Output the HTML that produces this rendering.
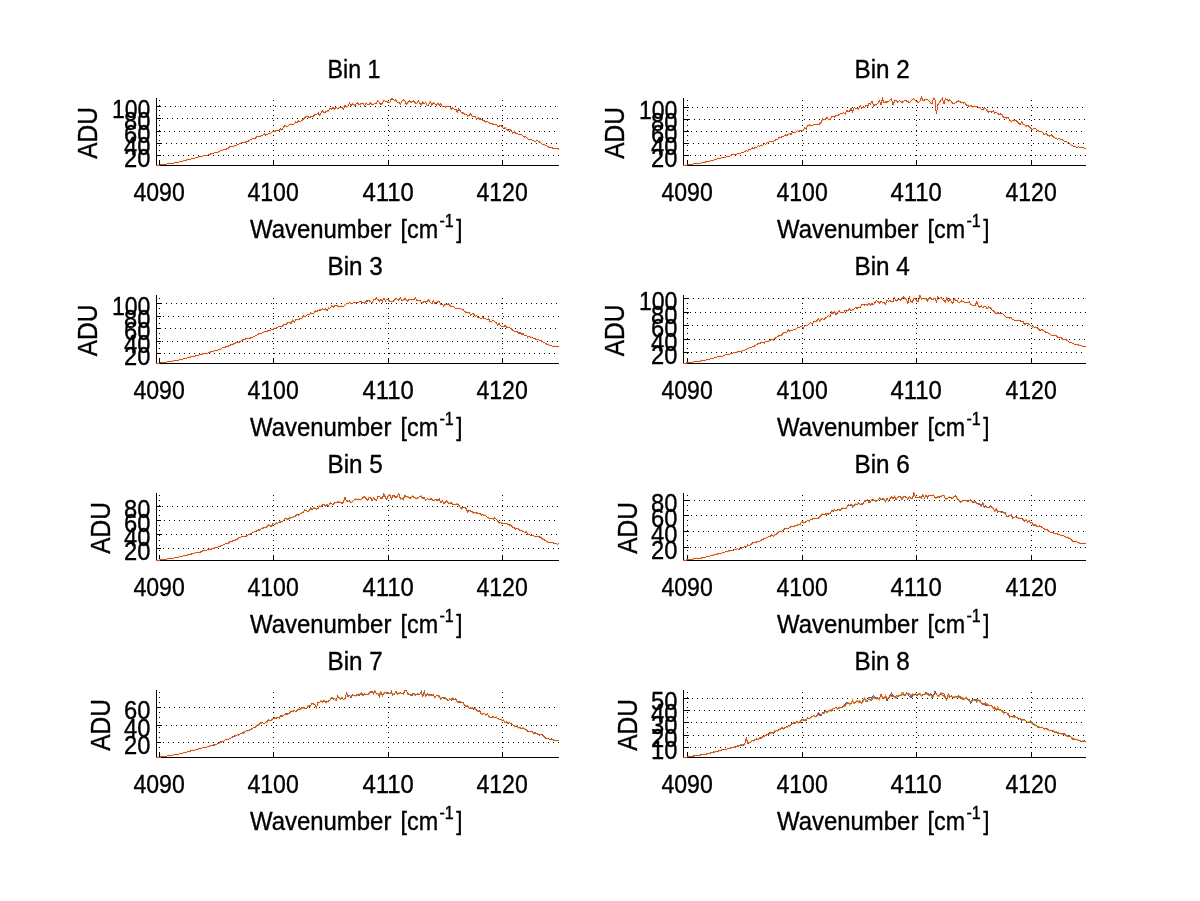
<!DOCTYPE html>
<html><head><meta charset="utf-8"><title>Bins</title>
<style>html,body{margin:0;padding:0;background:#fff}body{width:1200px;height:901px;overflow:hidden}</style>
</head><body>
<svg width="1200" height="901" viewBox="0 0 1200 901" style="display:block">
<rect width="1200" height="901" fill="#fff"/>
<g fill="none" stroke="#ffd9a8" stroke-opacity="0.35" stroke-width="3" stroke-linejoin="round"><polyline points="156.5,165.5 158.0,165.3 159.5,165.1 161.0,164.9 162.5,164.7 164.0,164.4 165.5,164.3 167.0,164.0 168.5,163.6 170.0,163.4 171.5,163.4 173.0,163.2 174.5,163.0 176.0,162.6 177.4,162.4 178.9,161.9 180.4,161.7 181.9,161.3 183.4,160.9 184.9,160.6 186.4,160.1 187.9,159.7 189.4,159.5 190.9,158.9 192.4,158.5 193.9,158.6 195.4,158.0 196.9,157.4 198.4,157.0 199.9,156.6 201.4,156.7 202.9,156.1 204.4,155.7 205.9,155.2 207.4,155.3 208.9,154.2 210.4,154.2 211.9,153.3 213.4,153.3 214.9,152.6 216.4,152.3 217.8,152.3 219.3,151.5 220.8,150.6 222.3,150.4 223.8,149.4 225.3,149.4 226.8,148.9 228.3,148.1 229.8,146.9 231.3,146.9 232.8,146.8 234.3,145.7 235.8,145.6 237.3,144.7 238.8,144.1 240.3,143.1 241.8,142.9 243.3,142.6 244.8,142.2 246.3,141.5 247.8,141.6 249.3,140.2 250.8,139.8 252.3,138.7 253.8,138.5 255.3,138.2 256.8,136.7 258.2,136.8 259.7,136.4 261.2,135.9 262.7,135.1 264.2,134.0 265.7,135.1 267.2,134.3 268.7,133.8 270.2,134.0 271.7,132.1 273.2,131.7 274.7,131.7 276.2,130.5 277.7,130.2 279.2,130.1 280.7,128.8 282.2,129.5 283.7,126.8 285.2,125.3 286.7,126.8 288.2,125.9 289.7,124.3 291.2,124.4 292.7,124.9 294.2,124.1 295.7,121.6 297.2,122.7 298.6,120.9 300.1,122.1 301.6,120.4 303.1,119.5 304.6,117.8 306.1,116.5 307.6,116.1 309.1,118.0 310.6,116.8 312.1,116.7 313.6,115.9 315.1,114.4 316.6,114.4 318.1,112.7 319.6,115.2 321.1,112.8 322.6,110.8 324.1,112.8 325.6,111.8 327.1,110.9 328.6,110.8 330.1,108.5 331.6,109.0 333.1,107.4 334.6,109.2 336.1,107.3 337.6,108.6 339.0,107.9 340.5,107.5 342.0,107.3 343.5,109.1 345.0,105.6 346.5,106.9 348.0,106.1 349.5,103.4 351.0,105.9 352.5,103.9 354.0,105.1 355.5,105.1 357.0,102.8 358.5,104.1 360.0,104.3 361.5,103.5 363.0,103.0 364.5,105.6 366.0,102.9 367.5,104.3 369.0,104.9 370.5,102.7 372.0,104.5 373.5,104.3 375.0,103.5 376.5,103.0 377.9,100.8 379.4,102.8 380.9,104.4 382.4,103.4 383.9,100.1 385.4,101.3 386.9,101.4 388.4,102.6 389.9,102.5 391.4,98.5 392.9,99.1 394.4,100.2 395.9,99.8 397.4,102.5 398.9,101.9 400.4,104.2 401.9,101.1 403.4,100.0 404.9,101.1 406.4,104.2 407.9,102.4 409.4,100.8 410.9,102.1 412.4,101.9 413.9,100.6 415.4,103.0 416.9,103.3 418.3,100.6 419.8,103.1 421.3,104.8 422.8,102.1 424.3,103.7 425.8,102.3 427.3,106.0 428.8,104.5 430.3,101.4 431.8,105.0 433.3,102.8 434.8,103.9 436.3,105.1 437.8,103.4 439.3,105.1 440.8,103.9 442.3,106.8 443.8,106.6 445.3,107.1 446.8,106.1 448.3,106.9 449.8,106.4 451.3,109.2 452.8,107.7 454.3,109.2 455.8,109.2 457.3,111.9 458.7,109.3 460.2,110.8 461.7,112.8 463.2,113.1 464.7,114.3 466.2,114.5 467.7,115.9 469.2,115.7 470.7,113.4 472.2,116.7 473.7,116.4 475.2,116.7 476.7,119.3 478.2,117.5 479.7,119.0 481.2,119.0 482.7,120.4 484.2,120.7 485.7,122.0 487.2,121.5 488.7,122.5 490.2,123.8 491.7,123.8 493.2,124.1 494.7,124.6 496.2,124.3 497.7,126.2 499.1,126.1 500.6,125.3 502.1,126.8 503.6,128.7 505.1,127.8 506.6,129.6 508.1,130.6 509.6,129.2 511.1,130.5 512.6,132.9 514.1,131.9 515.6,133.2 517.1,133.1 518.6,134.6 520.1,134.5 521.6,134.7 523.1,136.0 524.6,137.1 526.1,136.9 527.6,138.4 529.1,139.9 530.6,139.9 532.1,139.9 533.6,140.6 535.1,141.6 536.6,140.5 538.1,141.1 539.5,142.0 541.0,143.1 542.5,144.3 544.0,144.1 545.5,145.6 547.0,146.0 548.5,147.1 550.0,147.4 551.5,147.8 553.0,148.1 554.5,148.4 556.0,148.6 557.5,148.5 559.0,149.3"/>
<polyline points="683.5,165.5 685.0,165.3 686.5,165.1 688.0,164.9 689.5,164.7 691.0,164.5 692.5,164.2 694.0,163.9 695.5,163.7 697.0,163.4 698.5,163.3 700.0,163.2 701.5,162.8 703.0,162.2 704.4,162.3 705.9,161.9 707.4,161.6 708.9,161.5 710.4,160.8 711.9,160.5 713.4,160.1 714.9,159.9 716.4,159.4 717.9,158.7 719.4,158.7 720.9,158.0 722.4,157.5 723.9,157.1 725.4,157.3 726.9,156.3 728.4,156.5 729.9,156.0 731.4,155.0 732.9,154.7 734.4,154.5 735.9,154.7 737.4,153.8 738.9,153.6 740.4,153.7 741.9,152.5 743.4,152.3 744.8,151.6 746.3,150.6 747.8,151.3 749.3,149.2 750.8,149.2 752.3,147.8 753.8,148.6 755.3,147.4 756.8,147.2 758.3,145.9 759.8,146.2 761.3,145.0 762.8,145.2 764.3,143.6 765.8,144.5 767.3,143.0 768.8,142.0 770.3,141.6 771.8,141.6 773.3,141.7 774.8,140.5 776.3,139.5 777.8,139.1 779.3,137.3 780.8,137.4 782.3,136.5 783.8,136.1 785.2,134.7 786.7,135.8 788.2,134.4 789.7,133.5 791.2,134.6 792.7,131.8 794.2,132.5 795.7,132.2 797.2,130.7 798.7,131.2 800.2,130.7 801.7,130.4 803.2,130.0 804.7,127.9 806.2,129.2 807.7,125.5 809.2,124.8 810.7,126.0 812.2,125.5 813.7,124.3 815.2,124.4 816.7,124.8 818.2,124.1 819.7,124.0 821.2,122.2 822.7,118.8 824.2,120.0 825.6,119.1 827.1,117.6 828.6,119.6 830.1,119.3 831.6,117.0 833.1,116.1 834.6,117.0 836.1,115.4 837.6,115.7 839.1,114.8 840.6,113.5 842.1,113.4 843.6,112.7 845.1,114.2 846.6,110.5 848.1,111.5 849.6,110.9 851.1,108.6 852.6,111.7 854.1,107.7 855.6,108.3 857.1,108.8 858.6,109.1 860.1,105.8 861.6,108.1 863.1,106.9 864.6,107.4 866.0,105.4 867.5,106.7 869.0,102.9 870.5,104.2 872.0,101.2 873.5,106.0 875.0,104.8 876.5,105.0 878.0,102.7 879.5,100.6 881.0,104.9 882.5,98.3 884.0,102.7 885.5,102.0 887.0,102.1 888.5,101.7 890.0,100.0 891.5,99.1 893.0,104.4 894.5,101.3 896.0,99.8 897.5,102.0 899.0,100.8 900.5,101.3 902.0,102.6 903.5,101.4 904.9,99.9 906.4,101.2 907.9,101.4 909.4,102.6 910.9,101.2 912.4,99.4 913.9,98.8 915.4,100.4 916.9,101.7 918.4,102.5 919.9,101.3 921.4,96.9 922.9,100.8 924.4,99.9 925.9,99.1 927.4,99.4 928.9,100.6 930.4,102.7 931.9,104.0 933.4,98.5 934.9,99.1 936.4,114.2 937.9,104.8 939.4,102.3 940.9,100.1 942.4,98.3 943.9,103.9 945.3,98.5 946.8,99.5 948.3,101.0 949.8,99.6 951.3,101.7 952.8,103.2 954.3,103.8 955.8,102.3 957.3,101.7 958.8,100.9 960.3,101.8 961.8,102.7 963.3,103.0 964.8,102.7 966.3,105.1 967.8,105.3 969.3,106.8 970.8,105.4 972.3,107.0 973.8,106.2 975.3,106.1 976.8,106.6 978.3,107.1 979.8,107.4 981.3,109.5 982.8,109.9 984.3,107.7 985.7,108.8 987.2,110.6 988.7,112.0 990.2,111.8 991.7,111.9 993.2,110.9 994.7,113.4 996.2,112.3 997.7,113.5 999.2,114.6 1000.7,114.0 1002.2,115.0 1003.7,117.8 1005.2,117.3 1006.7,118.1 1008.2,117.5 1009.7,120.0 1011.2,121.4 1012.7,120.2 1014.2,120.9 1015.7,120.5 1017.2,121.4 1018.7,123.4 1020.2,124.8 1021.7,121.8 1023.2,124.7 1024.7,124.6 1026.1,126.2 1027.6,125.1 1029.1,126.4 1030.6,128.2 1032.1,129.3 1033.6,128.8 1035.1,128.2 1036.6,129.8 1038.1,130.8 1039.6,131.4 1041.1,131.4 1042.6,132.2 1044.1,134.5 1045.6,133.5 1047.1,134.5 1048.6,135.9 1050.1,136.1 1051.6,134.8 1053.1,136.6 1054.6,137.8 1056.1,138.4 1057.6,139.6 1059.1,138.3 1060.6,139.2 1062.1,139.7 1063.6,140.5 1065.1,141.9 1066.5,141.6 1068.0,142.7 1069.5,143.2 1071.0,145.0 1072.5,145.8 1074.0,146.4 1075.5,146.8 1077.0,147.4 1078.5,146.8 1080.0,147.7 1081.5,147.6 1083.0,147.6 1084.5,148.2 1086.0,148.4"/>
<polyline points="156.5,363.5 158.0,363.3 159.5,363.1 161.0,362.9 162.5,362.7 164.0,362.5 165.5,362.2 167.0,362.0 168.5,361.9 170.0,361.5 171.5,361.4 173.0,361.1 174.5,360.8 176.0,360.6 177.4,360.3 178.9,360.0 180.4,359.5 181.9,359.4 183.4,359.0 184.9,358.5 186.4,358.3 187.9,357.6 189.4,357.5 190.9,356.9 192.4,356.5 193.9,356.1 195.4,356.0 196.9,355.6 198.4,355.4 199.9,354.5 201.4,354.6 202.9,353.7 204.4,353.9 205.9,352.9 207.4,353.2 208.9,352.8 210.4,352.0 211.9,351.6 213.4,351.4 214.9,350.5 216.4,350.7 217.8,350.2 219.3,349.7 220.8,349.1 222.3,348.0 223.8,347.8 225.3,347.1 226.8,346.3 228.3,346.1 229.8,345.4 231.3,344.5 232.8,344.5 234.3,343.3 235.8,342.9 237.3,342.7 238.8,342.2 240.3,341.8 241.8,340.3 243.3,339.6 244.8,340.0 246.3,338.4 247.8,338.1 249.3,338.7 250.8,337.9 252.3,337.7 253.8,336.4 255.3,335.9 256.8,335.3 258.2,334.1 259.7,333.4 261.2,333.9 262.7,332.4 264.2,331.9 265.7,331.4 267.2,331.2 268.7,330.5 270.2,330.7 271.7,329.3 273.2,329.2 274.7,328.5 276.2,328.1 277.7,327.1 279.2,326.8 280.7,326.2 282.2,326.4 283.7,324.5 285.2,324.9 286.7,323.9 288.2,322.5 289.7,323.0 291.2,323.0 292.7,320.3 294.2,322.3 295.7,319.8 297.2,319.9 298.6,319.4 300.1,318.9 301.6,318.8 303.1,315.9 304.6,316.5 306.1,316.1 307.6,314.4 309.1,315.2 310.6,312.9 312.1,313.8 313.6,313.8 315.1,310.9 316.6,311.3 318.1,310.8 319.6,309.9 321.1,310.1 322.6,308.7 324.1,310.0 325.6,308.8 327.1,310.4 328.6,308.1 330.1,308.0 331.6,305.9 333.1,307.3 334.6,305.9 336.1,306.0 337.6,305.9 339.0,306.9 340.5,306.4 342.0,305.9 343.5,306.9 345.0,305.1 346.5,303.2 348.0,303.6 349.5,302.6 351.0,303.3 352.5,303.3 354.0,302.1 355.5,302.9 357.0,302.9 358.5,302.4 360.0,300.8 361.5,302.1 363.0,302.1 364.5,303.0 366.0,301.1 367.5,301.0 369.0,300.7 370.5,301.7 372.0,303.0 373.5,299.9 375.0,299.6 376.5,298.2 377.9,299.8 379.4,301.2 380.9,299.3 382.4,301.7 383.9,298.2 385.4,300.9 386.9,299.1 388.4,299.7 389.9,301.8 391.4,301.1 392.9,301.4 394.4,299.8 395.9,298.4 397.4,299.3 398.9,300.2 400.4,298.1 401.9,300.8 403.4,300.0 404.9,298.5 406.4,300.2 407.9,301.2 409.4,299.0 410.9,299.3 412.4,299.7 413.9,299.4 415.4,298.2 416.9,300.3 418.3,300.6 419.8,300.1 421.3,302.4 422.8,302.9 424.3,301.2 425.8,302.1 427.3,301.3 428.8,299.9 430.3,302.3 431.8,303.8 433.3,301.0 434.8,303.7 436.3,302.7 437.8,301.8 439.3,301.4 440.8,304.6 442.3,304.4 443.8,306.2 445.3,304.1 446.8,304.7 448.3,303.6 449.8,305.1 451.3,306.7 452.8,306.0 454.3,307.4 455.8,308.6 457.3,308.2 458.7,308.3 460.2,308.4 461.7,309.6 463.2,309.6 464.7,311.7 466.2,312.4 467.7,312.9 469.2,312.5 470.7,314.9 472.2,313.6 473.7,313.9 475.2,316.2 476.7,315.7 478.2,317.8 479.7,317.8 481.2,318.8 482.7,317.1 484.2,318.5 485.7,318.5 487.2,320.0 488.7,319.0 490.2,321.9 491.7,321.2 493.2,320.2 494.7,321.8 496.2,322.4 497.7,324.9 499.1,323.3 500.6,325.9 502.1,326.4 503.6,326.6 505.1,325.3 506.6,327.4 508.1,327.2 509.6,327.8 511.1,328.4 512.6,330.1 514.1,330.9 515.6,331.9 517.1,331.5 518.6,333.2 520.1,332.8 521.6,334.3 523.1,333.8 524.6,335.7 526.1,335.2 527.6,337.0 529.1,336.7 530.6,337.1 532.1,337.5 533.6,338.4 535.1,338.5 536.6,339.8 538.1,339.7 539.5,340.4 541.0,340.5 542.5,341.7 544.0,342.5 545.5,343.1 547.0,344.4 548.5,344.9 550.0,345.7 551.5,345.8 553.0,346.3 554.5,346.5 556.0,346.6 557.5,346.5 559.0,346.6"/>
<polyline points="683.5,363.5 685.0,363.3 686.5,363.0 688.0,362.8 689.5,362.6 691.0,362.4 692.5,362.2 694.0,361.9 695.5,361.7 697.0,361.5 698.5,361.4 700.0,361.1 701.5,360.9 703.0,360.6 704.4,360.6 705.9,359.9 707.4,359.7 708.9,359.3 710.4,358.8 711.9,358.8 713.4,358.3 714.9,357.5 716.4,357.4 717.9,356.7 719.4,356.5 720.9,356.0 722.4,356.3 723.9,355.5 725.4,355.0 726.9,354.7 728.4,354.1 729.9,354.0 731.4,353.6 732.9,352.9 734.4,352.9 735.9,352.6 737.4,352.2 738.9,351.0 740.4,351.1 741.9,351.1 743.4,350.3 744.8,350.2 746.3,349.4 747.8,348.2 749.3,348.0 750.8,347.5 752.3,346.7 753.8,346.7 755.3,345.2 756.8,344.8 758.3,343.4 759.8,343.7 761.3,342.3 762.8,342.7 764.3,343.0 765.8,341.3 767.3,341.4 768.8,341.2 770.3,340.3 771.8,339.0 773.3,340.0 774.8,338.3 776.3,337.6 777.8,336.5 779.3,335.4 780.8,335.9 782.3,334.0 783.8,332.5 785.2,332.9 786.7,332.5 788.2,329.8 789.7,331.3 791.2,330.4 792.7,330.0 794.2,329.3 795.7,329.7 797.2,327.8 798.7,327.8 800.2,327.0 801.7,326.7 803.2,328.2 804.7,325.9 806.2,325.1 807.7,325.4 809.2,323.5 810.7,322.5 812.2,324.4 813.7,321.5 815.2,321.7 816.7,320.9 818.2,318.9 819.7,321.3 821.2,319.1 822.7,318.9 824.2,319.7 825.6,317.9 827.1,316.9 828.6,315.6 830.1,317.0 831.6,312.0 833.1,313.8 834.6,311.8 836.1,314.5 837.6,313.0 839.1,310.6 840.6,312.4 842.1,312.2 843.6,312.5 845.1,310.0 846.6,311.1 848.1,310.0 849.6,308.9 851.1,310.4 852.6,309.9 854.1,308.9 855.6,307.7 857.1,308.2 858.6,307.2 860.1,307.9 861.6,304.8 863.1,304.2 864.6,305.4 866.0,304.0 867.5,305.1 869.0,302.8 870.5,305.0 872.0,303.6 873.5,304.7 875.0,302.5 876.5,300.3 878.0,301.6 879.5,303.4 881.0,301.0 882.5,302.6 884.0,302.4 885.5,304.1 887.0,300.4 888.5,301.2 890.0,300.7 891.5,301.8 893.0,301.5 894.5,298.1 896.0,301.1 897.5,299.9 899.0,299.4 900.5,300.0 902.0,298.4 903.5,297.0 904.9,298.5 906.4,299.3 907.9,303.5 909.4,297.2 910.9,301.7 912.4,302.2 913.9,298.1 915.4,298.4 916.9,301.1 918.4,301.1 919.9,295.3 921.4,299.2 922.9,298.6 924.4,299.0 925.9,298.5 927.4,300.7 928.9,298.0 930.4,297.8 931.9,299.3 933.4,299.0 934.9,298.4 936.4,302.0 937.9,296.9 939.4,298.7 940.9,297.2 942.4,299.6 943.9,300.5 945.3,301.8 946.8,297.5 948.3,301.8 949.8,298.9 951.3,301.4 952.8,303.5 954.3,298.4 955.8,300.8 957.3,300.7 958.8,302.8 960.3,301.6 961.8,300.9 963.3,301.5 964.8,302.6 966.3,302.8 967.8,302.7 969.3,301.8 970.8,304.1 972.3,305.4 973.8,305.6 975.3,305.0 976.8,301.8 978.3,305.8 979.8,307.3 981.3,305.8 982.8,307.7 984.3,306.6 985.7,306.6 987.2,309.0 988.7,307.0 990.2,307.4 991.7,309.6 993.2,310.8 994.7,312.2 996.2,313.8 997.7,312.8 999.2,313.2 1000.7,313.8 1002.2,313.4 1003.7,314.5 1005.2,316.2 1006.7,317.6 1008.2,317.7 1009.7,318.1 1011.2,317.8 1012.7,319.8 1014.2,320.0 1015.7,320.2 1017.2,320.8 1018.7,320.5 1020.2,321.0 1021.7,321.7 1023.2,321.9 1024.7,324.6 1026.1,323.3 1027.6,323.3 1029.1,324.3 1030.6,325.7 1032.1,327.2 1033.6,326.8 1035.1,327.2 1036.6,327.7 1038.1,328.2 1039.6,330.5 1041.1,329.8 1042.6,330.0 1044.1,331.1 1045.6,332.1 1047.1,332.5 1048.6,333.3 1050.1,334.2 1051.6,335.4 1053.1,335.0 1054.6,335.3 1056.1,335.9 1057.6,337.1 1059.1,337.6 1060.6,337.1 1062.1,338.9 1063.6,339.3 1065.1,339.1 1066.5,340.1 1068.0,341.2 1069.5,342.8 1071.0,342.0 1072.5,343.6 1074.0,344.0 1075.5,344.7 1077.0,344.4 1078.5,345.0 1080.0,345.1 1081.5,345.8 1083.0,346.3 1084.5,346.3 1086.0,346.9"/>
<polyline points="156.5,560.5 158.0,560.3 159.5,560.1 161.0,559.8 162.5,559.7 164.0,559.5 165.5,559.2 167.0,559.1 168.5,558.7 170.0,558.6 171.5,558.3 173.0,558.1 174.5,558.0 176.0,557.5 177.4,557.5 178.9,557.0 180.4,556.8 181.9,556.6 183.4,556.0 184.9,555.6 186.4,555.2 187.9,554.9 189.4,554.4 190.9,554.2 192.4,553.9 193.9,553.6 195.4,552.8 196.9,552.5 198.4,552.1 199.9,552.1 201.4,551.5 202.9,550.8 204.4,550.4 205.9,550.4 207.4,550.0 208.9,549.5 210.4,549.6 211.9,548.8 213.4,548.4 214.9,547.9 216.4,547.5 217.8,547.0 219.3,546.4 220.8,546.1 222.3,545.1 223.8,544.7 225.3,543.9 226.8,543.5 228.3,543.1 229.8,541.5 231.3,541.8 232.8,540.8 234.3,540.2 235.8,539.9 237.3,539.0 238.8,538.1 240.3,537.4 241.8,536.5 243.3,536.4 244.8,536.1 246.3,536.2 247.8,535.1 249.3,534.7 250.8,533.9 252.3,532.8 253.8,532.1 255.3,531.3 256.8,530.9 258.2,530.0 259.7,529.9 261.2,528.7 262.7,528.3 264.2,527.2 265.7,527.6 267.2,526.2 268.7,525.0 270.2,526.0 271.7,526.4 273.2,523.4 274.7,524.5 276.2,522.9 277.7,523.1 279.2,522.3 280.7,521.8 282.2,521.6 283.7,520.5 285.2,518.4 286.7,519.0 288.2,519.1 289.7,518.1 291.2,517.7 292.7,517.2 294.2,516.6 295.7,516.2 297.2,514.3 298.6,515.5 300.1,513.9 301.6,513.1 303.1,512.7 304.6,510.2 306.1,510.5 307.6,511.5 309.1,510.8 310.6,508.1 312.1,509.6 313.6,508.3 315.1,508.2 316.6,509.1 318.1,508.1 319.6,506.1 321.1,506.3 322.6,504.5 324.1,504.8 325.6,506.0 327.1,505.2 328.6,506.1 330.1,503.3 331.6,503.7 333.1,504.6 334.6,502.9 336.1,502.8 337.6,502.2 339.0,502.1 340.5,502.3 342.0,503.4 343.5,501.8 345.0,497.4 346.5,500.7 348.0,501.2 349.5,501.3 351.0,502.7 352.5,501.5 354.0,499.9 355.5,499.1 357.0,499.8 358.5,499.1 360.0,499.9 361.5,499.5 363.0,497.2 364.5,496.9 366.0,498.3 367.5,499.9 369.0,497.8 370.5,497.4 372.0,500.6 373.5,497.9 375.0,499.3 376.5,500.2 377.9,496.4 379.4,496.6 380.9,498.3 382.4,498.2 383.9,494.0 385.4,497.5 386.9,498.9 388.4,495.5 389.9,494.9 391.4,498.8 392.9,495.7 394.4,496.3 395.9,497.4 397.4,496.0 398.9,493.9 400.4,499.0 401.9,498.2 403.4,499.3 404.9,495.8 406.4,496.9 407.9,496.9 409.4,497.8 410.9,498.5 412.4,496.2 413.9,497.2 415.4,498.1 416.9,498.8 418.3,497.4 419.8,496.1 421.3,496.2 422.8,498.5 424.3,497.6 425.8,500.1 427.3,498.4 428.8,499.7 430.3,499.1 431.8,499.0 433.3,500.6 434.8,500.0 436.3,499.5 437.8,500.1 439.3,499.2 440.8,502.2 442.3,500.4 443.8,503.5 445.3,502.3 446.8,500.9 448.3,503.1 449.8,503.7 451.3,502.5 452.8,504.4 454.3,504.5 455.8,504.4 457.3,504.1 458.7,505.0 460.2,507.4 461.7,508.4 463.2,507.5 464.7,507.8 466.2,508.2 467.7,511.8 469.2,510.2 470.7,511.2 472.2,511.8 473.7,513.1 475.2,512.5 476.7,513.1 478.2,513.0 479.7,513.4 481.2,514.9 482.7,514.7 484.2,515.9 485.7,515.4 487.2,517.3 488.7,518.0 490.2,519.0 491.7,518.2 493.2,519.1 494.7,517.6 496.2,519.3 497.7,520.7 499.1,523.1 500.6,522.7 502.1,523.4 503.6,523.5 505.1,523.6 506.6,524.0 508.1,524.1 509.6,525.1 511.1,525.2 512.6,527.1 514.1,527.6 515.6,529.3 517.1,528.5 518.6,529.2 520.1,530.5 521.6,530.9 523.1,531.1 524.6,532.4 526.1,531.9 527.6,534.2 529.1,534.2 530.6,535.3 532.1,535.1 533.6,535.6 535.1,536.5 536.6,536.7 538.1,536.0 539.5,536.9 541.0,537.1 542.5,539.0 544.0,539.7 545.5,540.6 547.0,541.9 548.5,542.1 550.0,542.6 551.5,542.5 553.0,542.9 554.5,543.5 556.0,543.4 557.5,544.1 559.0,543.7"/>
<polyline points="683.5,560.5 685.0,560.3 686.5,560.1 688.0,559.8 689.5,559.7 691.0,559.4 692.5,559.2 694.0,558.9 695.5,558.8 697.0,558.6 698.5,558.4 700.0,558.0 701.5,558.0 703.0,557.5 704.4,557.4 705.9,557.2 707.4,556.6 708.9,556.1 710.4,556.0 711.9,555.6 713.4,555.1 714.9,554.5 716.4,554.3 717.9,553.9 719.4,553.6 720.9,553.2 722.4,553.0 723.9,552.5 725.4,551.9 726.9,551.6 728.4,551.0 729.9,550.9 731.4,550.7 732.9,550.1 734.4,549.9 735.9,549.5 737.4,548.9 738.9,549.2 740.4,548.6 741.9,547.7 743.4,547.2 744.8,546.7 746.3,546.4 747.8,545.1 749.3,545.3 750.8,544.7 752.3,543.2 753.8,542.7 755.3,542.5 756.8,541.9 758.3,541.3 759.8,541.3 761.3,540.1 762.8,539.5 764.3,538.3 765.8,538.1 767.3,537.4 768.8,536.5 770.3,536.2 771.8,534.9 773.3,536.6 774.8,535.0 776.3,534.3 777.8,532.3 779.3,531.9 780.8,532.0 782.3,530.8 783.8,530.0 785.2,528.5 786.7,528.8 788.2,528.5 789.7,527.6 791.2,526.5 792.7,526.6 794.2,526.2 795.7,525.7 797.2,525.0 798.7,524.5 800.2,524.3 801.7,522.1 803.2,522.0 804.7,522.7 806.2,521.4 807.7,520.6 809.2,521.2 810.7,519.1 812.2,519.3 813.7,518.3 815.2,518.3 816.7,518.3 818.2,518.3 819.7,516.6 821.2,515.3 822.7,514.1 824.2,514.9 825.6,514.0 827.1,513.9 828.6,514.0 830.1,513.5 831.6,511.3 833.1,510.7 834.6,509.8 836.1,510.3 837.6,509.6 839.1,509.7 840.6,510.4 842.1,508.1 843.6,508.4 845.1,508.0 846.6,508.3 848.1,504.6 849.6,505.5 851.1,504.0 852.6,506.6 854.1,505.2 855.6,504.4 857.1,504.6 858.6,503.2 860.1,504.2 861.6,504.3 863.1,503.1 864.6,500.8 866.0,501.1 867.5,499.7 869.0,502.8 870.5,501.4 872.0,499.8 873.5,499.7 875.0,500.9 876.5,500.3 878.0,499.9 879.5,498.3 881.0,499.4 882.5,498.7 884.0,499.3 885.5,501.5 887.0,498.2 888.5,500.5 890.0,499.0 891.5,497.0 893.0,498.7 894.5,496.5 896.0,499.4 897.5,497.3 899.0,496.6 900.5,496.9 902.0,499.1 903.5,496.9 904.9,496.8 906.4,497.3 907.9,499.2 909.4,496.6 910.9,498.0 912.4,498.5 913.9,492.9 915.4,497.1 916.9,497.6 918.4,497.4 919.9,496.9 921.4,497.8 922.9,494.4 924.4,497.8 925.9,495.2 927.4,497.3 928.9,495.6 930.4,495.5 931.9,495.4 933.4,495.2 934.9,497.4 936.4,497.5 937.9,497.1 939.4,496.8 940.9,496.6 942.4,496.0 943.9,495.6 945.3,498.6 946.8,499.0 948.3,497.7 949.8,497.0 951.3,497.7 952.8,498.2 954.3,496.7 955.8,496.2 957.3,498.9 958.8,499.6 960.3,502.4 961.8,501.8 963.3,500.0 964.8,500.3 966.3,500.9 967.8,501.3 969.3,500.6 970.8,500.1 972.3,501.9 973.8,502.5 975.3,501.7 976.8,503.7 978.3,504.1 979.8,504.0 981.3,505.3 982.8,502.7 984.3,507.7 985.7,506.1 987.2,507.4 988.7,507.7 990.2,505.7 991.7,507.5 993.2,508.2 994.7,511.4 996.2,508.6 997.7,511.5 999.2,511.3 1000.7,511.9 1002.2,512.4 1003.7,512.7 1005.2,513.4 1006.7,516.4 1008.2,516.1 1009.7,515.4 1011.2,515.4 1012.7,517.7 1014.2,517.6 1015.7,516.5 1017.2,517.7 1018.7,518.1 1020.2,518.8 1021.7,518.7 1023.2,519.4 1024.7,521.0 1026.1,520.0 1027.6,522.1 1029.1,520.8 1030.6,522.9 1032.1,522.9 1033.6,525.5 1035.1,524.8 1036.6,526.3 1038.1,526.5 1039.6,525.9 1041.1,526.8 1042.6,527.7 1044.1,528.8 1045.6,529.9 1047.1,529.5 1048.6,531.2 1050.1,532.0 1051.6,532.1 1053.1,532.9 1054.6,533.2 1056.1,533.0 1057.6,534.4 1059.1,534.4 1060.6,535.3 1062.1,536.0 1063.6,535.6 1065.1,536.7 1066.5,537.4 1068.0,537.4 1069.5,538.7 1071.0,539.1 1072.5,541.0 1074.0,541.3 1075.5,541.3 1077.0,542.0 1078.5,542.8 1080.0,543.2 1081.5,543.7 1083.0,543.6 1084.5,543.8 1086.0,543.6"/>
<polyline points="156.5,757.5 158.0,757.3 159.5,757.1 161.0,756.9 162.5,756.7 164.0,756.4 165.5,756.2 167.0,756.0 168.5,755.8 170.0,755.5 171.5,755.3 173.0,755.1 174.5,754.8 176.0,754.5 177.4,754.4 178.9,754.0 180.4,753.8 181.9,753.4 183.4,752.7 184.9,752.5 186.4,752.2 187.9,751.6 189.4,751.4 190.9,750.9 192.4,750.3 193.9,750.1 195.4,750.0 196.9,749.6 198.4,748.9 199.9,748.5 201.4,748.4 202.9,747.5 204.4,747.2 205.9,747.2 207.4,746.8 208.9,746.3 210.4,745.8 211.9,745.5 213.4,745.0 214.9,744.8 216.4,744.3 217.8,743.5 219.3,742.9 220.8,742.2 222.3,741.6 223.8,741.4 225.3,739.6 226.8,739.7 228.3,739.4 229.8,738.8 231.3,737.6 232.8,737.3 234.3,736.0 235.8,735.9 237.3,734.7 238.8,734.7 240.3,733.8 241.8,733.1 243.3,732.8 244.8,732.1 246.3,730.9 247.8,731.0 249.3,730.3 250.8,729.5 252.3,728.6 253.8,727.5 255.3,727.5 256.8,725.2 258.2,725.0 259.7,723.5 261.2,722.7 262.7,722.7 264.2,723.6 265.7,722.2 267.2,721.8 268.7,719.7 270.2,720.7 271.7,719.8 273.2,718.8 274.7,718.1 276.2,718.1 277.7,717.4 279.2,718.1 280.7,715.6 282.2,716.5 283.7,715.3 285.2,713.8 286.7,714.5 288.2,713.5 289.7,712.5 291.2,711.7 292.7,711.7 294.2,710.5 295.7,711.9 297.2,710.1 298.6,709.2 300.1,709.5 301.6,707.6 303.1,707.9 304.6,708.0 306.1,708.8 307.6,707.1 309.1,705.9 310.6,705.9 312.1,703.2 313.6,704.6 315.1,705.1 316.6,707.3 318.1,702.2 319.6,702.5 321.1,700.9 322.6,702.2 324.1,700.5 325.6,702.5 327.1,701.8 328.6,700.9 330.1,699.7 331.6,697.9 333.1,698.7 334.6,698.5 336.1,700.3 337.6,696.6 339.0,697.8 340.5,698.8 342.0,698.5 343.5,699.5 345.0,698.6 346.5,693.1 348.0,696.3 349.5,695.4 351.0,697.0 352.5,695.2 354.0,695.5 355.5,695.7 357.0,695.0 358.5,694.4 360.0,694.9 361.5,693.9 363.0,695.3 364.5,694.0 366.0,694.7 367.5,694.4 369.0,693.8 370.5,691.9 372.0,691.5 373.5,693.5 375.0,690.7 376.5,693.6 377.9,693.8 379.4,695.9 380.9,691.9 382.4,695.2 383.9,693.4 385.4,692.4 386.9,692.9 388.4,692.9 389.9,693.1 391.4,691.3 392.9,694.7 394.4,694.2 395.9,691.4 397.4,694.0 398.9,693.5 400.4,692.9 401.9,693.6 403.4,693.9 404.9,690.5 406.4,691.0 407.9,694.1 409.4,694.5 410.9,695.5 412.4,694.3 413.9,693.7 415.4,694.9 416.9,694.5 418.3,694.0 419.8,694.4 421.3,692.3 422.8,696.6 424.3,692.5 425.8,696.1 427.3,693.9 428.8,694.8 430.3,694.9 431.8,695.4 433.3,694.7 434.8,697.2 436.3,695.9 437.8,695.3 439.3,696.6 440.8,699.0 442.3,697.6 443.8,697.8 445.3,698.5 446.8,699.5 448.3,700.5 449.8,698.9 451.3,699.6 452.8,698.2 454.3,700.0 455.8,698.9 457.3,701.6 458.7,702.4 460.2,702.3 461.7,702.6 463.2,702.8 464.7,705.4 466.2,706.3 467.7,705.6 469.2,708.1 470.7,708.5 472.2,707.8 473.7,708.9 475.2,708.0 476.7,710.5 478.2,711.2 479.7,710.9 481.2,713.8 482.7,714.4 484.2,713.3 485.7,714.7 487.2,714.3 488.7,716.0 490.2,717.4 491.7,717.4 493.2,716.6 494.7,717.7 496.2,717.3 497.7,718.6 499.1,719.1 500.6,719.2 502.1,720.3 503.6,720.4 505.1,722.3 506.6,722.0 508.1,723.5 509.6,722.3 511.1,723.9 512.6,724.5 514.1,725.9 515.6,726.7 517.1,725.9 518.6,727.7 520.1,727.5 521.6,728.5 523.1,728.1 524.6,728.8 526.1,729.6 527.6,731.0 529.1,731.5 530.6,731.2 532.1,732.0 533.6,733.3 535.1,732.8 536.6,733.5 538.1,734.4 539.5,734.7 541.0,734.0 542.5,735.3 544.0,736.5 545.5,738.2 547.0,738.3 548.5,738.5 550.0,739.4 551.5,739.1 553.0,740.0 554.5,740.1 556.0,740.7 557.5,740.4 559.0,740.5"/>
<polyline points="683.5,757.5 685.0,757.3 686.5,757.1 688.0,756.8 689.5,756.7 691.0,756.5 692.5,756.3 694.0,756.1 695.5,755.8 697.0,755.6 698.5,755.2 700.0,755.1 701.5,755.0 703.0,754.7 704.4,754.2 705.9,754.3 707.4,753.7 708.9,753.4 710.4,753.1 711.9,752.8 713.4,752.0 714.9,752.0 716.4,751.3 717.9,751.3 719.4,750.4 720.9,750.4 722.4,749.8 723.9,749.8 725.4,749.5 726.9,749.0 728.4,748.3 729.9,748.4 731.4,747.6 732.9,747.5 734.4,747.0 735.9,746.7 737.4,746.2 738.9,746.0 740.4,745.2 741.9,745.2 743.4,744.8 744.8,744.1 746.3,738.1 747.8,743.1 749.3,742.5 750.8,742.0 752.3,740.6 753.8,740.9 755.3,739.6 756.8,738.9 758.3,739.4 759.8,738.0 761.3,738.4 762.8,736.6 764.3,736.3 765.8,735.5 767.3,734.6 768.8,734.3 770.3,732.9 771.8,732.8 773.3,733.0 774.8,731.3 776.3,730.9 777.8,731.0 779.3,729.8 780.8,728.9 782.3,727.9 783.8,728.8 785.2,727.6 786.7,726.8 788.2,725.7 789.7,726.0 791.2,724.6 792.7,723.6 794.2,722.4 795.7,723.2 797.2,721.4 798.7,722.5 800.2,722.0 801.7,719.4 803.2,720.3 804.7,720.4 806.2,720.2 807.7,718.2 809.2,718.4 810.7,717.5 812.2,716.3 813.7,715.6 815.2,717.0 816.7,715.9 818.2,713.6 819.7,713.9 821.2,714.4 822.7,713.5 824.2,712.6 825.6,710.5 827.1,712.2 828.6,710.6 830.1,710.5 831.6,710.8 833.1,708.8 834.6,708.5 836.1,707.3 837.6,708.8 839.1,707.5 840.6,707.7 842.1,707.4 843.6,705.9 845.1,705.3 846.6,703.6 848.1,703.1 849.6,704.0 851.1,703.9 852.6,701.3 854.1,703.3 855.6,702.4 857.1,700.9 858.6,701.7 860.1,702.2 861.6,703.1 863.1,701.0 864.6,698.5 866.0,700.3 867.5,700.9 869.0,699.1 870.5,699.5 872.0,698.6 873.5,697.2 875.0,698.2 876.5,698.1 878.0,698.6 879.5,698.8 881.0,694.2 882.5,698.7 884.0,697.7 885.5,696.8 887.0,699.2 888.5,698.4 890.0,695.6 891.5,694.9 893.0,696.4 894.5,696.7 896.0,697.2 897.5,697.0 899.0,695.0 900.5,695.3 902.0,694.1 903.5,694.4 904.9,696.0 906.4,693.5 907.9,693.3 909.4,694.8 910.9,695.3 912.4,694.9 913.9,694.8 915.4,693.8 916.9,695.6 918.4,694.4 919.9,693.5 921.4,695.8 922.9,694.6 924.4,694.5 925.9,693.5 927.4,693.7 928.9,694.1 930.4,694.1 931.9,696.0 933.4,696.5 934.9,692.9 936.4,694.4 937.9,695.8 939.4,695.0 940.9,693.7 942.4,695.6 943.9,694.9 945.3,697.6 946.8,699.3 948.3,694.2 949.8,696.6 951.3,695.8 952.8,697.9 954.3,697.2 955.8,696.8 957.3,696.9 958.8,696.5 960.3,696.4 961.8,698.4 963.3,699.5 964.8,698.6 966.3,698.0 967.8,699.1 969.3,699.9 970.8,702.0 972.3,700.4 973.8,699.7 975.3,700.5 976.8,700.8 978.3,701.0 979.8,700.5 981.3,702.7 982.8,704.7 984.3,703.0 985.7,704.2 987.2,704.8 988.7,705.9 990.2,705.4 991.7,705.8 993.2,708.4 994.7,707.6 996.2,710.2 997.7,708.9 999.2,709.6 1000.7,709.8 1002.2,711.4 1003.7,712.6 1005.2,712.8 1006.7,713.0 1008.2,713.6 1009.7,717.0 1011.2,716.3 1012.7,716.7 1014.2,716.6 1015.7,716.9 1017.2,717.5 1018.7,718.7 1020.2,718.8 1021.7,720.1 1023.2,719.6 1024.7,719.7 1026.1,721.2 1027.6,722.5 1029.1,722.3 1030.6,721.7 1032.1,723.2 1033.6,724.2 1035.1,725.0 1036.6,725.7 1038.1,726.8 1039.6,727.5 1041.1,727.3 1042.6,727.4 1044.1,729.0 1045.6,728.5 1047.1,728.9 1048.6,730.0 1050.1,730.5 1051.6,730.4 1053.1,731.0 1054.6,732.1 1056.1,732.6 1057.6,733.1 1059.1,733.2 1060.6,733.8 1062.1,733.8 1063.6,734.3 1065.1,734.6 1066.5,735.6 1068.0,736.3 1069.5,736.1 1071.0,737.0 1072.5,738.4 1074.0,739.4 1075.5,739.2 1077.0,739.6 1078.5,740.5 1080.0,740.6 1081.5,741.4 1083.0,741.0 1084.5,741.2 1086.0,741.5"/></g>
<g shape-rendering="crispEdges" fill="none" stroke="#000" stroke-width="1">
<path d="M160 106.5H559" stroke-dasharray="1 4"/>
<path d="M157 106.5h4"/>
<path d="M157 118.5H559" stroke-dasharray="1 4"/>
<path d="M157 118.5h4"/>
<path d="M159 131.5H559" stroke-dasharray="1 4"/>
<path d="M157 131.5h4"/>
<path d="M161 143.5H559" stroke-dasharray="1 4"/>
<path d="M157 143.5h4"/>
<path d="M158 155.5H559" stroke-dasharray="1 4"/>
<path d="M157 155.5h4"/>
<path d="M159.5 100V165" stroke-dasharray="1 4"/>
<path d="M159.5 160V165"/>
<path d="M273.5 100V165" stroke-dasharray="1 4"/>
<path d="M273.5 160V165"/>
<path d="M388.5 100V165" stroke-dasharray="1 4"/>
<path d="M388.5 160V165"/>
<path d="M502.5 100V165" stroke-dasharray="1 4"/>
<path d="M502.5 160V165"/>
<path d="M156.5 98V166M156 165.5H559"/>
<polyline points="156.5,165.5 158.0,165.3 159.5,165.1 161.0,164.9 162.5,164.7 164.0,164.4 165.5,164.3 167.0,164.0 168.5,163.6 170.0,163.4 171.5,163.4 173.0,163.2 174.5,163.0 176.0,162.6 177.4,162.4 178.9,161.9 180.4,161.7 181.9,161.3 183.4,160.9 184.9,160.6 186.4,160.0 187.9,159.7 189.4,159.5 190.9,158.9 192.4,158.5 193.9,158.7 195.4,158.0 196.9,157.5 198.4,157.0 199.9,156.6 201.4,156.7 202.9,156.1 204.4,155.7 205.9,155.1 207.4,155.4 208.9,154.2 210.4,154.1 211.9,153.3 213.4,153.3 214.9,152.6 216.4,152.3 217.8,152.3 219.3,151.5 220.8,150.6 222.3,150.4 223.8,149.4 225.3,149.4 226.8,148.9 228.3,148.1 229.8,146.9 231.3,146.9 232.8,146.8 234.3,145.6 235.8,145.7 237.3,144.8 238.8,144.1 240.3,143.1 241.8,142.9 243.3,142.6 244.8,142.3 246.3,141.6 247.8,141.6 249.3,140.2 250.8,139.8 252.3,138.6 253.8,138.5 255.3,138.1 256.8,136.7 258.2,136.8 259.7,136.4 261.2,135.9 262.7,135.1 264.2,134.0 265.7,135.1 267.2,134.3 268.7,133.8 270.2,134.0 271.7,132.2 273.2,131.7 274.7,131.8 276.2,130.5 277.7,130.2 279.2,130.1 280.7,128.9 282.2,129.5 283.7,126.8 285.2,125.2 286.7,126.8 288.2,125.9 289.7,124.3 291.2,124.5 292.7,124.8 294.2,124.1 295.7,121.7 297.2,122.6 298.6,120.9 300.1,122.1 301.6,120.4 303.1,119.4 304.6,117.8 306.1,116.6 307.6,116.1 309.1,118.0 310.6,116.9 312.1,116.7 313.6,116.0 315.1,114.4 316.6,114.4 318.1,112.9 319.6,115.3 321.1,112.9 322.6,110.8 324.1,112.8 325.6,111.9 327.1,110.9 328.6,110.9 330.1,108.5 331.6,109.2 333.1,107.4 334.6,109.2 336.1,107.4 337.6,108.6 339.0,108.0 340.5,107.4 342.0,107.3 343.5,109.1 345.0,105.4 346.5,106.8 348.0,105.9 349.5,103.3 351.0,105.8 352.5,103.9 354.0,105.0 355.5,105.1 357.0,102.7 358.5,104.0 360.0,104.4 361.5,103.5 363.0,103.1 364.5,105.7 366.0,102.9 367.5,104.4 369.0,104.8 370.5,102.7 372.0,104.6 373.5,104.4 375.0,103.5 376.5,103.0 377.9,100.7 379.4,102.7 380.9,104.6 382.4,103.3 383.9,100.1 385.4,101.2 386.9,101.4 388.4,102.4 389.9,102.5 391.4,98.4 392.9,99.0 394.4,100.2 395.9,99.7 397.4,102.5 398.9,102.0 400.4,104.3 401.9,101.0 403.4,100.0 404.9,101.1 406.4,104.2 407.9,102.4 409.4,101.0 410.9,102.1 412.4,102.0 413.9,100.5 415.4,103.0 416.9,103.1 418.3,100.6 419.8,103.0 421.3,104.9 422.8,102.4 424.3,103.6 425.8,102.3 427.3,106.0 428.8,104.6 430.3,101.5 431.8,104.9 433.3,103.0 434.8,103.7 436.3,104.9 437.8,103.2 439.3,105.1 440.8,103.7 442.3,106.8 443.8,106.6 445.3,106.9 446.8,106.1 448.3,106.8 449.8,106.4 451.3,109.2 452.8,107.7 454.3,109.1 455.8,109.2 457.3,112.0 458.7,109.2 460.2,110.8 461.7,113.0 463.2,113.1 464.7,114.2 466.2,114.5 467.7,115.8 469.2,115.6 470.7,113.4 472.2,116.5 473.7,116.4 475.2,116.7 476.7,119.4 478.2,117.5 479.7,118.9 481.2,119.1 482.7,120.2 484.2,120.6 485.7,122.0 487.2,121.5 488.7,122.5 490.2,124.0 491.7,123.7 493.2,124.1 494.7,124.5 496.2,124.3 497.7,126.2 499.1,126.2 500.6,125.3 502.1,126.8 503.6,128.6 505.1,127.7 506.6,129.5 508.1,130.5 509.6,129.2 511.1,130.6 512.6,132.9 514.1,131.8 515.6,133.2 517.1,133.1 518.6,134.7 520.1,134.5 521.6,134.8 523.1,136.0 524.6,137.1 526.1,136.9 527.6,138.5 529.1,139.9 530.6,139.9 532.1,140.0 533.6,140.6 535.1,141.6 536.6,140.5 538.1,141.1 539.5,142.1 541.0,143.1 542.5,144.3 544.0,144.1 545.5,145.5 547.0,146.1 548.5,147.1 550.0,147.4 551.5,147.8 553.0,148.1 554.5,148.4 556.0,148.6 557.5,148.5 559.0,149.3" stroke="#5a55b5"/>
<polyline points="156.5,165.5 158.0,165.3 159.5,165.1 161.0,164.9 162.5,164.7 164.0,164.5 165.5,164.3 167.0,164.0 168.5,163.6 170.0,163.4 171.5,163.4 173.0,163.2 174.5,163.0 176.0,162.6 177.4,162.4 178.9,161.9 180.4,161.7 181.9,161.3 183.4,160.9 184.9,160.6 186.4,160.1 187.9,159.7 189.4,159.5 190.9,159.0 192.4,158.5 193.9,158.6 195.4,158.0 196.9,157.4 198.4,157.0 199.9,156.6 201.4,156.7 202.9,156.1 204.4,155.7 205.9,155.1 207.4,155.3 208.9,154.2 210.4,154.2 211.9,153.3 213.4,153.3 214.9,152.6 216.4,152.3 217.8,152.4 219.3,151.5 220.8,150.7 222.3,150.4 223.8,149.4 225.3,149.3 226.8,148.9 228.3,148.1 229.8,146.9 231.3,146.9 232.8,146.8 234.3,145.6 235.8,145.7 237.3,144.7 238.8,144.1 240.3,143.1 241.8,142.9 243.3,142.6 244.8,142.3 246.3,141.6 247.8,141.6 249.3,140.1 250.8,139.7 252.3,138.7 253.8,138.5 255.3,138.1 256.8,136.7 258.2,136.9 259.7,136.4 261.2,135.9 262.7,135.1 264.2,133.9 265.7,135.2 267.2,134.2 268.7,133.8 270.2,133.9 271.7,132.1 273.2,131.7 274.7,131.7 276.2,130.5 277.7,130.1 279.2,130.2 280.7,128.8 282.2,129.5 283.7,126.8 285.2,125.3 286.7,126.7 288.2,125.9 289.7,124.3 291.2,124.4 292.7,124.9 294.2,124.1 295.7,121.8 297.2,122.9 298.6,120.9 300.1,122.2 301.6,120.5 303.1,119.6 304.6,117.9 306.1,116.5 307.6,116.1 309.1,118.0 310.6,116.8 312.1,116.7 313.6,115.8 315.1,114.4 316.6,114.4 318.1,112.8 319.6,115.1 321.1,112.7 322.6,110.8 324.1,112.8 325.6,111.8 327.1,111.1 328.6,110.9 330.1,108.6 331.6,109.1 333.1,107.3 334.6,109.1 336.1,107.3 337.6,108.5 339.0,107.7 340.5,107.6 342.0,107.3 343.5,109.1 345.0,105.6 346.5,107.1 348.0,106.1 349.5,103.3 351.0,105.8 352.5,103.8 354.0,105.0 355.5,105.1 357.0,102.9 358.5,104.1 360.0,104.4 361.5,103.4 363.0,103.0 364.5,105.5 366.0,103.0 367.5,104.3 369.0,104.9 370.5,102.7 372.0,104.5 373.5,104.2 375.0,103.4 376.5,103.0 377.9,100.8 379.4,102.8 380.9,104.4 382.4,103.3 383.9,100.1 385.4,101.2 386.9,101.4 388.4,102.7 389.9,102.4 391.4,98.3 392.9,99.2 394.4,100.2 395.9,100.0 397.4,102.5 398.9,101.9 400.4,104.4 401.9,101.0 403.4,100.2 404.9,101.1 406.4,104.2 407.9,102.5 409.4,100.8 410.9,102.0 412.4,101.8 413.9,100.7 415.4,102.9 416.9,103.4 418.3,100.6 419.8,103.2 421.3,104.9 422.8,102.1 424.3,103.7 425.8,102.4 427.3,105.9 428.8,104.4 430.3,101.4 431.8,105.1 433.3,102.8 434.8,103.8 436.3,105.0 437.8,103.6 439.3,105.2 440.8,103.9 442.3,106.8 443.8,106.6 445.3,107.2 446.8,106.2 448.3,107.0 449.8,106.6 451.3,109.2 452.8,107.6 454.3,109.2 455.8,109.2 457.3,111.8 458.7,109.3 460.2,110.9 461.7,112.8 463.2,113.1 464.7,114.3 466.2,114.4 467.7,116.0 469.2,115.7 470.7,113.3 472.2,116.7 473.7,116.4 475.2,116.8 476.7,119.4 478.2,117.6 479.7,119.1 481.2,119.0 482.7,120.4 484.2,120.7 485.7,122.0 487.2,121.5 488.7,122.4 490.2,123.9 491.7,123.9 493.2,124.2 494.7,124.6 496.2,124.2 497.7,126.1 499.1,126.1 500.6,125.2 502.1,126.7 503.6,128.6 505.1,127.8 506.6,129.5 508.1,130.6 509.6,129.2 511.1,130.6 512.6,132.8 514.1,131.9 515.6,133.2 517.1,133.1 518.6,134.6 520.1,134.5 521.6,134.8 523.1,136.0 524.6,137.0 526.1,136.9 527.6,138.4 529.1,139.9 530.6,139.9 532.1,139.9 533.6,140.5 535.1,141.6 536.6,140.5 538.1,141.1 539.5,141.9 541.0,143.2 542.5,144.3 544.0,144.1 545.5,145.6 547.0,145.9 548.5,147.1 550.0,147.5 551.5,147.8 553.0,148.0 554.5,148.4 556.0,148.6 557.5,148.4 559.0,149.3" stroke="#5fa060"/>
<polyline points="156.5,165.5 158.0,165.3 159.5,165.1 161.0,164.9 162.5,164.7 164.0,164.4 165.5,164.3 167.0,164.0 168.5,163.6 170.0,163.4 171.5,163.4 173.0,163.2 174.5,163.0 176.0,162.6 177.4,162.4 178.9,161.9 180.4,161.7 181.9,161.3 183.4,160.9 184.9,160.6 186.4,160.0 187.9,159.7 189.4,159.5 190.9,158.9 192.4,158.5 193.9,158.7 195.4,158.0 196.9,157.4 198.4,157.0 199.9,156.6 201.4,156.7 202.9,156.1 204.4,155.7 205.9,155.2 207.4,155.3 208.9,154.2 210.4,154.2 211.9,153.4 213.4,153.3 214.9,152.6 216.4,152.3 217.8,152.4 219.3,151.5 220.8,150.6 222.3,150.4 223.8,149.4 225.3,149.4 226.8,148.9 228.3,148.1 229.8,147.0 231.3,146.9 232.8,146.7 234.3,145.7 235.8,145.7 237.3,144.7 238.8,144.1 240.3,143.1 241.8,142.9 243.3,142.6 244.8,142.2 246.3,141.5 247.8,141.6 249.3,140.2 250.8,139.8 252.3,138.7 253.8,138.5 255.3,138.2 256.8,136.7 258.2,136.8 259.7,136.3 261.2,135.8 262.7,135.2 264.2,134.0 265.7,135.1 267.2,134.4 268.7,133.7 270.2,134.0 271.7,132.2 273.2,131.7 274.7,131.7 276.2,130.4 277.7,130.1 279.2,130.1 280.7,128.9 282.2,129.5 283.7,126.8 285.2,125.4 286.7,126.8 288.2,125.9 289.7,124.3 291.2,124.3 292.7,124.9 294.2,124.1 295.7,121.5 297.2,122.8 298.6,121.1 300.1,122.2 301.6,120.4 303.1,119.6 304.6,117.8 306.1,116.4 307.6,116.1 309.1,118.1 310.6,116.8 312.1,116.6 313.6,115.9 315.1,114.4 316.6,114.5 318.1,112.6 319.6,115.2 321.1,112.6 322.6,110.9 324.1,112.8 325.6,111.7 327.1,111.0 328.6,111.0 330.1,108.4 331.6,109.0 333.1,107.3 334.6,109.2 336.1,107.3 337.6,108.6 339.0,107.8 340.5,107.5 342.0,107.3 343.5,109.2 345.0,105.5 346.5,107.0 348.0,106.1 349.5,103.4 351.0,105.8 352.5,104.0 354.0,104.9 355.5,105.1 357.0,102.8 358.5,104.3 360.0,104.3 361.5,103.4 363.0,103.1 364.5,105.7 366.0,103.1 367.5,104.4 369.0,104.9 370.5,102.6 372.0,104.4 373.5,104.2 375.0,103.4 376.5,103.0 377.9,100.7 379.4,102.6 380.9,104.4 382.4,103.3 383.9,100.0 385.4,101.2 386.9,101.4 388.4,102.7 389.9,102.5 391.4,98.5 392.9,99.1 394.4,100.2 395.9,99.9 397.4,102.5 398.9,102.0 400.4,104.3 401.9,101.2 403.4,99.9 404.9,100.9 406.4,104.2 407.9,102.5 409.4,101.0 410.9,102.2 412.4,102.0 413.9,100.6 415.4,103.1 416.9,103.3 418.3,100.5 419.8,103.0 421.3,104.9 422.8,102.0 424.3,103.6 425.8,102.3 427.3,105.9 428.8,104.3 430.3,101.5 431.8,105.0 433.3,102.9 434.8,104.0 436.3,105.2 437.8,103.4 439.3,105.2 440.8,103.9 442.3,106.9 443.8,106.6 445.3,107.1 446.8,106.1 448.3,106.9 449.8,106.4 451.3,109.3 452.8,107.8 454.3,109.2 455.8,109.3 457.3,112.0 458.7,109.3 460.2,110.8 461.7,112.9 463.2,112.9 464.7,114.2 466.2,114.5 467.7,115.9 469.2,115.8 470.7,113.4 472.2,116.8 473.7,116.4 475.2,116.7 476.7,119.4 478.2,117.5 479.7,119.0 481.2,119.1 482.7,120.4 484.2,120.6 485.7,122.2 487.2,121.5 488.7,122.4 490.2,123.9 491.7,123.8 493.2,124.0 494.7,124.6 496.2,124.3 497.7,126.0 499.1,126.0 500.6,125.2 502.1,126.8 503.6,128.7 505.1,127.7 506.6,129.5 508.1,130.7 509.6,129.2 511.1,130.6 512.6,132.8 514.1,131.9 515.6,133.2 517.1,133.2 518.6,134.5 520.1,134.5 521.6,134.7 523.1,136.0 524.6,137.1 526.1,136.9 527.6,138.4 529.1,139.9 530.6,139.9 532.1,139.9 533.6,140.6 535.1,141.6 536.6,140.5 538.1,141.1 539.5,142.0 541.0,143.1 542.5,144.4 544.0,144.1 545.5,145.6 547.0,146.0 548.5,147.1 550.0,147.5 551.5,147.8 553.0,148.0 554.5,148.4 556.0,148.7 557.5,148.5 559.0,149.3" stroke="#dcae3a"/>
<polyline points="156.5,165.5 158.0,165.3 159.5,165.1 161.0,164.9 162.5,164.7 164.0,164.4 165.5,164.3 167.0,164.0 168.5,163.6 170.0,163.4 171.5,163.4 173.0,163.2 174.5,163.0 176.0,162.6 177.4,162.4 178.9,161.9 180.4,161.7 181.9,161.3 183.4,160.9 184.9,160.6 186.4,160.1 187.9,159.7 189.4,159.5 190.9,158.9 192.4,158.5 193.9,158.6 195.4,158.0 196.9,157.4 198.4,157.0 199.9,156.6 201.4,156.7 202.9,156.1 204.4,155.7 205.9,155.2 207.4,155.3 208.9,154.2 210.4,154.2 211.9,153.3 213.4,153.3 214.9,152.6 216.4,152.3 217.8,152.3 219.3,151.5 220.8,150.6 222.3,150.4 223.8,149.4 225.3,149.4 226.8,148.9 228.3,148.1 229.8,146.9 231.3,146.9 232.8,146.8 234.3,145.7 235.8,145.6 237.3,144.7 238.8,144.1 240.3,143.1 241.8,142.9 243.3,142.6 244.8,142.2 246.3,141.5 247.8,141.6 249.3,140.2 250.8,139.8 252.3,138.7 253.8,138.5 255.3,138.2 256.8,136.7 258.2,136.8 259.7,136.4 261.2,135.9 262.7,135.1 264.2,134.0 265.7,135.1 267.2,134.3 268.7,133.8 270.2,134.0 271.7,132.1 273.2,131.7 274.7,131.7 276.2,130.5 277.7,130.2 279.2,130.1 280.7,128.8 282.2,129.5 283.7,126.8 285.2,125.3 286.7,126.8 288.2,125.9 289.7,124.3 291.2,124.4 292.7,124.9 294.2,124.1 295.7,121.6 297.2,122.7 298.6,120.9 300.1,122.1 301.6,120.4 303.1,119.5 304.6,117.8 306.1,116.5 307.6,116.1 309.1,118.0 310.6,116.8 312.1,116.7 313.6,115.9 315.1,114.4 316.6,114.4 318.1,112.7 319.6,115.2 321.1,112.8 322.6,110.8 324.1,112.8 325.6,111.8 327.1,110.9 328.6,110.8 330.1,108.5 331.6,109.0 333.1,107.4 334.6,109.2 336.1,107.3 337.6,108.6 339.0,107.9 340.5,107.5 342.0,107.3 343.5,109.1 345.0,105.6 346.5,106.9 348.0,106.1 349.5,103.4 351.0,105.9 352.5,103.9 354.0,105.1 355.5,105.1 357.0,102.8 358.5,104.1 360.0,104.3 361.5,103.5 363.0,103.0 364.5,105.6 366.0,102.9 367.5,104.3 369.0,104.9 370.5,102.7 372.0,104.5 373.5,104.3 375.0,103.5 376.5,103.0 377.9,100.8 379.4,102.8 380.9,104.4 382.4,103.4 383.9,100.1 385.4,101.3 386.9,101.4 388.4,102.6 389.9,102.5 391.4,98.5 392.9,99.1 394.4,100.2 395.9,99.8 397.4,102.5 398.9,101.9 400.4,104.2 401.9,101.1 403.4,100.0 404.9,101.1 406.4,104.2 407.9,102.4 409.4,100.8 410.9,102.1 412.4,101.9 413.9,100.6 415.4,103.0 416.9,103.3 418.3,100.6 419.8,103.1 421.3,104.8 422.8,102.1 424.3,103.7 425.8,102.3 427.3,106.0 428.8,104.5 430.3,101.4 431.8,105.0 433.3,102.8 434.8,103.9 436.3,105.1 437.8,103.4 439.3,105.1 440.8,103.9 442.3,106.8 443.8,106.6 445.3,107.1 446.8,106.1 448.3,106.9 449.8,106.4 451.3,109.2 452.8,107.7 454.3,109.2 455.8,109.2 457.3,111.9 458.7,109.3 460.2,110.8 461.7,112.8 463.2,113.1 464.7,114.3 466.2,114.5 467.7,115.9 469.2,115.7 470.7,113.4 472.2,116.7 473.7,116.4 475.2,116.7 476.7,119.3 478.2,117.5 479.7,119.0 481.2,119.0 482.7,120.4 484.2,120.7 485.7,122.0 487.2,121.5 488.7,122.5 490.2,123.8 491.7,123.8 493.2,124.1 494.7,124.6 496.2,124.3 497.7,126.2 499.1,126.1 500.6,125.3 502.1,126.8 503.6,128.7 505.1,127.8 506.6,129.6 508.1,130.6 509.6,129.2 511.1,130.5 512.6,132.9 514.1,131.9 515.6,133.2 517.1,133.1 518.6,134.6 520.1,134.5 521.6,134.7 523.1,136.0 524.6,137.1 526.1,136.9 527.6,138.4 529.1,139.9 530.6,139.9 532.1,139.9 533.6,140.6 535.1,141.6 536.6,140.5 538.1,141.1 539.5,142.0 541.0,143.1 542.5,144.3 544.0,144.1 545.5,145.6 547.0,146.0 548.5,147.1 550.0,147.4 551.5,147.8 553.0,148.1 554.5,148.4 556.0,148.6 557.5,148.5 559.0,149.3" stroke="#cd562c"/>
<path d="M687 107.5H1086" stroke-dasharray="1 4"/>
<path d="M684 107.5h5"/>
<path d="M684 119.5H1086" stroke-dasharray="1 4"/>
<path d="M684 119.5h5"/>
<path d="M686 131.5H1086" stroke-dasharray="1 4"/>
<path d="M684 131.5h5"/>
<path d="M688 143.5H1086" stroke-dasharray="1 4"/>
<path d="M684 143.5h5"/>
<path d="M685 155.5H1086" stroke-dasharray="1 4"/>
<path d="M684 155.5h5"/>
<path d="M687.5 100V165" stroke-dasharray="1 4"/>
<path d="M687.5 160V165"/>
<path d="M802.5 100V165" stroke-dasharray="1 4"/>
<path d="M802.5 160V165"/>
<path d="M916.5 100V165" stroke-dasharray="1 4"/>
<path d="M916.5 160V165"/>
<path d="M1031.5 100V165" stroke-dasharray="1 4"/>
<path d="M1031.5 160V165"/>
<path d="M683.5 98V166M683 165.5H1086"/>
<polyline points="683.5,165.5 685.0,165.3 686.5,165.1 688.0,164.9 689.5,164.7 691.0,164.5 692.5,164.2 694.0,163.9 695.5,163.7 697.0,163.4 698.5,163.3 700.0,163.2 701.5,162.8 703.0,162.2 704.4,162.3 705.9,161.9 707.4,161.6 708.9,161.5 710.4,160.8 711.9,160.6 713.4,160.1 714.9,159.9 716.4,159.4 717.9,158.7 719.4,158.7 720.9,158.0 722.4,157.5 723.9,157.1 725.4,157.3 726.9,156.3 728.4,156.5 729.9,156.0 731.4,155.0 732.9,154.8 734.4,154.5 735.9,154.7 737.4,153.8 738.9,153.6 740.4,153.6 741.9,152.5 743.4,152.3 744.8,151.6 746.3,150.5 747.8,151.3 749.3,149.2 750.8,149.2 752.3,147.9 753.8,148.6 755.3,147.4 756.8,147.2 758.3,145.9 759.8,146.2 761.3,145.0 762.8,145.3 764.3,143.5 765.8,144.5 767.3,143.0 768.8,142.1 770.3,141.6 771.8,141.6 773.3,141.7 774.8,140.5 776.3,139.5 777.8,139.1 779.3,137.3 780.8,137.4 782.3,136.5 783.8,136.1 785.2,134.6 786.7,135.9 788.2,134.4 789.7,133.5 791.2,134.5 792.7,131.8 794.2,132.6 795.7,132.2 797.2,130.7 798.7,131.3 800.2,130.7 801.7,130.5 803.2,130.0 804.7,127.9 806.2,129.3 807.7,125.4 809.2,124.8 810.7,126.0 812.2,125.4 813.7,124.3 815.2,124.4 816.7,124.9 818.2,124.1 819.7,123.9 821.2,122.2 822.7,118.8 824.2,119.9 825.6,119.2 827.1,117.6 828.6,119.6 830.1,119.3 831.6,117.1 833.1,116.2 834.6,117.0 836.1,115.4 837.6,115.7 839.1,114.7 840.6,113.3 842.1,113.5 843.6,112.6 845.1,114.2 846.6,110.5 848.1,111.5 849.6,111.0 851.1,108.7 852.6,111.6 854.1,107.7 855.6,108.2 857.1,108.9 858.6,109.1 860.1,105.6 861.6,108.1 863.1,106.8 864.6,107.3 866.0,105.3 867.5,106.7 869.0,103.1 870.5,104.2 872.0,101.2 873.5,105.9 875.0,104.8 876.5,104.9 878.0,102.7 879.5,100.6 881.0,105.0 882.5,98.4 884.0,102.6 885.5,102.0 887.0,102.0 888.5,101.7 890.0,99.9 891.5,99.0 893.0,104.3 894.5,101.2 896.0,99.8 897.5,102.0 899.0,100.8 900.5,101.2 902.0,102.5 903.5,101.2 904.9,100.0 906.4,101.0 907.9,101.6 909.4,102.6 910.9,101.1 912.4,99.5 913.9,99.1 915.4,100.4 916.9,101.6 918.4,102.4 919.9,101.2 921.4,97.0 922.9,100.7 924.4,100.1 925.9,99.1 927.4,99.4 928.9,100.7 930.4,102.7 931.9,103.9 933.4,98.2 934.9,99.3 936.4,114.2 937.9,104.9 939.4,102.3 940.9,100.1 942.4,98.4 943.9,103.9 945.3,98.5 946.8,99.5 948.3,100.9 949.8,99.7 951.3,101.5 952.8,103.2 954.3,103.8 955.8,102.2 957.3,101.8 958.8,100.9 960.3,101.9 961.8,102.7 963.3,102.9 964.8,102.7 966.3,105.2 967.8,105.5 969.3,106.9 970.8,105.4 972.3,106.9 973.8,106.2 975.3,106.2 976.8,106.6 978.3,107.0 979.8,107.4 981.3,109.6 982.8,110.0 984.3,107.6 985.7,108.8 987.2,110.7 988.7,112.1 990.2,111.7 991.7,112.1 993.2,110.8 994.7,113.4 996.2,112.1 997.7,113.4 999.2,114.6 1000.7,113.9 1002.2,115.0 1003.7,117.8 1005.2,117.2 1006.7,118.2 1008.2,117.5 1009.7,119.9 1011.2,121.4 1012.7,120.3 1014.2,121.0 1015.7,120.4 1017.2,121.4 1018.7,123.4 1020.2,124.7 1021.7,121.9 1023.2,124.9 1024.7,124.6 1026.1,126.2 1027.6,125.2 1029.1,126.4 1030.6,128.1 1032.1,129.3 1033.6,128.8 1035.1,128.2 1036.6,129.8 1038.1,130.8 1039.6,131.4 1041.1,131.4 1042.6,132.2 1044.1,134.4 1045.6,133.4 1047.1,134.5 1048.6,135.8 1050.1,136.1 1051.6,134.8 1053.1,136.5 1054.6,137.8 1056.1,138.3 1057.6,139.6 1059.1,138.3 1060.6,139.2 1062.1,139.7 1063.6,140.5 1065.1,141.9 1066.5,141.6 1068.0,142.7 1069.5,143.3 1071.0,145.0 1072.5,145.8 1074.0,146.4 1075.5,146.8 1077.0,147.4 1078.5,146.7 1080.0,147.6 1081.5,147.6 1083.0,147.6 1084.5,148.2 1086.0,148.4" stroke="#5a55b5"/>
<polyline points="683.5,165.5 685.0,165.3 686.5,165.1 688.0,164.9 689.5,164.7 691.0,164.5 692.5,164.2 694.0,163.9 695.5,163.7 697.0,163.4 698.5,163.3 700.0,163.2 701.5,162.8 703.0,162.2 704.4,162.3 705.9,161.9 707.4,161.6 708.9,161.5 710.4,160.8 711.9,160.6 713.4,160.1 714.9,159.9 716.4,159.4 717.9,158.7 719.4,158.7 720.9,158.1 722.4,157.5 723.9,157.1 725.4,157.3 726.9,156.3 728.4,156.5 729.9,156.0 731.4,154.9 732.9,154.8 734.4,154.5 735.9,154.7 737.4,153.9 738.9,153.6 740.4,153.7 741.9,152.5 743.4,152.3 744.8,151.6 746.3,150.6 747.8,151.3 749.3,149.2 750.8,149.2 752.3,147.8 753.8,148.6 755.3,147.4 756.8,147.2 758.3,145.9 759.8,146.2 761.3,145.0 762.8,145.2 764.3,143.6 765.8,144.5 767.3,143.0 768.8,142.0 770.3,141.6 771.8,141.6 773.3,141.7 774.8,140.5 776.3,139.5 777.8,139.1 779.3,137.4 780.8,137.3 782.3,136.6 783.8,136.1 785.2,134.7 786.7,135.8 788.2,134.4 789.7,133.5 791.2,134.6 792.7,131.7 794.2,132.5 795.7,132.1 797.2,130.7 798.7,131.2 800.2,130.7 801.7,130.4 803.2,130.1 804.7,127.9 806.2,129.2 807.7,125.6 809.2,124.8 810.7,125.9 812.2,125.5 813.7,124.3 815.2,124.4 816.7,124.9 818.2,124.1 819.7,123.9 821.2,122.2 822.7,118.8 824.2,120.1 825.6,119.1 827.1,117.6 828.6,119.7 830.1,119.2 831.6,117.2 833.1,115.9 834.6,117.0 836.1,115.5 837.6,115.7 839.1,114.9 840.6,113.5 842.1,113.5 843.6,112.6 845.1,114.2 846.6,110.3 848.1,111.5 849.6,110.9 851.1,108.5 852.6,111.7 854.1,107.8 855.6,108.4 857.1,108.8 858.6,108.9 860.1,105.7 861.6,108.3 863.1,106.9 864.6,107.3 866.0,105.2 867.5,106.7 869.0,102.8 870.5,104.1 872.0,101.1 873.5,105.9 875.0,104.7 876.5,105.0 878.0,102.7 879.5,100.5 881.0,104.8 882.5,98.3 884.0,102.6 885.5,101.9 887.0,102.0 888.5,101.8 890.0,99.9 891.5,99.1 893.0,104.6 894.5,101.4 896.0,99.8 897.5,102.0 899.0,100.8 900.5,101.3 902.0,102.5 903.5,101.4 904.9,100.0 906.4,101.1 907.9,101.5 909.4,102.6 910.9,101.2 912.4,99.5 913.9,98.8 915.4,100.2 916.9,101.7 918.4,102.3 919.9,101.2 921.4,97.0 922.9,100.8 924.4,99.9 925.9,99.1 927.4,99.3 928.9,100.7 930.4,102.8 931.9,103.9 933.4,98.3 934.9,99.0 936.4,114.4 937.9,104.8 939.4,102.1 940.9,100.1 942.4,98.4 943.9,103.9 945.3,98.6 946.8,99.5 948.3,101.2 949.8,99.7 951.3,101.6 952.8,103.2 954.3,103.7 955.8,102.3 957.3,101.6 958.8,100.8 960.3,101.7 961.8,102.7 963.3,103.1 964.8,102.6 966.3,105.0 967.8,105.3 969.3,106.8 970.8,105.3 972.3,107.1 973.8,106.2 975.3,106.2 976.8,106.6 978.3,107.1 979.8,107.4 981.3,109.5 982.8,109.9 984.3,107.8 985.7,108.8 987.2,110.5 988.7,112.0 990.2,111.7 991.7,112.0 993.2,110.9 994.7,113.4 996.2,112.3 997.7,113.6 999.2,114.6 1000.7,114.0 1002.2,115.1 1003.7,117.8 1005.2,117.3 1006.7,118.1 1008.2,117.5 1009.7,119.9 1011.2,121.5 1012.7,120.1 1014.2,120.9 1015.7,120.5 1017.2,121.3 1018.7,123.3 1020.2,124.8 1021.7,121.8 1023.2,124.8 1024.7,124.6 1026.1,126.1 1027.6,125.2 1029.1,126.4 1030.6,128.1 1032.1,129.2 1033.6,128.8 1035.1,128.2 1036.6,129.8 1038.1,130.8 1039.6,131.5 1041.1,131.5 1042.6,132.4 1044.1,134.5 1045.6,133.5 1047.1,134.5 1048.6,135.9 1050.1,136.0 1051.6,134.8 1053.1,136.5 1054.6,137.8 1056.1,138.4 1057.6,139.5 1059.1,138.3 1060.6,139.2 1062.1,139.7 1063.6,140.5 1065.1,141.9 1066.5,141.5 1068.0,142.7 1069.5,143.2 1071.0,144.9 1072.5,145.8 1074.0,146.3 1075.5,146.8 1077.0,147.4 1078.5,146.7 1080.0,147.7 1081.5,147.6 1083.0,147.6 1084.5,148.3 1086.0,148.4" stroke="#5fa060"/>
<polyline points="683.5,165.5 685.0,165.4 686.5,165.0 688.0,164.9 689.5,164.7 691.0,164.5 692.5,164.2 694.0,163.9 695.5,163.7 697.0,163.4 698.5,163.3 700.0,163.2 701.5,162.8 703.0,162.2 704.4,162.3 705.9,161.9 707.4,161.6 708.9,161.5 710.4,160.8 711.9,160.6 713.4,160.1 714.9,159.9 716.4,159.4 717.9,158.7 719.4,158.7 720.9,158.0 722.4,157.5 723.9,157.1 725.4,157.3 726.9,156.3 728.4,156.5 729.9,156.0 731.4,155.0 732.9,154.8 734.4,154.5 735.9,154.7 737.4,153.8 738.9,153.6 740.4,153.6 741.9,152.5 743.4,152.3 744.8,151.6 746.3,150.5 747.8,151.3 749.3,149.2 750.8,149.2 752.3,147.8 753.8,148.6 755.3,147.4 756.8,147.2 758.3,145.9 759.8,146.3 761.3,145.0 762.8,145.2 764.3,143.6 765.8,144.5 767.3,143.0 768.8,142.0 770.3,141.5 771.8,141.6 773.3,141.8 774.8,140.5 776.3,139.5 777.8,139.0 779.3,137.3 780.8,137.4 782.3,136.5 783.8,136.0 785.2,134.8 786.7,135.8 788.2,134.4 789.7,133.5 791.2,134.6 792.7,131.8 794.2,132.5 795.7,132.2 797.2,130.7 798.7,131.1 800.2,130.7 801.7,130.2 803.2,129.9 804.7,128.0 806.2,129.2 807.7,125.6 809.2,124.8 810.7,125.9 812.2,125.5 813.7,124.3 815.2,124.4 816.7,124.8 818.2,124.1 819.7,124.0 821.2,122.3 822.7,118.9 824.2,120.0 825.6,119.1 827.1,117.6 828.6,119.5 830.1,119.3 831.6,116.9 833.1,115.9 834.6,116.9 836.1,115.5 837.6,115.7 839.1,115.0 840.6,113.6 842.1,113.5 843.6,112.7 845.1,114.2 846.6,110.4 848.1,111.5 849.6,110.9 851.1,108.6 852.6,111.8 854.1,107.7 855.6,108.1 857.1,108.8 858.6,109.1 860.1,105.8 861.6,108.1 863.1,106.9 864.6,107.4 866.0,105.4 867.5,106.7 869.0,103.0 870.5,104.3 872.0,101.2 873.5,105.9 875.0,104.8 876.5,105.1 878.0,102.7 879.5,100.6 881.0,104.8 882.5,98.3 884.0,102.7 885.5,102.1 887.0,102.3 888.5,101.7 890.0,100.0 891.5,99.0 893.0,104.4 894.5,101.2 896.0,100.0 897.5,102.1 899.0,100.8 900.5,101.2 902.0,102.6 903.5,101.3 904.9,99.9 906.4,101.1 907.9,101.5 909.4,102.6 910.9,101.3 912.4,99.5 913.9,98.9 915.4,100.4 916.9,101.6 918.4,102.7 919.9,101.2 921.4,96.9 922.9,101.0 924.4,99.8 925.9,99.2 927.4,99.4 928.9,100.8 930.4,102.8 931.9,104.1 933.4,98.4 934.9,99.0 936.4,114.1 937.9,104.6 939.4,102.2 940.9,100.1 942.4,98.3 943.9,103.9 945.3,98.5 946.8,99.4 948.3,100.8 949.8,99.6 951.3,101.6 952.8,103.2 954.3,103.7 955.8,102.3 957.3,101.8 958.8,101.0 960.3,101.7 961.8,102.9 963.3,103.0 964.8,102.8 966.3,105.1 967.8,105.3 969.3,106.8 970.8,105.4 972.3,107.1 973.8,106.2 975.3,106.0 976.8,106.6 978.3,107.2 979.8,107.3 981.3,109.6 982.8,109.9 984.3,107.6 985.7,108.9 987.2,110.6 988.7,111.9 990.2,111.7 991.7,111.8 993.2,111.0 994.7,113.4 996.2,112.3 997.7,113.4 999.2,114.5 1000.7,114.0 1002.2,114.9 1003.7,117.8 1005.2,117.3 1006.7,118.1 1008.2,117.5 1009.7,119.9 1011.2,121.5 1012.7,120.2 1014.2,120.9 1015.7,120.5 1017.2,121.4 1018.7,123.4 1020.2,124.8 1021.7,121.9 1023.2,124.8 1024.7,124.6 1026.1,126.2 1027.6,125.1 1029.1,126.3 1030.6,128.2 1032.1,129.4 1033.6,128.8 1035.1,128.1 1036.6,129.8 1038.1,130.9 1039.6,131.4 1041.1,131.4 1042.6,132.2 1044.1,134.5 1045.6,133.5 1047.1,134.5 1048.6,135.9 1050.1,136.1 1051.6,134.8 1053.1,136.5 1054.6,137.8 1056.1,138.3 1057.6,139.6 1059.1,138.3 1060.6,139.2 1062.1,139.8 1063.6,140.5 1065.1,141.8 1066.5,141.6 1068.0,142.7 1069.5,143.2 1071.0,145.0 1072.5,145.8 1074.0,146.4 1075.5,146.8 1077.0,147.4 1078.5,146.8 1080.0,147.7 1081.5,147.7 1083.0,147.6 1084.5,148.2 1086.0,148.4" stroke="#dcae3a"/>
<polyline points="683.5,165.5 685.0,165.3 686.5,165.1 688.0,164.9 689.5,164.7 691.0,164.5 692.5,164.2 694.0,163.9 695.5,163.7 697.0,163.4 698.5,163.3 700.0,163.2 701.5,162.8 703.0,162.2 704.4,162.3 705.9,161.9 707.4,161.6 708.9,161.5 710.4,160.8 711.9,160.5 713.4,160.1 714.9,159.9 716.4,159.4 717.9,158.7 719.4,158.7 720.9,158.0 722.4,157.5 723.9,157.1 725.4,157.3 726.9,156.3 728.4,156.5 729.9,156.0 731.4,155.0 732.9,154.7 734.4,154.5 735.9,154.7 737.4,153.8 738.9,153.6 740.4,153.7 741.9,152.5 743.4,152.3 744.8,151.6 746.3,150.6 747.8,151.3 749.3,149.2 750.8,149.2 752.3,147.8 753.8,148.6 755.3,147.4 756.8,147.2 758.3,145.9 759.8,146.2 761.3,145.0 762.8,145.2 764.3,143.6 765.8,144.5 767.3,143.0 768.8,142.0 770.3,141.6 771.8,141.6 773.3,141.7 774.8,140.5 776.3,139.5 777.8,139.1 779.3,137.3 780.8,137.4 782.3,136.5 783.8,136.1 785.2,134.7 786.7,135.8 788.2,134.4 789.7,133.5 791.2,134.6 792.7,131.8 794.2,132.5 795.7,132.2 797.2,130.7 798.7,131.2 800.2,130.7 801.7,130.4 803.2,130.0 804.7,127.9 806.2,129.2 807.7,125.5 809.2,124.8 810.7,126.0 812.2,125.5 813.7,124.3 815.2,124.4 816.7,124.8 818.2,124.1 819.7,124.0 821.2,122.2 822.7,118.8 824.2,120.0 825.6,119.1 827.1,117.6 828.6,119.6 830.1,119.3 831.6,117.0 833.1,116.1 834.6,117.0 836.1,115.4 837.6,115.7 839.1,114.8 840.6,113.5 842.1,113.4 843.6,112.7 845.1,114.2 846.6,110.5 848.1,111.5 849.6,110.9 851.1,108.6 852.6,111.7 854.1,107.7 855.6,108.3 857.1,108.8 858.6,109.1 860.1,105.8 861.6,108.1 863.1,106.9 864.6,107.4 866.0,105.4 867.5,106.7 869.0,102.9 870.5,104.2 872.0,101.2 873.5,106.0 875.0,104.8 876.5,105.0 878.0,102.7 879.5,100.6 881.0,104.9 882.5,98.3 884.0,102.7 885.5,102.0 887.0,102.1 888.5,101.7 890.0,100.0 891.5,99.1 893.0,104.4 894.5,101.3 896.0,99.8 897.5,102.0 899.0,100.8 900.5,101.3 902.0,102.6 903.5,101.4 904.9,99.9 906.4,101.2 907.9,101.4 909.4,102.6 910.9,101.2 912.4,99.4 913.9,98.8 915.4,100.4 916.9,101.7 918.4,102.5 919.9,101.3 921.4,96.9 922.9,100.8 924.4,99.9 925.9,99.1 927.4,99.4 928.9,100.6 930.4,102.7 931.9,104.0 933.4,98.5 934.9,99.1 936.4,114.2 937.9,104.8 939.4,102.3 940.9,100.1 942.4,98.3 943.9,103.9 945.3,98.5 946.8,99.5 948.3,101.0 949.8,99.6 951.3,101.7 952.8,103.2 954.3,103.8 955.8,102.3 957.3,101.7 958.8,100.9 960.3,101.8 961.8,102.7 963.3,103.0 964.8,102.7 966.3,105.1 967.8,105.3 969.3,106.8 970.8,105.4 972.3,107.0 973.8,106.2 975.3,106.1 976.8,106.6 978.3,107.1 979.8,107.4 981.3,109.5 982.8,109.9 984.3,107.7 985.7,108.8 987.2,110.6 988.7,112.0 990.2,111.8 991.7,111.9 993.2,110.9 994.7,113.4 996.2,112.3 997.7,113.5 999.2,114.6 1000.7,114.0 1002.2,115.0 1003.7,117.8 1005.2,117.3 1006.7,118.1 1008.2,117.5 1009.7,120.0 1011.2,121.4 1012.7,120.2 1014.2,120.9 1015.7,120.5 1017.2,121.4 1018.7,123.4 1020.2,124.8 1021.7,121.8 1023.2,124.7 1024.7,124.6 1026.1,126.2 1027.6,125.1 1029.1,126.4 1030.6,128.2 1032.1,129.3 1033.6,128.8 1035.1,128.2 1036.6,129.8 1038.1,130.8 1039.6,131.4 1041.1,131.4 1042.6,132.2 1044.1,134.5 1045.6,133.5 1047.1,134.5 1048.6,135.9 1050.1,136.1 1051.6,134.8 1053.1,136.6 1054.6,137.8 1056.1,138.4 1057.6,139.6 1059.1,138.3 1060.6,139.2 1062.1,139.7 1063.6,140.5 1065.1,141.9 1066.5,141.6 1068.0,142.7 1069.5,143.2 1071.0,145.0 1072.5,145.8 1074.0,146.4 1075.5,146.8 1077.0,147.4 1078.5,146.8 1080.0,147.7 1081.5,147.6 1083.0,147.6 1084.5,148.2 1086.0,148.4" stroke="#cd562c"/>
<path d="M161 303.5H559" stroke-dasharray="1 4"/>
<path d="M157 303.5h4"/>
<path d="M158 316.5H559" stroke-dasharray="1 4"/>
<path d="M157 316.5h4"/>
<path d="M160 328.5H559" stroke-dasharray="1 4"/>
<path d="M157 328.5h4"/>
<path d="M157 341.5H559" stroke-dasharray="1 4"/>
<path d="M157 341.5h4"/>
<path d="M159 353.5H559" stroke-dasharray="1 4"/>
<path d="M157 353.5h4"/>
<path d="M159.5 298V363" stroke-dasharray="1 4"/>
<path d="M159.5 358V363"/>
<path d="M273.5 298V363" stroke-dasharray="1 4"/>
<path d="M273.5 358V363"/>
<path d="M388.5 298V363" stroke-dasharray="1 4"/>
<path d="M388.5 358V363"/>
<path d="M502.5 298V363" stroke-dasharray="1 4"/>
<path d="M502.5 358V363"/>
<path d="M156.5 295V364M156 363.5H559"/>
<polyline points="156.5,363.5 158.0,363.3 159.5,363.1 161.0,362.9 162.5,362.6 164.0,362.5 165.5,362.2 167.0,362.0 168.5,361.9 170.0,361.5 171.5,361.4 173.0,361.1 174.5,360.8 176.0,360.6 177.4,360.3 178.9,360.0 180.4,359.5 181.9,359.4 183.4,359.0 184.9,358.5 186.4,358.3 187.9,357.7 189.4,357.5 190.9,356.9 192.4,356.5 193.9,356.2 195.4,356.1 196.9,355.6 198.4,355.3 199.9,354.6 201.4,354.6 202.9,353.7 204.4,353.8 205.9,352.9 207.4,353.2 208.9,352.7 210.4,352.0 211.9,351.6 213.4,351.4 214.9,350.5 216.4,350.7 217.8,350.2 219.3,349.7 220.8,349.0 222.3,348.0 223.8,347.8 225.3,347.1 226.8,346.3 228.3,346.1 229.8,345.5 231.3,344.5 232.8,344.5 234.3,343.3 235.8,342.9 237.3,342.7 238.8,342.3 240.3,341.8 241.8,340.3 243.3,339.5 244.8,340.0 246.3,338.3 247.8,338.1 249.3,338.6 250.8,337.9 252.3,337.8 253.8,336.4 255.3,335.9 256.8,335.3 258.2,334.2 259.7,333.3 261.2,333.8 262.7,332.4 264.2,331.8 265.7,331.4 267.2,331.2 268.7,330.5 270.2,330.7 271.7,329.4 273.2,329.3 274.7,328.5 276.2,328.2 277.7,327.2 279.2,326.8 280.7,326.1 282.2,326.4 283.7,324.6 285.2,324.8 286.7,323.9 288.2,322.6 289.7,322.9 291.2,323.0 292.7,320.3 294.2,322.2 295.7,319.8 297.2,320.0 298.6,319.3 300.1,318.8 301.6,318.9 303.1,315.8 304.6,316.5 306.1,316.1 307.6,314.4 309.1,315.2 310.6,312.9 312.1,313.9 313.6,313.6 315.1,310.9 316.6,311.3 318.1,310.8 319.6,309.8 321.1,310.1 322.6,308.7 324.1,309.9 325.6,308.7 327.1,310.5 328.6,308.0 330.1,308.0 331.6,305.9 333.1,307.3 334.6,305.8 336.1,306.0 337.6,305.9 339.0,306.8 340.5,306.5 342.0,305.9 343.5,306.7 345.0,305.2 346.5,303.3 348.0,303.5 349.5,302.6 351.0,303.3 352.5,303.2 354.0,302.1 355.5,302.9 357.0,302.9 358.5,302.3 360.0,300.8 361.5,302.1 363.0,302.4 364.5,303.1 366.0,300.9 367.5,301.2 369.0,300.7 370.5,301.8 372.0,302.9 373.5,300.0 375.0,299.6 376.5,298.2 377.9,299.8 379.4,301.2 380.9,299.4 382.4,301.5 383.9,298.3 385.4,300.8 386.9,299.1 388.4,299.6 389.9,301.8 391.4,301.1 392.9,301.5 394.4,299.9 395.9,298.3 397.4,299.3 398.9,300.1 400.4,298.0 401.9,300.8 403.4,300.0 404.9,298.5 406.4,300.4 407.9,301.1 409.4,299.1 410.9,299.4 412.4,299.7 413.9,299.4 415.4,298.1 416.9,300.3 418.3,300.6 419.8,300.1 421.3,302.3 422.8,302.9 424.3,301.2 425.8,302.0 427.3,301.4 428.8,299.8 430.3,302.5 431.8,303.9 433.3,301.0 434.8,303.6 436.3,302.5 437.8,301.8 439.3,301.4 440.8,304.3 442.3,304.4 443.8,306.3 445.3,304.2 446.8,304.8 448.3,303.6 449.8,305.1 451.3,306.8 452.8,306.0 454.3,307.4 455.8,308.6 457.3,308.1 458.7,308.4 460.2,308.5 461.7,309.6 463.2,309.6 464.7,311.6 466.2,312.5 467.7,312.8 469.2,312.5 470.7,314.9 472.2,313.6 473.7,314.0 475.2,316.3 476.7,315.8 478.2,317.8 479.7,317.8 481.2,318.9 482.7,317.0 484.2,318.4 485.7,318.4 487.2,320.0 488.7,318.9 490.2,321.9 491.7,321.1 493.2,320.2 494.7,321.8 496.2,322.3 497.7,324.8 499.1,323.3 500.6,325.9 502.1,326.4 503.6,326.5 505.1,325.2 506.6,327.6 508.1,327.2 509.6,327.7 511.1,328.4 512.6,330.1 514.1,330.9 515.6,331.9 517.1,331.4 518.6,333.3 520.1,332.8 521.6,334.3 523.1,333.8 524.6,335.7 526.1,335.2 527.6,337.0 529.1,336.7 530.6,337.0 532.1,337.6 533.6,338.4 535.1,338.3 536.6,339.8 538.1,339.7 539.5,340.4 541.0,340.5 542.5,341.7 544.0,342.5 545.5,343.1 547.0,344.4 548.5,344.8 550.0,345.7 551.5,345.8 553.0,346.4 554.5,346.5 556.0,346.6 557.5,346.5 559.0,346.5" stroke="#5a55b5"/>
<polyline points="156.5,363.5 158.0,363.2 159.5,363.1 161.0,362.9 162.5,362.6 164.0,362.5 165.5,362.3 167.0,362.0 168.5,361.9 170.0,361.6 171.5,361.4 173.0,361.1 174.5,360.8 176.0,360.6 177.4,360.3 178.9,360.0 180.4,359.5 181.9,359.5 183.4,359.0 184.9,358.5 186.4,358.3 187.9,357.7 189.4,357.5 190.9,356.9 192.4,356.5 193.9,356.1 195.4,356.0 196.9,355.6 198.4,355.3 199.9,354.6 201.4,354.6 202.9,353.6 204.4,353.9 205.9,353.0 207.4,353.2 208.9,352.8 210.4,351.9 211.9,351.7 213.4,351.4 214.9,350.5 216.4,350.7 217.8,350.2 219.3,349.7 220.8,349.0 222.3,348.0 223.8,347.8 225.3,347.1 226.8,346.4 228.3,346.1 229.8,345.5 231.3,344.4 232.8,344.6 234.3,343.4 235.8,342.9 237.3,342.7 238.8,342.3 240.3,341.8 241.8,340.3 243.3,339.6 244.8,340.0 246.3,338.4 247.8,338.0 249.3,338.7 250.8,337.9 252.3,337.8 253.8,336.4 255.3,335.8 256.8,335.3 258.2,334.1 259.7,333.4 261.2,333.9 262.7,332.5 264.2,331.9 265.7,331.3 267.2,331.1 268.7,330.5 270.2,330.7 271.7,329.4 273.2,329.3 274.7,328.5 276.2,328.1 277.7,327.1 279.2,326.8 280.7,326.2 282.2,326.4 283.7,324.5 285.2,325.0 286.7,323.9 288.2,322.5 289.7,322.9 291.2,323.1 292.7,320.3 294.2,322.2 295.7,319.6 297.2,320.0 298.6,319.4 300.1,318.8 301.6,318.7 303.1,315.9 304.6,316.5 306.1,316.1 307.6,314.4 309.1,315.1 310.6,312.8 312.1,313.7 313.6,313.9 315.1,310.9 316.6,311.2 318.1,310.8 319.6,309.8 321.1,310.0 322.6,308.7 324.1,310.0 325.6,308.8 327.1,310.3 328.6,307.9 330.1,308.1 331.6,305.9 333.1,307.2 334.6,306.0 336.1,305.9 337.6,306.0 339.0,306.9 340.5,306.5 342.0,305.9 343.5,306.9 345.0,305.0 346.5,303.2 348.0,303.7 349.5,302.6 351.0,303.5 352.5,303.2 354.0,302.2 355.5,303.0 357.0,302.9 358.5,302.4 360.0,300.7 361.5,302.4 363.0,301.9 364.5,303.0 366.0,301.2 367.5,301.0 369.0,300.7 370.5,301.8 372.0,303.0 373.5,299.8 375.0,299.5 376.5,298.3 377.9,299.6 379.4,301.1 380.9,299.3 382.4,301.6 383.9,298.2 385.4,300.7 386.9,299.2 388.4,299.6 389.9,301.7 391.4,301.1 392.9,301.4 394.4,299.9 395.9,298.5 397.4,299.3 398.9,300.3 400.4,298.0 401.9,300.9 403.4,300.0 404.9,298.4 406.4,300.3 407.9,301.1 409.4,299.0 410.9,299.3 412.4,299.7 413.9,299.5 415.4,298.2 416.9,300.3 418.3,300.5 419.8,300.0 421.3,302.4 422.8,303.0 424.3,301.1 425.8,302.0 427.3,301.4 428.8,299.9 430.3,302.4 431.8,303.6 433.3,301.0 434.8,303.7 436.3,302.7 437.8,301.8 439.3,301.5 440.8,304.6 442.3,304.3 443.8,306.2 445.3,304.1 446.8,304.6 448.3,303.6 449.8,305.2 451.3,306.7 452.8,306.1 454.3,307.3 455.8,308.6 457.3,308.1 458.7,308.3 460.2,308.5 461.7,309.6 463.2,309.6 464.7,311.7 466.2,312.4 467.7,312.9 469.2,312.6 470.7,314.9 472.2,313.7 473.7,314.0 475.2,316.1 476.7,315.8 478.2,317.9 479.7,317.9 481.2,318.8 482.7,317.1 484.2,318.4 485.7,318.4 487.2,320.1 488.7,318.9 490.2,321.8 491.7,321.1 493.2,320.2 494.7,321.8 496.2,322.5 497.7,324.8 499.1,323.1 500.6,325.9 502.1,326.4 503.6,326.6 505.1,325.4 506.6,327.4 508.1,327.1 509.6,327.8 511.1,328.3 512.6,330.1 514.1,330.9 515.6,331.9 517.1,331.5 518.6,333.2 520.1,332.7 521.6,334.4 523.1,333.8 524.6,335.7 526.1,335.1 527.6,337.0 529.1,336.7 530.6,337.1 532.1,337.6 533.6,338.3 535.1,338.5 536.6,339.9 538.1,339.7 539.5,340.3 541.0,340.5 542.5,341.6 544.0,342.5 545.5,343.1 547.0,344.3 548.5,344.9 550.0,345.7 551.5,345.8 553.0,346.4 554.5,346.5 556.0,346.6 557.5,346.6 559.0,346.6" stroke="#5fa060"/>
<polyline points="156.5,363.5 158.0,363.3 159.5,363.1 161.0,362.9 162.5,362.7 164.0,362.5 165.5,362.2 167.0,362.0 168.5,361.9 170.0,361.5 171.5,361.4 173.0,361.1 174.5,360.8 176.0,360.6 177.4,360.3 178.9,360.0 180.4,359.5 181.9,359.4 183.4,359.0 184.9,358.5 186.4,358.3 187.9,357.6 189.4,357.4 190.9,356.9 192.4,356.5 193.9,356.1 195.4,356.1 196.9,355.6 198.4,355.3 199.9,354.6 201.4,354.6 202.9,353.6 204.4,353.9 205.9,352.9 207.4,353.2 208.9,352.8 210.4,352.0 211.9,351.6 213.4,351.3 214.9,350.4 216.4,350.8 217.8,350.1 219.3,349.6 220.8,349.1 222.3,348.0 223.8,347.8 225.3,347.0 226.8,346.3 228.3,346.1 229.8,345.4 231.3,344.5 232.8,344.5 234.3,343.3 235.8,342.9 237.3,342.6 238.8,342.3 240.3,341.9 241.8,340.3 243.3,339.6 244.8,340.0 246.3,338.4 247.8,338.1 249.3,338.7 250.8,337.9 252.3,337.8 253.8,336.4 255.3,335.9 256.8,335.4 258.2,334.1 259.7,333.4 261.2,333.8 262.7,332.4 264.2,331.9 265.7,331.4 267.2,331.2 268.7,330.6 270.2,330.8 271.7,329.3 273.2,329.2 274.7,328.5 276.2,328.1 277.7,327.1 279.2,326.9 280.7,326.2 282.2,326.4 283.7,324.6 285.2,324.9 286.7,323.9 288.2,322.6 289.7,323.0 291.2,323.0 292.7,320.2 294.2,322.1 295.7,319.9 297.2,320.0 298.6,319.5 300.1,318.8 301.6,318.8 303.1,316.0 304.6,316.5 306.1,316.0 307.6,314.4 309.1,315.2 310.6,312.9 312.1,313.8 313.6,313.8 315.1,310.9 316.6,311.2 318.1,310.9 319.6,310.0 321.1,310.2 322.6,308.8 324.1,310.0 325.6,308.9 327.1,310.5 328.6,308.0 330.1,308.1 331.6,306.0 333.1,307.3 334.6,305.9 336.1,306.0 337.6,305.8 339.0,306.9 340.5,306.5 342.0,305.8 343.5,306.8 345.0,305.0 346.5,303.2 348.0,303.6 349.5,302.5 351.0,303.3 352.5,303.3 354.0,302.0 355.5,302.9 357.0,302.8 358.5,302.4 360.0,300.8 361.5,302.3 363.0,302.1 364.5,303.0 366.0,301.1 367.5,301.0 369.0,300.7 370.5,301.8 372.0,303.2 373.5,299.9 375.0,299.5 376.5,298.3 377.9,299.8 379.4,301.3 380.9,299.3 382.4,301.6 383.9,298.3 385.4,300.9 386.9,299.1 388.4,299.7 389.9,301.8 391.4,301.2 392.9,301.4 394.4,299.8 395.9,298.4 397.4,299.2 398.9,300.4 400.4,298.1 401.9,300.8 403.4,300.1 404.9,298.5 406.4,300.1 407.9,301.2 409.4,299.1 410.9,299.2 412.4,299.8 413.9,299.4 415.4,298.3 416.9,300.4 418.3,300.6 419.8,300.2 421.3,302.5 422.8,302.9 424.3,301.2 425.8,302.2 427.3,301.3 428.8,299.9 430.3,302.3 431.8,303.8 433.3,301.0 434.8,303.8 436.3,302.7 437.8,301.8 439.3,301.5 440.8,304.5 442.3,304.4 443.8,306.0 445.3,304.0 446.8,304.6 448.3,303.7 449.8,305.2 451.3,306.6 452.8,306.0 454.3,307.4 455.8,308.6 457.3,308.3 458.7,308.3 460.2,308.4 461.7,309.6 463.2,309.4 464.7,311.8 466.2,312.5 467.7,313.0 469.2,312.5 470.7,315.0 472.2,313.7 473.7,313.9 475.2,316.1 476.7,315.7 478.2,317.8 479.7,317.7 481.2,318.7 482.7,317.1 484.2,318.4 485.7,318.5 487.2,320.1 488.7,319.0 490.2,321.8 491.7,321.2 493.2,320.2 494.7,321.8 496.2,322.5 497.7,325.0 499.1,323.3 500.6,325.8 502.1,326.5 503.6,326.5 505.1,325.2 506.6,327.5 508.1,327.1 509.6,327.7 511.1,328.5 512.6,330.1 514.1,330.9 515.6,331.8 517.1,331.4 518.6,333.2 520.1,332.8 521.6,334.3 523.1,333.8 524.6,335.8 526.1,335.2 527.6,336.9 529.1,336.7 530.6,337.0 532.1,337.6 533.6,338.3 535.1,338.5 536.6,339.9 538.1,339.7 539.5,340.4 541.0,340.4 542.5,341.7 544.0,342.5 545.5,343.1 547.0,344.4 548.5,344.9 550.0,345.7 551.5,345.8 553.0,346.4 554.5,346.5 556.0,346.6 557.5,346.5 559.0,346.6" stroke="#dcae3a"/>
<polyline points="156.5,363.5 158.0,363.3 159.5,363.1 161.0,362.9 162.5,362.7 164.0,362.5 165.5,362.2 167.0,362.0 168.5,361.9 170.0,361.5 171.5,361.4 173.0,361.1 174.5,360.8 176.0,360.6 177.4,360.3 178.9,360.0 180.4,359.5 181.9,359.4 183.4,359.0 184.9,358.5 186.4,358.3 187.9,357.6 189.4,357.5 190.9,356.9 192.4,356.5 193.9,356.1 195.4,356.0 196.9,355.6 198.4,355.4 199.9,354.5 201.4,354.6 202.9,353.7 204.4,353.9 205.9,352.9 207.4,353.2 208.9,352.8 210.4,352.0 211.9,351.6 213.4,351.4 214.9,350.5 216.4,350.7 217.8,350.2 219.3,349.7 220.8,349.1 222.3,348.0 223.8,347.8 225.3,347.1 226.8,346.3 228.3,346.1 229.8,345.4 231.3,344.5 232.8,344.5 234.3,343.3 235.8,342.9 237.3,342.7 238.8,342.2 240.3,341.8 241.8,340.3 243.3,339.6 244.8,340.0 246.3,338.4 247.8,338.1 249.3,338.7 250.8,337.9 252.3,337.7 253.8,336.4 255.3,335.9 256.8,335.3 258.2,334.1 259.7,333.4 261.2,333.9 262.7,332.4 264.2,331.9 265.7,331.4 267.2,331.2 268.7,330.5 270.2,330.7 271.7,329.3 273.2,329.2 274.7,328.5 276.2,328.1 277.7,327.1 279.2,326.8 280.7,326.2 282.2,326.4 283.7,324.5 285.2,324.9 286.7,323.9 288.2,322.5 289.7,323.0 291.2,323.0 292.7,320.3 294.2,322.3 295.7,319.8 297.2,319.9 298.6,319.4 300.1,318.9 301.6,318.8 303.1,315.9 304.6,316.5 306.1,316.1 307.6,314.4 309.1,315.2 310.6,312.9 312.1,313.8 313.6,313.8 315.1,310.9 316.6,311.3 318.1,310.8 319.6,309.9 321.1,310.1 322.6,308.7 324.1,310.0 325.6,308.8 327.1,310.4 328.6,308.1 330.1,308.0 331.6,305.9 333.1,307.3 334.6,305.9 336.1,306.0 337.6,305.9 339.0,306.9 340.5,306.4 342.0,305.9 343.5,306.9 345.0,305.1 346.5,303.2 348.0,303.6 349.5,302.6 351.0,303.3 352.5,303.3 354.0,302.1 355.5,302.9 357.0,302.9 358.5,302.4 360.0,300.8 361.5,302.1 363.0,302.1 364.5,303.0 366.0,301.1 367.5,301.0 369.0,300.7 370.5,301.7 372.0,303.0 373.5,299.9 375.0,299.6 376.5,298.2 377.9,299.8 379.4,301.2 380.9,299.3 382.4,301.7 383.9,298.2 385.4,300.9 386.9,299.1 388.4,299.7 389.9,301.8 391.4,301.1 392.9,301.4 394.4,299.8 395.9,298.4 397.4,299.3 398.9,300.2 400.4,298.1 401.9,300.8 403.4,300.0 404.9,298.5 406.4,300.2 407.9,301.2 409.4,299.0 410.9,299.3 412.4,299.7 413.9,299.4 415.4,298.2 416.9,300.3 418.3,300.6 419.8,300.1 421.3,302.4 422.8,302.9 424.3,301.2 425.8,302.1 427.3,301.3 428.8,299.9 430.3,302.3 431.8,303.8 433.3,301.0 434.8,303.7 436.3,302.7 437.8,301.8 439.3,301.4 440.8,304.6 442.3,304.4 443.8,306.2 445.3,304.1 446.8,304.7 448.3,303.6 449.8,305.1 451.3,306.7 452.8,306.0 454.3,307.4 455.8,308.6 457.3,308.2 458.7,308.3 460.2,308.4 461.7,309.6 463.2,309.6 464.7,311.7 466.2,312.4 467.7,312.9 469.2,312.5 470.7,314.9 472.2,313.6 473.7,313.9 475.2,316.2 476.7,315.7 478.2,317.8 479.7,317.8 481.2,318.8 482.7,317.1 484.2,318.5 485.7,318.5 487.2,320.0 488.7,319.0 490.2,321.9 491.7,321.2 493.2,320.2 494.7,321.8 496.2,322.4 497.7,324.9 499.1,323.3 500.6,325.9 502.1,326.4 503.6,326.6 505.1,325.3 506.6,327.4 508.1,327.2 509.6,327.8 511.1,328.4 512.6,330.1 514.1,330.9 515.6,331.9 517.1,331.5 518.6,333.2 520.1,332.8 521.6,334.3 523.1,333.8 524.6,335.7 526.1,335.2 527.6,337.0 529.1,336.7 530.6,337.1 532.1,337.5 533.6,338.4 535.1,338.5 536.6,339.8 538.1,339.7 539.5,340.4 541.0,340.5 542.5,341.7 544.0,342.5 545.5,343.1 547.0,344.4 548.5,344.9 550.0,345.7 551.5,345.8 553.0,346.3 554.5,346.5 556.0,346.6 557.5,346.5 559.0,346.6" stroke="#cd562c"/>
<path d="M688 298.5H1086" stroke-dasharray="1 4"/>
<path d="M684 298.5h5"/>
<path d="M685 312.5H1086" stroke-dasharray="1 4"/>
<path d="M684 312.5h5"/>
<path d="M687 325.5H1086" stroke-dasharray="1 4"/>
<path d="M684 325.5h5"/>
<path d="M684 339.5H1086" stroke-dasharray="1 4"/>
<path d="M684 339.5h5"/>
<path d="M686 352.5H1086" stroke-dasharray="1 4"/>
<path d="M684 352.5h5"/>
<path d="M687.5 298V363" stroke-dasharray="1 4"/>
<path d="M687.5 358V363"/>
<path d="M802.5 298V363" stroke-dasharray="1 4"/>
<path d="M802.5 358V363"/>
<path d="M916.5 298V363" stroke-dasharray="1 4"/>
<path d="M916.5 358V363"/>
<path d="M1031.5 298V363" stroke-dasharray="1 4"/>
<path d="M1031.5 358V363"/>
<path d="M683.5 295V364M683 363.5H1086"/>
<polyline points="683.5,363.5 685.0,363.3 686.5,363.0 688.0,362.8 689.5,362.6 691.0,362.4 692.5,362.2 694.0,361.9 695.5,361.7 697.0,361.5 698.5,361.4 700.0,361.1 701.5,360.9 703.0,360.6 704.4,360.6 705.9,359.9 707.4,359.7 708.9,359.3 710.4,358.8 711.9,358.7 713.4,358.2 714.9,357.5 716.4,357.4 717.9,356.7 719.4,356.6 720.9,356.0 722.4,356.3 723.9,355.5 725.4,355.0 726.9,354.7 728.4,354.1 729.9,354.0 731.4,353.6 732.9,352.9 734.4,353.0 735.9,352.6 737.4,352.2 738.9,351.1 740.4,351.1 741.9,351.1 743.4,350.3 744.8,350.2 746.3,349.4 747.8,348.2 749.3,348.0 750.8,347.5 752.3,346.8 753.8,346.7 755.3,345.2 756.8,344.7 758.3,343.4 759.8,343.7 761.3,342.3 762.8,342.8 764.3,343.0 765.8,341.3 767.3,341.4 768.8,341.1 770.3,340.3 771.8,339.0 773.3,339.9 774.8,338.3 776.3,337.6 777.8,336.5 779.3,335.5 780.8,336.0 782.3,334.0 783.8,332.6 785.2,332.9 786.7,332.6 788.2,329.8 789.7,331.3 791.2,330.3 792.7,330.1 794.2,329.3 795.7,329.6 797.2,327.8 798.7,327.8 800.2,327.0 801.7,326.8 803.2,328.1 804.7,325.9 806.2,325.1 807.7,325.5 809.2,323.6 810.7,322.5 812.2,324.5 813.7,321.5 815.2,321.8 816.7,320.8 818.2,318.8 819.7,321.4 821.2,319.1 822.7,318.8 824.2,319.6 825.6,318.0 827.1,316.9 828.6,315.6 830.1,317.0 831.6,312.0 833.1,313.8 834.6,311.7 836.1,314.6 837.6,313.1 839.1,310.6 840.6,312.5 842.1,312.2 843.6,312.6 845.1,310.1 846.6,311.1 848.1,310.2 849.6,309.0 851.1,310.3 852.6,310.0 854.1,309.0 855.6,307.7 857.1,308.2 858.6,307.3 860.1,307.9 861.6,304.7 863.1,304.2 864.6,305.1 866.0,303.9 867.5,305.2 869.0,302.8 870.5,305.0 872.0,303.6 873.5,304.6 875.0,302.6 876.5,300.3 878.0,301.7 879.5,303.4 881.0,300.9 882.5,302.7 884.0,302.5 885.5,304.1 887.0,300.2 888.5,301.2 890.0,300.7 891.5,301.8 893.0,301.5 894.5,298.0 896.0,301.1 897.5,299.9 899.0,299.6 900.5,299.9 902.0,298.5 903.5,297.0 904.9,298.4 906.4,299.3 907.9,303.5 909.4,297.2 910.9,301.8 912.4,302.2 913.9,298.3 915.4,298.2 916.9,301.0 918.4,301.2 919.9,295.3 921.4,299.3 922.9,298.5 924.4,299.0 925.9,298.5 927.4,300.7 928.9,298.0 930.4,297.9 931.9,299.1 933.4,299.0 934.9,298.4 936.4,301.9 937.9,296.8 939.4,298.7 940.9,297.1 942.4,299.5 943.9,300.4 945.3,301.7 946.8,297.5 948.3,301.8 949.8,299.1 951.3,301.5 952.8,303.5 954.3,298.3 955.8,300.8 957.3,300.7 958.8,302.8 960.3,301.6 961.8,300.8 963.3,301.5 964.8,302.5 966.3,302.7 967.8,302.6 969.3,301.9 970.8,304.2 972.3,305.3 973.8,305.7 975.3,305.1 976.8,301.8 978.3,305.8 979.8,307.2 981.3,305.9 982.8,307.8 984.3,306.5 985.7,306.7 987.2,308.9 988.7,307.1 990.2,307.3 991.7,309.6 993.2,310.8 994.7,312.2 996.2,313.7 997.7,312.9 999.2,313.3 1000.7,313.7 1002.2,313.5 1003.7,314.6 1005.2,316.2 1006.7,317.7 1008.2,317.7 1009.7,318.0 1011.2,317.8 1012.7,319.9 1014.2,320.0 1015.7,320.2 1017.2,320.7 1018.7,320.5 1020.2,320.9 1021.7,321.7 1023.2,321.9 1024.7,324.5 1026.1,323.3 1027.6,323.2 1029.1,324.2 1030.6,325.7 1032.1,327.2 1033.6,326.7 1035.1,327.3 1036.6,327.8 1038.1,328.2 1039.6,330.5 1041.1,329.7 1042.6,329.9 1044.1,331.1 1045.6,332.2 1047.1,332.5 1048.6,333.3 1050.1,334.3 1051.6,335.3 1053.1,335.1 1054.6,335.2 1056.1,335.8 1057.6,337.1 1059.1,337.6 1060.6,337.1 1062.1,338.9 1063.6,339.4 1065.1,339.1 1066.5,340.1 1068.0,341.1 1069.5,342.8 1071.0,342.0 1072.5,343.7 1074.0,344.0 1075.5,344.8 1077.0,344.4 1078.5,345.0 1080.0,345.1 1081.5,345.8 1083.0,346.4 1084.5,346.3 1086.0,346.9" stroke="#5a55b5"/>
<polyline points="683.5,363.5 685.0,363.3 686.5,363.0 688.0,362.8 689.5,362.6 691.0,362.4 692.5,362.2 694.0,361.9 695.5,361.7 697.0,361.5 698.5,361.4 700.0,361.1 701.5,360.9 703.0,360.6 704.4,360.6 705.9,359.9 707.4,359.7 708.9,359.3 710.4,358.8 711.9,358.8 713.4,358.3 714.9,357.5 716.4,357.4 717.9,356.7 719.4,356.5 720.9,356.0 722.4,356.2 723.9,355.5 725.4,355.0 726.9,354.6 728.4,354.1 729.9,354.0 731.4,353.6 732.9,352.9 734.4,352.9 735.9,352.6 737.4,352.2 738.9,351.1 740.4,351.1 741.9,351.1 743.4,350.2 744.8,350.2 746.3,349.4 747.8,348.2 749.3,348.0 750.8,347.5 752.3,346.7 753.8,346.7 755.3,345.2 756.8,344.8 758.3,343.4 759.8,343.7 761.3,342.3 762.8,342.7 764.3,343.0 765.8,341.3 767.3,341.4 768.8,341.2 770.3,340.3 771.8,339.0 773.3,340.1 774.8,338.3 776.3,337.6 777.8,336.4 779.3,335.3 780.8,335.9 782.3,334.1 783.8,332.5 785.2,332.8 786.7,332.5 788.2,329.8 789.7,331.3 791.2,330.4 792.7,330.0 794.2,329.4 795.7,329.7 797.2,327.8 798.7,327.8 800.2,326.9 801.7,326.7 803.2,328.2 804.7,325.9 806.2,325.1 807.7,325.5 809.2,323.5 810.7,322.7 812.2,324.5 813.7,321.4 815.2,321.7 816.7,320.9 818.2,318.9 819.7,321.5 821.2,319.1 822.7,318.9 824.2,319.6 825.6,317.9 827.1,317.0 828.6,315.7 830.1,316.9 831.6,311.8 833.1,314.0 834.6,311.8 836.1,314.5 837.6,313.0 839.1,310.7 840.6,312.5 842.1,312.2 843.6,312.5 845.1,310.0 846.6,311.1 848.1,310.2 849.6,309.1 851.1,310.4 852.6,309.9 854.1,308.8 855.6,307.7 857.1,308.2 858.6,307.1 860.1,308.0 861.6,304.7 863.1,304.2 864.6,305.3 866.0,303.9 867.5,305.1 869.0,302.9 870.5,305.1 872.0,303.6 873.5,304.7 875.0,302.4 876.5,300.4 878.0,301.6 879.5,303.5 881.0,301.0 882.5,302.7 884.0,302.5 885.5,304.2 887.0,300.2 888.5,301.2 890.0,300.7 891.5,301.7 893.0,301.5 894.5,298.1 896.0,301.0 897.5,299.9 899.0,299.5 900.5,300.1 902.0,298.1 903.5,297.1 904.9,298.5 906.4,299.2 907.9,303.5 909.4,297.2 910.9,301.7 912.4,302.1 913.9,298.1 915.4,298.3 916.9,301.2 918.4,301.1 919.9,295.3 921.4,299.4 922.9,298.5 924.4,299.3 925.9,298.7 927.4,301.0 928.9,298.1 930.4,297.9 931.9,299.3 933.4,299.1 934.9,298.2 936.4,302.0 937.9,297.0 939.4,298.5 940.9,297.1 942.4,299.7 943.9,300.4 945.3,301.8 946.8,297.3 948.3,301.7 949.8,298.9 951.3,301.3 952.8,303.3 954.3,298.4 955.8,300.8 957.3,300.9 958.8,302.8 960.3,301.6 961.8,300.9 963.3,301.6 964.8,302.7 966.3,302.9 967.8,302.6 969.3,301.9 970.8,304.1 972.3,305.4 973.8,305.7 975.3,305.0 976.8,301.8 978.3,305.8 979.8,307.3 981.3,305.8 982.8,307.8 984.3,306.6 985.7,306.5 987.2,309.0 988.7,307.0 990.2,307.4 991.7,309.5 993.2,310.8 994.7,312.2 996.2,313.7 997.7,312.8 999.2,313.2 1000.7,313.9 1002.2,313.4 1003.7,314.6 1005.2,316.1 1006.7,317.6 1008.2,317.7 1009.7,318.2 1011.2,317.7 1012.7,319.7 1014.2,320.0 1015.7,320.1 1017.2,320.8 1018.7,320.4 1020.2,321.0 1021.7,321.7 1023.2,321.9 1024.7,324.5 1026.1,323.3 1027.6,323.6 1029.1,324.3 1030.6,325.6 1032.1,327.3 1033.6,326.9 1035.1,327.2 1036.6,327.7 1038.1,328.3 1039.6,330.5 1041.1,329.7 1042.6,329.9 1044.1,331.2 1045.6,332.1 1047.1,332.4 1048.6,333.3 1050.1,334.1 1051.6,335.3 1053.1,335.0 1054.6,335.3 1056.1,335.8 1057.6,337.1 1059.1,337.6 1060.6,337.1 1062.1,338.9 1063.6,339.4 1065.1,339.1 1066.5,340.2 1068.0,341.2 1069.5,342.8 1071.0,342.0 1072.5,343.7 1074.0,344.0 1075.5,344.7 1077.0,344.4 1078.5,345.0 1080.0,345.1 1081.5,345.8 1083.0,346.4 1084.5,346.2 1086.0,346.8" stroke="#5fa060"/>
<polyline points="683.5,363.5 685.0,363.3 686.5,363.0 688.0,362.8 689.5,362.6 691.0,362.4 692.5,362.2 694.0,361.9 695.5,361.7 697.0,361.5 698.5,361.4 700.0,361.0 701.5,360.9 703.0,360.6 704.4,360.6 705.9,359.9 707.4,359.7 708.9,359.3 710.4,358.8 711.9,358.7 713.4,358.3 714.9,357.5 716.4,357.4 717.9,356.7 719.4,356.5 720.9,356.0 722.4,356.2 723.9,355.5 725.4,355.0 726.9,354.7 728.4,354.1 729.9,354.0 731.4,353.7 732.9,352.9 734.4,352.9 735.9,352.5 737.4,352.2 738.9,351.0 740.4,351.1 741.9,351.1 743.4,350.3 744.8,350.2 746.3,349.4 747.8,348.2 749.3,348.0 750.8,347.5 752.3,346.7 753.8,346.7 755.3,345.2 756.8,344.8 758.3,343.4 759.8,343.7 761.3,342.2 762.8,342.8 764.3,343.0 765.8,341.4 767.3,341.4 768.8,341.1 770.3,340.3 771.8,339.1 773.3,340.0 774.8,338.3 776.3,337.6 777.8,336.5 779.3,335.3 780.8,335.9 782.3,334.1 783.8,332.5 785.2,332.8 786.7,332.5 788.2,329.9 789.7,331.3 791.2,330.3 792.7,330.0 794.2,329.3 795.7,329.7 797.2,327.8 798.7,327.9 800.2,326.9 801.7,326.7 803.2,328.2 804.7,325.9 806.2,325.1 807.7,325.5 809.2,323.5 810.7,322.4 812.2,324.4 813.7,321.4 815.2,321.7 816.7,320.8 818.2,319.0 819.7,321.3 821.2,319.0 822.7,318.8 824.2,319.9 825.6,317.8 827.1,317.0 828.6,315.7 830.1,317.0 831.6,312.0 833.1,313.8 834.6,311.9 836.1,314.5 837.6,313.0 839.1,310.7 840.6,312.4 842.1,312.3 843.6,312.5 845.1,310.1 846.6,311.2 848.1,310.1 849.6,309.0 851.1,310.5 852.6,310.0 854.1,308.8 855.6,307.8 857.1,308.1 858.6,307.3 860.1,308.0 861.6,304.8 863.1,304.3 864.6,305.3 866.0,303.9 867.5,305.3 869.0,302.8 870.5,305.0 872.0,303.6 873.5,304.6 875.0,302.6 876.5,300.4 878.0,301.7 879.5,303.5 881.0,301.0 882.5,302.7 884.0,302.5 885.5,304.2 887.0,300.4 888.5,301.2 890.0,300.7 891.5,301.7 893.0,301.6 894.5,298.2 896.0,301.3 897.5,299.9 899.0,299.5 900.5,300.3 902.0,298.2 903.5,297.1 904.9,298.6 906.4,299.6 907.9,303.3 909.4,297.1 910.9,301.8 912.4,302.3 913.9,298.1 915.4,298.2 916.9,301.0 918.4,300.9 919.9,295.3 921.4,299.2 922.9,298.7 924.4,299.1 925.9,298.6 927.4,300.6 928.9,298.1 930.4,297.7 931.9,299.2 933.4,299.0 934.9,298.4 936.4,302.1 937.9,296.8 939.4,298.6 940.9,297.2 942.4,299.5 943.9,300.6 945.3,301.9 946.8,297.6 948.3,301.8 949.8,298.9 951.3,301.4 952.8,303.4 954.3,298.3 955.8,300.8 957.3,300.7 958.8,302.9 960.3,301.7 961.8,300.8 963.3,301.6 964.8,302.6 966.3,303.0 967.8,302.6 969.3,301.8 970.8,304.3 972.3,305.3 973.8,305.6 975.3,305.0 976.8,301.8 978.3,306.0 979.8,307.4 981.3,305.9 982.8,307.6 984.3,306.5 985.7,306.6 987.2,308.9 988.7,306.9 990.2,307.3 991.7,309.5 993.2,310.9 994.7,312.1 996.2,313.8 997.7,312.8 999.2,313.2 1000.7,313.9 1002.2,313.4 1003.7,314.5 1005.2,316.3 1006.7,317.6 1008.2,317.7 1009.7,318.1 1011.2,317.9 1012.7,319.7 1014.2,320.0 1015.7,320.2 1017.2,320.7 1018.7,320.5 1020.2,321.1 1021.7,321.6 1023.2,321.8 1024.7,324.5 1026.1,323.2 1027.6,323.3 1029.1,324.3 1030.6,325.7 1032.1,327.2 1033.6,326.8 1035.1,327.2 1036.6,327.6 1038.1,328.2 1039.6,330.4 1041.1,329.8 1042.6,330.0 1044.1,331.2 1045.6,332.1 1047.1,332.6 1048.6,333.2 1050.1,334.2 1051.6,335.5 1053.1,335.1 1054.6,335.3 1056.1,335.9 1057.6,337.1 1059.1,337.6 1060.6,337.1 1062.1,338.9 1063.6,339.4 1065.1,339.1 1066.5,340.1 1068.0,341.2 1069.5,342.8 1071.0,342.0 1072.5,343.7 1074.0,344.0 1075.5,344.7 1077.0,344.4 1078.5,345.1 1080.0,345.2 1081.5,345.8 1083.0,346.4 1084.5,346.3 1086.0,346.8" stroke="#dcae3a"/>
<polyline points="683.5,363.5 685.0,363.3 686.5,363.0 688.0,362.8 689.5,362.6 691.0,362.4 692.5,362.2 694.0,361.9 695.5,361.7 697.0,361.5 698.5,361.4 700.0,361.1 701.5,360.9 703.0,360.6 704.4,360.6 705.9,359.9 707.4,359.7 708.9,359.3 710.4,358.8 711.9,358.8 713.4,358.3 714.9,357.5 716.4,357.4 717.9,356.7 719.4,356.5 720.9,356.0 722.4,356.3 723.9,355.5 725.4,355.0 726.9,354.7 728.4,354.1 729.9,354.0 731.4,353.6 732.9,352.9 734.4,352.9 735.9,352.6 737.4,352.2 738.9,351.0 740.4,351.1 741.9,351.1 743.4,350.3 744.8,350.2 746.3,349.4 747.8,348.2 749.3,348.0 750.8,347.5 752.3,346.7 753.8,346.7 755.3,345.2 756.8,344.8 758.3,343.4 759.8,343.7 761.3,342.3 762.8,342.7 764.3,343.0 765.8,341.3 767.3,341.4 768.8,341.2 770.3,340.3 771.8,339.0 773.3,340.0 774.8,338.3 776.3,337.6 777.8,336.5 779.3,335.4 780.8,335.9 782.3,334.0 783.8,332.5 785.2,332.9 786.7,332.5 788.2,329.8 789.7,331.3 791.2,330.4 792.7,330.0 794.2,329.3 795.7,329.7 797.2,327.8 798.7,327.8 800.2,327.0 801.7,326.7 803.2,328.2 804.7,325.9 806.2,325.1 807.7,325.4 809.2,323.5 810.7,322.5 812.2,324.4 813.7,321.5 815.2,321.7 816.7,320.9 818.2,318.9 819.7,321.3 821.2,319.1 822.7,318.9 824.2,319.7 825.6,317.9 827.1,316.9 828.6,315.6 830.1,317.0 831.6,312.0 833.1,313.8 834.6,311.8 836.1,314.5 837.6,313.0 839.1,310.6 840.6,312.4 842.1,312.2 843.6,312.5 845.1,310.0 846.6,311.1 848.1,310.0 849.6,308.9 851.1,310.4 852.6,309.9 854.1,308.9 855.6,307.7 857.1,308.2 858.6,307.2 860.1,307.9 861.6,304.8 863.1,304.2 864.6,305.4 866.0,304.0 867.5,305.1 869.0,302.8 870.5,305.0 872.0,303.6 873.5,304.7 875.0,302.5 876.5,300.3 878.0,301.6 879.5,303.4 881.0,301.0 882.5,302.6 884.0,302.4 885.5,304.1 887.0,300.4 888.5,301.2 890.0,300.7 891.5,301.8 893.0,301.5 894.5,298.1 896.0,301.1 897.5,299.9 899.0,299.4 900.5,300.0 902.0,298.4 903.5,297.0 904.9,298.5 906.4,299.3 907.9,303.5 909.4,297.2 910.9,301.7 912.4,302.2 913.9,298.1 915.4,298.4 916.9,301.1 918.4,301.1 919.9,295.3 921.4,299.2 922.9,298.6 924.4,299.0 925.9,298.5 927.4,300.7 928.9,298.0 930.4,297.8 931.9,299.3 933.4,299.0 934.9,298.4 936.4,302.0 937.9,296.9 939.4,298.7 940.9,297.2 942.4,299.6 943.9,300.5 945.3,301.8 946.8,297.5 948.3,301.8 949.8,298.9 951.3,301.4 952.8,303.5 954.3,298.4 955.8,300.8 957.3,300.7 958.8,302.8 960.3,301.6 961.8,300.9 963.3,301.5 964.8,302.6 966.3,302.8 967.8,302.7 969.3,301.8 970.8,304.1 972.3,305.4 973.8,305.6 975.3,305.0 976.8,301.8 978.3,305.8 979.8,307.3 981.3,305.8 982.8,307.7 984.3,306.6 985.7,306.6 987.2,309.0 988.7,307.0 990.2,307.4 991.7,309.6 993.2,310.8 994.7,312.2 996.2,313.8 997.7,312.8 999.2,313.2 1000.7,313.8 1002.2,313.4 1003.7,314.5 1005.2,316.2 1006.7,317.6 1008.2,317.7 1009.7,318.1 1011.2,317.8 1012.7,319.8 1014.2,320.0 1015.7,320.2 1017.2,320.8 1018.7,320.5 1020.2,321.0 1021.7,321.7 1023.2,321.9 1024.7,324.6 1026.1,323.3 1027.6,323.3 1029.1,324.3 1030.6,325.7 1032.1,327.2 1033.6,326.8 1035.1,327.2 1036.6,327.7 1038.1,328.2 1039.6,330.5 1041.1,329.8 1042.6,330.0 1044.1,331.1 1045.6,332.1 1047.1,332.5 1048.6,333.3 1050.1,334.2 1051.6,335.4 1053.1,335.0 1054.6,335.3 1056.1,335.9 1057.6,337.1 1059.1,337.6 1060.6,337.1 1062.1,338.9 1063.6,339.3 1065.1,339.1 1066.5,340.1 1068.0,341.2 1069.5,342.8 1071.0,342.0 1072.5,343.6 1074.0,344.0 1075.5,344.7 1077.0,344.4 1078.5,345.0 1080.0,345.1 1081.5,345.8 1083.0,346.3 1084.5,346.3 1086.0,346.9" stroke="#cd562c"/>
<path d="M157 506.5H559" stroke-dasharray="1 4"/>
<path d="M157 506.5h4"/>
<path d="M159 520.5H559" stroke-dasharray="1 4"/>
<path d="M157 520.5h4"/>
<path d="M161 534.5H559" stroke-dasharray="1 4"/>
<path d="M157 534.5h4"/>
<path d="M158 548.5H559" stroke-dasharray="1 4"/>
<path d="M157 548.5h4"/>
<path d="M159.5 495V560" stroke-dasharray="1 4"/>
<path d="M159.5 555V560"/>
<path d="M273.5 495V560" stroke-dasharray="1 4"/>
<path d="M273.5 555V560"/>
<path d="M388.5 495V560" stroke-dasharray="1 4"/>
<path d="M388.5 555V560"/>
<path d="M502.5 495V560" stroke-dasharray="1 4"/>
<path d="M502.5 555V560"/>
<path d="M156.5 493V561M156 560.5H559"/>
<polyline points="156.5,560.5 158.0,560.3 159.5,560.1 161.0,559.9 162.5,559.7 164.0,559.5 165.5,559.2 167.0,559.0 168.5,558.7 170.0,558.7 171.5,558.4 173.0,558.1 174.5,558.0 176.0,557.5 177.4,557.5 178.9,557.0 180.4,556.7 181.9,556.5 183.4,556.0 184.9,555.6 186.4,555.2 187.9,554.9 189.4,554.5 190.9,554.1 192.4,553.8 193.9,553.5 195.4,552.7 196.9,552.5 198.4,552.2 199.9,552.2 201.4,551.7 202.9,550.9 204.4,550.5 205.9,550.5 207.4,549.9 208.9,549.5 210.4,549.5 211.9,548.8 213.4,548.4 214.9,548.0 216.4,547.5 217.8,547.1 219.3,546.5 220.8,546.0 222.3,545.2 223.8,544.9 225.3,543.8 226.8,543.4 228.3,543.2 229.8,541.6 231.3,541.8 232.8,540.6 234.3,540.2 235.8,539.7 237.3,538.9 238.8,538.2 240.3,537.5 241.8,536.5 243.3,536.3 244.8,536.2 246.3,536.0 247.8,535.0 249.3,534.7 250.8,534.0 252.3,532.8 253.8,532.1 255.3,531.4 256.8,531.0 258.2,530.0 259.7,529.9 261.2,528.6 262.7,528.1 264.2,527.1 265.7,527.2 267.2,525.9 268.7,524.9 270.2,526.0 271.7,526.2 273.2,523.4 274.7,524.4 276.2,522.8 277.7,523.2 279.2,522.1 280.7,522.0 282.2,521.8 283.7,520.4 285.2,518.4 286.7,519.1 288.2,519.1 289.7,518.4 291.2,517.9 292.7,517.0 294.2,516.7 295.7,516.0 297.2,514.3 298.6,515.0 300.1,514.0 301.6,513.5 303.1,512.4 304.6,510.0 306.1,510.5 307.6,511.2 309.1,510.6 310.6,508.3 312.1,509.9 313.6,508.5 315.1,508.2 316.6,509.0 318.1,508.0 319.6,505.6 321.1,506.6 322.6,504.6 324.1,504.7 325.6,506.2 327.1,505.3 328.6,505.7 330.1,503.5 331.6,503.7 333.1,504.9 334.6,502.7 336.1,502.6 337.6,502.0 339.0,502.7 340.5,502.5 342.0,503.4 343.5,502.1 345.0,497.7 346.5,500.9 348.0,501.2 349.5,500.9 351.0,502.7 352.5,501.4 354.0,499.8 355.5,498.7 357.0,499.3 358.5,499.7 360.0,500.0 361.5,499.4 363.0,497.1 364.5,496.5 366.0,497.9 367.5,500.1 369.0,498.0 370.5,497.5 372.0,500.9 373.5,497.8 375.0,499.3 376.5,500.7 377.9,496.5 379.4,496.4 380.9,498.2 382.4,498.0 383.9,493.9 385.4,497.4 386.9,499.2 388.4,495.5 389.9,495.6 391.4,498.6 392.9,495.6 394.4,496.0 395.9,497.2 397.4,496.1 398.9,493.9 400.4,499.1 401.9,498.1 403.4,498.8 404.9,496.0 406.4,496.9 407.9,496.8 409.4,497.3 410.9,498.3 412.4,495.5 413.9,497.0 415.4,497.6 416.9,498.3 418.3,497.7 419.8,496.2 421.3,496.4 422.8,498.6 424.3,497.6 425.8,500.2 427.3,498.6 428.8,499.6 430.3,498.6 431.8,499.1 433.3,500.9 434.8,499.7 436.3,500.1 437.8,500.1 439.3,498.9 440.8,502.7 442.3,500.3 443.8,503.3 445.3,502.4 446.8,500.8 448.3,503.1 449.8,503.8 451.3,502.6 452.8,504.3 454.3,504.7 455.8,505.0 457.3,504.3 458.7,504.8 460.2,507.6 461.7,508.2 463.2,508.0 464.7,507.9 466.2,508.7 467.7,512.1 469.2,510.2 470.7,511.3 472.2,512.0 473.7,513.1 475.2,512.8 476.7,513.0 478.2,513.2 479.7,513.1 481.2,514.6 482.7,514.5 484.2,515.6 485.7,515.7 487.2,517.2 488.7,517.9 490.2,519.1 491.7,518.0 493.2,519.1 494.7,517.9 496.2,519.4 497.7,520.8 499.1,523.4 500.6,522.7 502.1,523.4 503.6,523.7 505.1,523.6 506.6,523.9 508.1,524.3 509.6,525.2 511.1,525.3 512.6,526.9 514.1,527.7 515.6,529.2 517.1,528.0 518.6,528.8 520.1,530.6 521.6,530.8 523.1,531.2 524.6,532.6 526.1,531.8 527.6,534.2 529.1,534.4 530.6,535.5 532.1,535.1 533.6,535.6 535.1,536.7 536.6,536.7 538.1,536.2 539.5,537.0 541.0,537.0 542.5,539.0 544.0,539.8 545.5,540.8 547.0,542.0 548.5,542.1 550.0,542.6 551.5,542.5 553.0,542.8 554.5,543.6 556.0,543.3 557.5,544.1 559.0,543.6" stroke="#5a55b5"/>
<polyline points="156.5,560.5 158.0,560.3 159.5,560.1 161.0,559.9 162.5,559.7 164.0,559.4 165.5,559.2 167.0,559.1 168.5,558.6 170.0,558.6 171.5,558.3 173.0,558.1 174.5,557.9 176.0,557.5 177.4,557.5 178.9,557.1 180.4,556.8 181.9,556.7 183.4,555.8 184.9,555.5 186.4,555.3 187.9,554.9 189.4,554.4 190.9,554.2 192.4,553.9 193.9,553.5 195.4,552.8 196.9,552.5 198.4,552.1 199.9,552.1 201.4,551.5 202.9,550.9 204.4,550.5 205.9,550.3 207.4,550.0 208.9,549.6 210.4,549.6 211.9,548.7 213.4,548.4 214.9,547.9 216.4,547.5 217.8,547.1 219.3,546.4 220.8,545.9 222.3,545.2 223.8,544.6 225.3,543.9 226.8,543.4 228.3,543.2 229.8,541.6 231.3,541.5 232.8,540.7 234.3,540.4 235.8,539.9 237.3,539.1 238.8,538.0 240.3,537.5 241.8,536.5 243.3,536.4 244.8,536.1 246.3,536.0 247.8,535.1 249.3,534.6 250.8,533.8 252.3,532.7 253.8,532.1 255.3,531.1 256.8,530.7 258.2,530.1 259.7,530.0 261.2,528.6 262.7,528.5 264.2,527.5 265.7,527.4 267.2,526.4 268.7,524.9 270.2,526.2 271.7,526.5 273.2,523.2 274.7,524.5 276.2,523.0 277.7,523.2 279.2,522.1 280.7,521.8 282.2,521.6 283.7,520.2 285.2,518.8 286.7,519.1 288.2,519.2 289.7,517.9 291.2,517.5 292.7,517.3 294.2,516.4 295.7,516.6 297.2,514.1 298.6,515.6 300.1,514.2 301.6,512.8 303.1,512.7 304.6,509.9 306.1,510.5 307.6,511.4 309.1,510.9 310.6,508.9 312.1,509.5 313.6,508.0 315.1,508.1 316.6,508.8 318.1,508.3 319.6,506.3 321.1,506.5 322.6,504.5 324.1,505.1 325.6,506.0 327.1,504.5 328.6,506.2 330.1,502.8 331.6,503.7 333.1,504.8 334.6,502.8 336.1,502.5 337.6,502.0 339.0,502.3 340.5,502.3 342.0,503.2 343.5,502.0 345.0,497.7 346.5,501.1 348.0,501.3 349.5,501.7 351.0,502.7 352.5,501.6 354.0,499.8 355.5,498.8 357.0,499.5 358.5,498.9 360.0,499.7 361.5,499.7 363.0,496.9 364.5,497.4 366.0,498.7 367.5,499.9 369.0,497.8 370.5,497.8 372.0,500.7 373.5,497.8 375.0,499.1 376.5,500.3 377.9,496.5 379.4,496.7 380.9,497.6 382.4,498.2 383.9,493.9 385.4,498.1 386.9,498.3 388.4,495.5 389.9,494.6 391.4,499.3 392.9,495.6 394.4,496.6 395.9,497.0 397.4,495.6 398.9,493.8 400.4,498.4 401.9,498.4 403.4,498.9 404.9,495.1 406.4,497.2 407.9,496.9 409.4,497.7 410.9,498.3 412.4,495.7 413.9,497.2 415.4,497.9 416.9,498.3 418.3,497.9 419.8,496.3 421.3,496.5 422.8,498.4 424.3,497.6 425.8,500.1 427.3,498.6 428.8,499.5 430.3,498.8 431.8,499.4 433.3,500.5 434.8,500.3 436.3,499.5 437.8,500.3 439.3,499.9 440.8,502.8 442.3,500.3 443.8,503.1 445.3,501.8 446.8,501.4 448.3,503.0 449.8,503.7 451.3,502.4 452.8,504.7 454.3,504.2 455.8,504.6 457.3,503.9 458.7,505.1 460.2,507.1 461.7,508.2 463.2,507.3 464.7,507.7 466.2,508.0 467.7,511.8 469.2,510.0 470.7,511.2 472.2,512.1 473.7,513.1 475.2,512.3 476.7,513.0 478.2,513.0 479.7,513.4 481.2,515.1 482.7,514.6 484.2,515.8 485.7,515.4 487.2,517.3 488.7,517.9 490.2,518.8 491.7,518.0 493.2,519.2 494.7,517.6 496.2,519.2 497.7,521.0 499.1,523.0 500.6,522.5 502.1,523.4 503.6,523.5 505.1,523.8 506.6,523.7 508.1,524.2 509.6,524.6 511.1,525.0 512.6,527.1 514.1,527.6 515.6,529.2 517.1,528.3 518.6,528.9 520.1,530.7 521.6,530.9 523.1,530.9 524.6,532.5 526.1,531.7 527.6,534.3 529.1,534.3 530.6,535.4 532.1,535.1 533.6,535.6 535.1,536.5 536.6,536.7 538.1,536.1 539.5,537.0 541.0,536.9 542.5,539.0 544.0,539.7 545.5,540.4 547.0,542.0 548.5,542.2 550.0,542.5 551.5,542.4 553.0,542.8 554.5,543.5 556.0,543.6 557.5,544.1 559.0,543.7" stroke="#5fa060"/>
<polyline points="156.5,560.5 158.0,560.4 159.5,560.0 161.0,559.8 162.5,559.7 164.0,559.5 165.5,559.2 167.0,559.0 168.5,558.7 170.0,558.7 171.5,558.4 173.0,558.1 174.5,558.0 176.0,557.5 177.4,557.4 178.9,557.1 180.4,556.8 181.9,556.7 183.4,556.0 184.9,555.5 186.4,555.2 187.9,554.9 189.4,554.5 190.9,554.2 192.4,553.8 193.9,553.6 195.4,552.7 196.9,552.5 198.4,552.2 199.9,552.1 201.4,551.5 202.9,550.8 204.4,550.4 205.9,550.4 207.4,550.0 208.9,549.5 210.4,549.5 211.9,548.8 213.4,548.4 214.9,547.7 216.4,547.4 217.8,547.0 219.3,546.3 220.8,545.8 222.3,545.1 223.8,544.7 225.3,543.9 226.8,543.4 228.3,543.1 229.8,541.4 231.3,541.7 232.8,540.7 234.3,540.1 235.8,539.9 237.3,539.0 238.8,537.9 240.3,537.6 241.8,536.5 243.3,536.3 244.8,536.2 246.3,536.1 247.8,535.2 249.3,534.6 250.8,534.0 252.3,532.7 253.8,532.1 255.3,531.5 256.8,530.7 258.2,529.8 259.7,529.8 261.2,528.8 262.7,527.9 264.2,527.3 265.7,527.7 267.2,526.2 268.7,525.3 270.2,525.8 271.7,526.5 273.2,523.4 274.7,524.7 276.2,523.2 277.7,523.2 279.2,522.1 280.7,521.4 282.2,521.6 283.7,520.4 285.2,518.1 286.7,519.1 288.2,518.9 289.7,518.4 291.2,517.9 292.7,517.6 294.2,516.2 295.7,516.2 297.2,514.4 298.6,515.6 300.1,513.9 301.6,512.9 303.1,512.6 304.6,510.4 306.1,510.4 307.6,511.3 309.1,510.7 310.6,508.2 312.1,509.7 313.6,507.4 315.1,508.4 316.6,509.4 318.1,507.9 319.6,505.8 321.1,506.4 322.6,504.5 324.1,504.7 325.6,505.9 327.1,505.2 328.6,506.1 330.1,503.4 331.6,504.0 333.1,504.6 334.6,503.1 336.1,502.9 337.6,502.5 339.0,501.7 340.5,502.3 342.0,503.7 343.5,502.0 345.0,497.6 346.5,501.1 348.0,501.5 349.5,501.1 351.0,502.7 352.5,501.6 354.0,499.8 355.5,498.8 357.0,500.3 358.5,499.0 360.0,499.9 361.5,499.0 363.0,497.1 364.5,496.7 366.0,498.1 367.5,500.1 369.0,497.4 370.5,497.1 372.0,500.7 373.5,497.9 375.0,499.9 376.5,500.6 377.9,496.5 379.4,496.5 380.9,498.1 382.4,498.3 383.9,494.1 385.4,497.6 386.9,498.5 388.4,495.7 389.9,495.0 391.4,498.8 392.9,495.6 394.4,497.0 395.9,497.3 397.4,495.9 398.9,493.9 400.4,499.3 401.9,497.9 403.4,500.0 404.9,496.0 406.4,497.1 407.9,496.0 409.4,498.1 410.9,498.1 412.4,495.8 413.9,497.5 415.4,497.9 416.9,499.1 418.3,497.3 419.8,496.6 421.3,495.7 422.8,498.4 424.3,497.8 425.8,500.2 427.3,498.4 428.8,499.9 430.3,499.0 431.8,499.0 433.3,500.6 434.8,499.6 436.3,499.2 437.8,500.0 439.3,499.3 440.8,502.4 442.3,500.7 443.8,503.0 445.3,502.4 446.8,501.3 448.3,503.3 449.8,503.3 451.3,502.4 452.8,504.4 454.3,504.3 455.8,504.0 457.3,503.9 458.7,504.8 460.2,507.7 461.7,509.1 463.2,507.1 464.7,507.9 466.2,508.1 467.7,512.0 469.2,510.4 470.7,511.1 472.2,511.5 473.7,512.4 475.2,512.0 476.7,512.9 478.2,513.1 479.7,513.4 481.2,514.8 482.7,514.5 484.2,515.5 485.7,515.6 487.2,517.4 488.7,518.4 490.2,518.9 491.7,518.2 493.2,518.6 494.7,517.6 496.2,519.2 497.7,520.8 499.1,523.4 500.6,522.7 502.1,523.5 503.6,523.6 505.1,523.6 506.6,523.8 508.1,524.3 509.6,525.0 511.1,525.4 512.6,526.8 514.1,527.2 515.6,529.2 517.1,528.4 518.6,529.0 520.1,530.5 521.6,530.6 523.1,530.9 524.6,532.4 526.1,531.8 527.6,534.3 529.1,534.1 530.6,535.4 532.1,535.2 533.6,535.7 535.1,536.4 536.6,536.6 538.1,536.1 539.5,536.7 541.0,537.0 542.5,538.9 544.0,539.6 545.5,540.6 547.0,542.1 548.5,542.2 550.0,542.6 551.5,542.5 553.0,543.0 554.5,543.4 556.0,543.3 557.5,544.3 559.0,543.7" stroke="#dcae3a"/>
<polyline points="156.5,560.5 158.0,560.3 159.5,560.1 161.0,559.8 162.5,559.7 164.0,559.5 165.5,559.2 167.0,559.1 168.5,558.7 170.0,558.6 171.5,558.3 173.0,558.1 174.5,558.0 176.0,557.5 177.4,557.5 178.9,557.0 180.4,556.8 181.9,556.6 183.4,556.0 184.9,555.6 186.4,555.2 187.9,554.9 189.4,554.4 190.9,554.2 192.4,553.9 193.9,553.6 195.4,552.8 196.9,552.5 198.4,552.1 199.9,552.1 201.4,551.5 202.9,550.8 204.4,550.4 205.9,550.4 207.4,550.0 208.9,549.5 210.4,549.6 211.9,548.8 213.4,548.4 214.9,547.9 216.4,547.5 217.8,547.0 219.3,546.4 220.8,546.1 222.3,545.1 223.8,544.7 225.3,543.9 226.8,543.5 228.3,543.1 229.8,541.5 231.3,541.8 232.8,540.8 234.3,540.2 235.8,539.9 237.3,539.0 238.8,538.1 240.3,537.4 241.8,536.5 243.3,536.4 244.8,536.1 246.3,536.2 247.8,535.1 249.3,534.7 250.8,533.9 252.3,532.8 253.8,532.1 255.3,531.3 256.8,530.9 258.2,530.0 259.7,529.9 261.2,528.7 262.7,528.3 264.2,527.2 265.7,527.6 267.2,526.2 268.7,525.0 270.2,526.0 271.7,526.4 273.2,523.4 274.7,524.5 276.2,522.9 277.7,523.1 279.2,522.3 280.7,521.8 282.2,521.6 283.7,520.5 285.2,518.4 286.7,519.0 288.2,519.1 289.7,518.1 291.2,517.7 292.7,517.2 294.2,516.6 295.7,516.2 297.2,514.3 298.6,515.5 300.1,513.9 301.6,513.1 303.1,512.7 304.6,510.2 306.1,510.5 307.6,511.5 309.1,510.8 310.6,508.1 312.1,509.6 313.6,508.3 315.1,508.2 316.6,509.1 318.1,508.1 319.6,506.1 321.1,506.3 322.6,504.5 324.1,504.8 325.6,506.0 327.1,505.2 328.6,506.1 330.1,503.3 331.6,503.7 333.1,504.6 334.6,502.9 336.1,502.8 337.6,502.2 339.0,502.1 340.5,502.3 342.0,503.4 343.5,501.8 345.0,497.4 346.5,500.7 348.0,501.2 349.5,501.3 351.0,502.7 352.5,501.5 354.0,499.9 355.5,499.1 357.0,499.8 358.5,499.1 360.0,499.9 361.5,499.5 363.0,497.2 364.5,496.9 366.0,498.3 367.5,499.9 369.0,497.8 370.5,497.4 372.0,500.6 373.5,497.9 375.0,499.3 376.5,500.2 377.9,496.4 379.4,496.6 380.9,498.3 382.4,498.2 383.9,494.0 385.4,497.5 386.9,498.9 388.4,495.5 389.9,494.9 391.4,498.8 392.9,495.7 394.4,496.3 395.9,497.4 397.4,496.0 398.9,493.9 400.4,499.0 401.9,498.2 403.4,499.3 404.9,495.8 406.4,496.9 407.9,496.9 409.4,497.8 410.9,498.5 412.4,496.2 413.9,497.2 415.4,498.1 416.9,498.8 418.3,497.4 419.8,496.1 421.3,496.2 422.8,498.5 424.3,497.6 425.8,500.1 427.3,498.4 428.8,499.7 430.3,499.1 431.8,499.0 433.3,500.6 434.8,500.0 436.3,499.5 437.8,500.1 439.3,499.2 440.8,502.2 442.3,500.4 443.8,503.5 445.3,502.3 446.8,500.9 448.3,503.1 449.8,503.7 451.3,502.5 452.8,504.4 454.3,504.5 455.8,504.4 457.3,504.1 458.7,505.0 460.2,507.4 461.7,508.4 463.2,507.5 464.7,507.8 466.2,508.2 467.7,511.8 469.2,510.2 470.7,511.2 472.2,511.8 473.7,513.1 475.2,512.5 476.7,513.1 478.2,513.0 479.7,513.4 481.2,514.9 482.7,514.7 484.2,515.9 485.7,515.4 487.2,517.3 488.7,518.0 490.2,519.0 491.7,518.2 493.2,519.1 494.7,517.6 496.2,519.3 497.7,520.7 499.1,523.1 500.6,522.7 502.1,523.4 503.6,523.5 505.1,523.6 506.6,524.0 508.1,524.1 509.6,525.1 511.1,525.2 512.6,527.1 514.1,527.6 515.6,529.3 517.1,528.5 518.6,529.2 520.1,530.5 521.6,530.9 523.1,531.1 524.6,532.4 526.1,531.9 527.6,534.2 529.1,534.2 530.6,535.3 532.1,535.1 533.6,535.6 535.1,536.5 536.6,536.7 538.1,536.0 539.5,536.9 541.0,537.1 542.5,539.0 544.0,539.7 545.5,540.6 547.0,541.9 548.5,542.1 550.0,542.6 551.5,542.5 553.0,542.9 554.5,543.5 556.0,543.4 557.5,544.1 559.0,543.7" stroke="#cd562c"/>
<path d="M684 500.5H1086" stroke-dasharray="1 4"/>
<path d="M684 500.5h5"/>
<path d="M686 515.5H1086" stroke-dasharray="1 4"/>
<path d="M684 515.5h5"/>
<path d="M688 531.5H1086" stroke-dasharray="1 4"/>
<path d="M684 531.5h5"/>
<path d="M685 547.5H1086" stroke-dasharray="1 4"/>
<path d="M684 547.5h5"/>
<path d="M687.5 495V560" stroke-dasharray="1 4"/>
<path d="M687.5 555V560"/>
<path d="M802.5 495V560" stroke-dasharray="1 4"/>
<path d="M802.5 555V560"/>
<path d="M916.5 495V560" stroke-dasharray="1 4"/>
<path d="M916.5 555V560"/>
<path d="M1031.5 495V560" stroke-dasharray="1 4"/>
<path d="M1031.5 555V560"/>
<path d="M683.5 493V561M683 560.5H1086"/>
<polyline points="683.5,560.5 685.0,560.3 686.5,560.1 688.0,559.8 689.5,559.6 691.0,559.4 692.5,559.2 694.0,559.0 695.5,558.8 697.0,558.6 698.5,558.4 700.0,558.0 701.5,558.0 703.0,557.5 704.4,557.5 705.9,557.1 707.4,556.7 708.9,556.1 710.4,556.0 711.9,555.6 713.4,555.1 714.9,554.5 716.4,554.4 717.9,553.9 719.4,553.5 720.9,553.2 722.4,552.8 723.9,552.6 725.4,551.9 726.9,551.4 728.4,551.0 729.9,550.9 731.4,550.6 732.9,550.0 734.4,549.9 735.9,549.5 737.4,548.9 738.9,549.3 740.4,548.6 741.9,547.6 743.4,547.2 744.8,546.8 746.3,546.4 747.8,545.0 749.3,545.3 750.8,544.8 752.3,543.1 753.8,542.6 755.3,542.4 756.8,541.9 758.3,541.3 759.8,541.3 761.3,540.2 762.8,539.5 764.3,538.3 765.8,538.1 767.3,537.3 768.8,536.5 770.3,536.0 771.8,535.0 773.3,536.4 774.8,535.2 776.3,534.4 777.8,532.2 779.3,531.9 780.8,531.8 782.3,530.5 783.8,529.9 785.2,528.3 786.7,528.8 788.2,528.3 789.7,527.7 791.2,526.5 792.7,526.5 794.2,526.2 795.7,525.4 797.2,524.9 798.7,524.5 800.2,524.3 801.7,521.8 803.2,522.1 804.7,522.8 806.2,521.6 807.7,520.6 809.2,521.1 810.7,519.2 812.2,519.2 813.7,518.4 815.2,518.4 816.7,518.3 818.2,518.0 819.7,517.1 821.2,515.1 822.7,513.8 824.2,514.8 825.6,514.4 827.1,514.2 828.6,514.4 830.1,513.6 831.6,511.0 833.1,511.5 834.6,509.7 836.1,510.5 837.6,510.0 839.1,509.9 840.6,510.2 842.1,508.0 843.6,508.0 845.1,508.1 846.6,508.1 848.1,504.6 849.6,505.7 851.1,504.3 852.6,506.6 854.1,504.8 855.6,504.1 857.1,504.8 858.6,503.5 860.1,504.0 861.6,504.7 863.1,503.4 864.6,500.8 866.0,501.3 867.5,499.4 869.0,502.3 870.5,501.4 872.0,500.0 873.5,500.3 875.0,500.8 876.5,500.4 878.0,499.9 879.5,498.6 881.0,499.1 882.5,499.1 884.0,499.1 885.5,501.3 887.0,498.5 888.5,500.6 890.0,498.8 891.5,496.8 893.0,498.4 894.5,496.7 896.0,499.9 897.5,497.4 899.0,496.8 900.5,496.6 902.0,499.4 903.5,496.4 904.9,496.5 906.4,497.4 907.9,499.4 909.4,496.6 910.9,498.3 912.4,498.1 913.9,492.5 915.4,497.4 916.9,497.0 918.4,497.8 919.9,496.6 921.4,498.0 922.9,494.4 924.4,498.3 925.9,495.4 927.4,498.0 928.9,495.5 930.4,495.5 931.9,495.8 933.4,495.2 934.9,497.7 936.4,497.8 937.9,497.6 939.4,497.4 940.9,496.0 942.4,495.4 943.9,495.1 945.3,498.4 946.8,498.7 948.3,497.8 949.8,497.2 951.3,498.1 952.8,498.3 954.3,496.7 955.8,495.9 957.3,498.7 958.8,499.7 960.3,502.1 961.8,501.8 963.3,500.2 964.8,500.9 966.3,500.8 967.8,501.0 969.3,500.7 970.8,500.5 972.3,501.8 973.8,502.5 975.3,501.9 976.8,503.8 978.3,503.9 979.8,503.4 981.3,506.0 982.8,502.8 984.3,507.5 985.7,505.6 987.2,507.3 988.7,507.7 990.2,506.0 991.7,507.4 993.2,508.0 994.7,511.3 996.2,508.7 997.7,511.9 999.2,511.2 1000.7,511.8 1002.2,511.8 1003.7,512.8 1005.2,513.5 1006.7,516.1 1008.2,516.3 1009.7,515.5 1011.2,515.0 1012.7,518.0 1014.2,517.6 1015.7,516.3 1017.2,517.4 1018.7,518.1 1020.2,519.0 1021.7,518.2 1023.2,519.7 1024.7,521.1 1026.1,520.3 1027.6,521.9 1029.1,520.7 1030.6,522.8 1032.1,522.9 1033.6,525.7 1035.1,524.8 1036.6,526.5 1038.1,526.7 1039.6,525.8 1041.1,526.9 1042.6,527.8 1044.1,529.2 1045.6,529.9 1047.1,529.4 1048.6,531.1 1050.1,532.1 1051.6,532.2 1053.1,533.2 1054.6,533.1 1056.1,533.0 1057.6,534.5 1059.1,534.6 1060.6,535.5 1062.1,536.1 1063.6,535.5 1065.1,537.0 1066.5,537.5 1068.0,537.4 1069.5,538.5 1071.0,539.0 1072.5,541.1 1074.0,541.3 1075.5,541.4 1077.0,542.0 1078.5,542.9 1080.0,543.2 1081.5,543.6 1083.0,543.4 1084.5,543.8 1086.0,543.5" stroke="#5a55b5"/>
<polyline points="683.5,560.5 685.0,560.4 686.5,560.0 688.0,559.8 689.5,559.6 691.0,559.5 692.5,559.1 694.0,558.9 695.5,558.8 697.0,558.6 698.5,558.4 700.0,558.1 701.5,557.9 703.0,557.4 704.4,557.5 705.9,557.1 707.4,556.6 708.9,556.0 710.4,556.0 711.9,555.6 713.4,555.2 714.9,554.5 716.4,554.3 717.9,553.9 719.4,553.6 720.9,553.1 722.4,552.9 723.9,552.4 725.4,551.9 726.9,551.6 728.4,551.0 729.9,551.0 731.4,550.7 732.9,550.1 734.4,549.9 735.9,549.4 737.4,548.9 738.9,549.1 740.4,548.7 741.9,547.7 743.4,547.1 744.8,546.6 746.3,546.5 747.8,544.9 749.3,545.4 750.8,544.6 752.3,543.1 753.8,542.8 755.3,542.6 756.8,542.0 758.3,541.3 759.8,541.3 761.3,540.0 762.8,539.5 764.3,538.2 765.8,538.1 767.3,537.5 768.8,536.6 770.3,536.1 771.8,534.7 773.3,536.6 774.8,535.1 776.3,534.0 777.8,532.1 779.3,531.7 780.8,531.7 782.3,531.0 783.8,529.9 785.2,528.7 786.7,528.9 788.2,528.6 789.7,527.6 791.2,526.5 792.7,526.5 794.2,525.8 795.7,525.9 797.2,525.1 798.7,524.5 800.2,524.4 801.7,521.9 803.2,522.1 804.7,522.7 806.2,521.4 807.7,520.4 809.2,520.9 810.7,519.2 812.2,519.4 813.7,518.5 815.2,518.4 816.7,518.7 818.2,518.2 819.7,516.3 821.2,515.3 822.7,514.1 824.2,514.8 825.6,514.2 827.1,513.9 828.6,513.9 830.1,513.7 831.6,510.9 833.1,510.4 834.6,510.2 836.1,510.2 837.6,510.0 839.1,509.9 840.6,510.3 842.1,507.8 843.6,508.3 845.1,508.2 846.6,508.1 848.1,504.7 849.6,505.5 851.1,504.0 852.6,507.0 854.1,505.0 855.6,504.5 857.1,504.3 858.6,502.9 860.1,504.2 861.6,504.0 863.1,503.2 864.6,501.1 866.0,500.6 867.5,499.7 869.0,502.8 870.5,502.3 872.0,499.6 873.5,499.2 875.0,501.1 876.5,501.1 878.0,500.0 879.5,498.0 881.0,499.5 882.5,498.6 884.0,499.2 885.5,501.5 887.0,498.2 888.5,500.7 890.0,498.5 891.5,497.3 893.0,499.2 894.5,496.3 896.0,499.1 897.5,497.1 899.0,496.7 900.5,496.7 902.0,499.7 903.5,496.9 904.9,496.8 906.4,497.4 907.9,499.2 909.4,496.3 910.9,497.8 912.4,498.8 913.9,493.4 915.4,497.1 916.9,497.5 918.4,497.6 919.9,496.8 921.4,497.7 922.9,494.7 924.4,497.9 925.9,495.0 927.4,497.5 928.9,495.4 930.4,495.5 931.9,495.4 933.4,495.3 934.9,497.7 936.4,497.6 937.9,496.8 939.4,496.3 940.9,496.6 942.4,495.9 943.9,495.1 945.3,498.9 946.8,499.3 948.3,497.9 949.8,497.7 951.3,497.8 952.8,498.2 954.3,496.5 955.8,496.2 957.3,498.8 958.8,499.6 960.3,502.7 961.8,501.5 963.3,500.2 964.8,500.4 966.3,500.9 967.8,501.8 969.3,500.9 970.8,499.7 972.3,501.5 973.8,502.1 975.3,501.6 976.8,503.5 978.3,504.3 979.8,503.6 981.3,505.7 982.8,503.3 984.3,507.7 985.7,506.4 987.2,507.2 988.7,507.8 990.2,505.4 991.7,507.4 993.2,508.5 994.7,511.3 996.2,508.7 997.7,511.5 999.2,511.6 1000.7,512.0 1002.2,512.2 1003.7,512.8 1005.2,512.9 1006.7,516.2 1008.2,516.1 1009.7,515.7 1011.2,515.1 1012.7,517.5 1014.2,517.7 1015.7,516.7 1017.2,517.8 1018.7,518.2 1020.2,518.8 1021.7,518.9 1023.2,519.3 1024.7,521.2 1026.1,520.0 1027.6,521.8 1029.1,521.0 1030.6,522.8 1032.1,522.8 1033.6,525.0 1035.1,524.6 1036.6,526.3 1038.1,526.5 1039.6,526.0 1041.1,526.8 1042.6,527.9 1044.1,528.9 1045.6,529.9 1047.1,529.8 1048.6,531.0 1050.1,532.1 1051.6,532.1 1053.1,532.8 1054.6,533.3 1056.1,532.9 1057.6,534.0 1059.1,534.6 1060.6,535.5 1062.1,536.0 1063.6,535.5 1065.1,536.6 1066.5,537.6 1068.0,537.5 1069.5,538.7 1071.0,538.9 1072.5,540.9 1074.0,541.4 1075.5,541.1 1077.0,542.2 1078.5,542.7 1080.0,543.3 1081.5,543.7 1083.0,543.6 1084.5,543.8 1086.0,543.6" stroke="#5fa060"/>
<polyline points="683.5,560.5 685.0,560.3 686.5,560.1 688.0,559.8 689.5,559.7 691.0,559.4 692.5,559.2 694.0,559.0 695.5,558.7 697.0,558.6 698.5,558.5 700.0,558.1 701.5,558.0 703.0,557.5 704.4,557.5 705.9,557.2 707.4,556.6 708.9,556.1 710.4,556.0 711.9,555.6 713.4,555.0 714.9,554.5 716.4,554.4 717.9,554.0 719.4,553.6 720.9,553.2 722.4,552.9 723.9,552.6 725.4,552.0 726.9,551.7 728.4,551.0 729.9,551.0 731.4,550.7 732.9,550.2 734.4,549.8 735.9,549.5 737.4,549.0 738.9,549.1 740.4,548.7 741.9,547.5 743.4,547.3 744.8,546.7 746.3,546.5 747.8,545.1 749.3,545.3 750.8,544.8 752.3,543.1 753.8,542.7 755.3,542.6 756.8,541.8 758.3,541.4 759.8,541.1 761.3,540.1 762.8,539.6 764.3,538.3 765.8,538.1 767.3,537.3 768.8,536.9 770.3,536.2 771.8,534.8 773.3,536.5 774.8,534.8 776.3,534.4 777.8,532.3 779.3,532.0 780.8,531.9 782.3,530.7 783.8,530.0 785.2,528.7 786.7,528.8 788.2,528.3 789.7,527.7 791.2,526.4 792.7,526.7 794.2,526.3 795.7,525.7 797.2,524.9 798.7,524.5 800.2,524.6 801.7,521.9 803.2,521.9 804.7,523.0 806.2,521.5 807.7,520.5 809.2,521.1 810.7,519.2 812.2,519.2 813.7,518.4 815.2,518.2 816.7,518.7 818.2,518.3 819.7,516.8 821.2,515.4 822.7,513.9 824.2,514.7 825.6,514.2 827.1,514.5 828.6,513.5 830.1,513.4 831.6,511.6 833.1,510.6 834.6,510.1 836.1,510.5 837.6,509.6 839.1,509.4 840.6,510.5 842.1,507.9 843.6,508.2 845.1,508.2 846.6,508.5 848.1,504.6 849.6,505.5 851.1,503.9 852.6,506.7 854.1,505.2 855.6,504.0 857.1,504.1 858.6,503.1 860.1,504.6 861.6,504.5 863.1,503.1 864.6,501.0 866.0,500.9 867.5,500.3 869.0,502.3 870.5,501.4 872.0,499.6 873.5,499.6 875.0,501.2 876.5,500.3 878.0,499.9 879.5,497.9 881.0,499.3 882.5,498.6 884.0,499.3 885.5,501.8 887.0,497.9 888.5,500.7 890.0,498.6 891.5,496.6 893.0,498.6 894.5,496.4 896.0,499.1 897.5,497.5 899.0,496.7 900.5,496.1 902.0,498.9 903.5,497.2 904.9,496.7 906.4,497.5 907.9,499.4 909.4,496.8 910.9,498.0 912.4,498.0 913.9,493.1 915.4,496.8 916.9,497.7 918.4,497.1 919.9,496.6 921.4,497.1 922.9,494.5 924.4,497.6 925.9,495.7 927.4,497.1 928.9,495.3 930.4,495.1 931.9,495.8 933.4,494.8 934.9,497.3 936.4,498.7 937.9,497.2 939.4,496.7 940.9,495.9 942.4,495.5 943.9,495.1 945.3,499.2 946.8,499.3 948.3,497.8 949.8,496.9 951.3,497.6 952.8,498.0 954.3,496.2 955.8,496.1 957.3,499.0 958.8,500.3 960.3,502.4 961.8,501.1 963.3,500.1 964.8,500.1 966.3,501.0 967.8,501.7 969.3,500.3 970.8,500.0 972.3,502.3 973.8,502.3 975.3,501.7 976.8,503.3 978.3,504.3 979.8,504.2 981.3,505.2 982.8,502.6 984.3,507.8 985.7,506.4 987.2,507.6 988.7,507.6 990.2,505.7 991.7,507.3 993.2,508.6 994.7,511.1 996.2,508.8 997.7,511.7 999.2,511.4 1000.7,512.1 1002.2,512.4 1003.7,512.9 1005.2,513.2 1006.7,516.3 1008.2,516.0 1009.7,515.6 1011.2,515.6 1012.7,517.7 1014.2,517.5 1015.7,516.4 1017.2,517.8 1018.7,517.9 1020.2,518.8 1021.7,518.8 1023.2,519.3 1024.7,521.1 1026.1,519.4 1027.6,522.0 1029.1,520.6 1030.6,523.1 1032.1,522.8 1033.6,525.5 1035.1,524.8 1036.6,526.2 1038.1,526.8 1039.6,525.8 1041.1,526.7 1042.6,527.7 1044.1,528.9 1045.6,529.6 1047.1,529.6 1048.6,531.4 1050.1,532.0 1051.6,532.0 1053.1,533.0 1054.6,533.3 1056.1,532.9 1057.6,534.4 1059.1,534.5 1060.6,535.1 1062.1,536.0 1063.6,535.8 1065.1,536.7 1066.5,537.5 1068.0,537.4 1069.5,538.4 1071.0,539.3 1072.5,541.0 1074.0,541.2 1075.5,541.3 1077.0,542.1 1078.5,542.7 1080.0,543.1 1081.5,543.7 1083.0,543.8 1084.5,543.8 1086.0,543.7" stroke="#dcae3a"/>
<polyline points="683.5,560.5 685.0,560.3 686.5,560.1 688.0,559.8 689.5,559.7 691.0,559.4 692.5,559.2 694.0,558.9 695.5,558.8 697.0,558.6 698.5,558.4 700.0,558.0 701.5,558.0 703.0,557.5 704.4,557.4 705.9,557.2 707.4,556.6 708.9,556.1 710.4,556.0 711.9,555.6 713.4,555.1 714.9,554.5 716.4,554.3 717.9,553.9 719.4,553.6 720.9,553.2 722.4,553.0 723.9,552.5 725.4,551.9 726.9,551.6 728.4,551.0 729.9,550.9 731.4,550.7 732.9,550.1 734.4,549.9 735.9,549.5 737.4,548.9 738.9,549.2 740.4,548.6 741.9,547.7 743.4,547.2 744.8,546.7 746.3,546.4 747.8,545.1 749.3,545.3 750.8,544.7 752.3,543.2 753.8,542.7 755.3,542.5 756.8,541.9 758.3,541.3 759.8,541.3 761.3,540.1 762.8,539.5 764.3,538.3 765.8,538.1 767.3,537.4 768.8,536.5 770.3,536.2 771.8,534.9 773.3,536.6 774.8,535.0 776.3,534.3 777.8,532.3 779.3,531.9 780.8,532.0 782.3,530.8 783.8,530.0 785.2,528.5 786.7,528.8 788.2,528.5 789.7,527.6 791.2,526.5 792.7,526.6 794.2,526.2 795.7,525.7 797.2,525.0 798.7,524.5 800.2,524.3 801.7,522.1 803.2,522.0 804.7,522.7 806.2,521.4 807.7,520.6 809.2,521.2 810.7,519.1 812.2,519.3 813.7,518.3 815.2,518.3 816.7,518.3 818.2,518.3 819.7,516.6 821.2,515.3 822.7,514.1 824.2,514.9 825.6,514.0 827.1,513.9 828.6,514.0 830.1,513.5 831.6,511.3 833.1,510.7 834.6,509.8 836.1,510.3 837.6,509.6 839.1,509.7 840.6,510.4 842.1,508.1 843.6,508.4 845.1,508.0 846.6,508.3 848.1,504.6 849.6,505.5 851.1,504.0 852.6,506.6 854.1,505.2 855.6,504.4 857.1,504.6 858.6,503.2 860.1,504.2 861.6,504.3 863.1,503.1 864.6,500.8 866.0,501.1 867.5,499.7 869.0,502.8 870.5,501.4 872.0,499.8 873.5,499.7 875.0,500.9 876.5,500.3 878.0,499.9 879.5,498.3 881.0,499.4 882.5,498.7 884.0,499.3 885.5,501.5 887.0,498.2 888.5,500.5 890.0,499.0 891.5,497.0 893.0,498.7 894.5,496.5 896.0,499.4 897.5,497.3 899.0,496.6 900.5,496.9 902.0,499.1 903.5,496.9 904.9,496.8 906.4,497.3 907.9,499.2 909.4,496.6 910.9,498.0 912.4,498.5 913.9,492.9 915.4,497.1 916.9,497.6 918.4,497.4 919.9,496.9 921.4,497.8 922.9,494.4 924.4,497.8 925.9,495.2 927.4,497.3 928.9,495.6 930.4,495.5 931.9,495.4 933.4,495.2 934.9,497.4 936.4,497.5 937.9,497.1 939.4,496.8 940.9,496.6 942.4,496.0 943.9,495.6 945.3,498.6 946.8,499.0 948.3,497.7 949.8,497.0 951.3,497.7 952.8,498.2 954.3,496.7 955.8,496.2 957.3,498.9 958.8,499.6 960.3,502.4 961.8,501.8 963.3,500.0 964.8,500.3 966.3,500.9 967.8,501.3 969.3,500.6 970.8,500.1 972.3,501.9 973.8,502.5 975.3,501.7 976.8,503.7 978.3,504.1 979.8,504.0 981.3,505.3 982.8,502.7 984.3,507.7 985.7,506.1 987.2,507.4 988.7,507.7 990.2,505.7 991.7,507.5 993.2,508.2 994.7,511.4 996.2,508.6 997.7,511.5 999.2,511.3 1000.7,511.9 1002.2,512.4 1003.7,512.7 1005.2,513.4 1006.7,516.4 1008.2,516.1 1009.7,515.4 1011.2,515.4 1012.7,517.7 1014.2,517.6 1015.7,516.5 1017.2,517.7 1018.7,518.1 1020.2,518.8 1021.7,518.7 1023.2,519.4 1024.7,521.0 1026.1,520.0 1027.6,522.1 1029.1,520.8 1030.6,522.9 1032.1,522.9 1033.6,525.5 1035.1,524.8 1036.6,526.3 1038.1,526.5 1039.6,525.9 1041.1,526.8 1042.6,527.7 1044.1,528.8 1045.6,529.9 1047.1,529.5 1048.6,531.2 1050.1,532.0 1051.6,532.1 1053.1,532.9 1054.6,533.2 1056.1,533.0 1057.6,534.4 1059.1,534.4 1060.6,535.3 1062.1,536.0 1063.6,535.6 1065.1,536.7 1066.5,537.4 1068.0,537.4 1069.5,538.7 1071.0,539.1 1072.5,541.0 1074.0,541.3 1075.5,541.3 1077.0,542.0 1078.5,542.8 1080.0,543.2 1081.5,543.7 1083.0,543.6 1084.5,543.8 1086.0,543.6" stroke="#cd562c"/>
<path d="M159 707.5H559" stroke-dasharray="1 4"/>
<path d="M157 707.5h4"/>
<path d="M161 725.5H559" stroke-dasharray="1 4"/>
<path d="M157 725.5h4"/>
<path d="M158 742.5H559" stroke-dasharray="1 4"/>
<path d="M157 742.5h4"/>
<path d="M159.5 692V757" stroke-dasharray="1 4"/>
<path d="M159.5 752V757"/>
<path d="M273.5 692V757" stroke-dasharray="1 4"/>
<path d="M273.5 752V757"/>
<path d="M388.5 692V757" stroke-dasharray="1 4"/>
<path d="M388.5 752V757"/>
<path d="M502.5 692V757" stroke-dasharray="1 4"/>
<path d="M502.5 752V757"/>
<path d="M156.5 690V758M156 757.5H559"/>
<polyline points="156.5,757.5 158.0,757.3 159.5,757.1 161.0,756.9 162.5,756.6 164.0,756.3 165.5,756.2 167.0,756.0 168.5,755.8 170.0,755.5 171.5,755.3 173.0,755.1 174.5,754.7 176.0,754.5 177.4,754.4 178.9,754.0 180.4,753.8 181.9,753.5 183.4,752.6 184.9,752.5 186.4,752.2 187.9,751.6 189.4,751.5 190.9,750.9 192.4,750.4 193.9,750.2 195.4,750.0 196.9,749.7 198.4,748.7 199.9,748.4 201.4,748.3 202.9,747.5 204.4,747.1 205.9,747.3 207.4,746.7 208.9,746.3 210.4,745.6 211.9,745.6 213.4,745.0 214.9,745.0 216.4,744.5 217.8,743.7 219.3,742.8 220.8,741.9 222.3,741.5 223.8,741.5 225.3,739.6 226.8,739.7 228.3,739.1 229.8,738.7 231.3,737.7 232.8,736.9 234.3,736.1 235.8,735.7 237.3,734.6 238.8,735.1 240.3,733.8 241.8,733.4 243.3,733.2 244.8,732.0 246.3,730.8 247.8,730.8 249.3,730.5 250.8,729.3 252.3,728.2 253.8,727.9 255.3,727.7 256.8,725.1 258.2,725.0 259.7,723.3 261.2,722.7 262.7,722.8 264.2,723.8 265.7,722.0 267.2,721.3 268.7,720.1 270.2,721.0 271.7,719.8 273.2,718.5 274.7,718.1 276.2,718.5 277.7,717.5 279.2,717.9 280.7,715.4 282.2,716.8 283.7,715.1 285.2,713.5 286.7,714.1 288.2,713.8 289.7,712.7 291.2,711.4 292.7,711.7 294.2,710.3 295.7,711.8 297.2,709.8 298.6,709.5 300.1,709.3 301.6,707.6 303.1,707.8 304.6,708.0 306.1,709.1 307.6,706.9 309.1,706.1 310.6,706.0 312.1,703.0 313.6,704.1 315.1,705.1 316.6,707.6 318.1,702.9 319.6,702.2 321.1,701.8 322.6,702.3 324.1,701.2 325.6,702.7 327.1,701.4 328.6,700.9 330.1,700.0 331.6,697.5 333.1,699.4 334.6,698.2 336.1,700.3 337.6,696.2 339.0,697.8 340.5,698.4 342.0,698.6 343.5,699.5 345.0,699.2 346.5,693.2 348.0,696.7 349.5,695.6 351.0,697.4 352.5,694.5 354.0,695.5 355.5,695.8 357.0,695.6 358.5,695.1 360.0,695.0 361.5,694.8 363.0,696.2 364.5,694.5 366.0,694.6 367.5,694.2 369.0,692.8 370.5,692.5 372.0,692.0 373.5,693.3 375.0,691.5 376.5,693.3 377.9,693.9 379.4,696.3 380.9,692.0 382.4,695.5 383.9,693.1 385.4,692.5 386.9,692.5 388.4,693.5 389.9,693.0 391.4,691.4 392.9,695.2 394.4,694.4 395.9,691.2 397.4,693.8 398.9,693.6 400.4,692.5 401.9,693.6 403.4,693.7 404.9,690.8 406.4,690.4 407.9,694.0 409.4,694.2 410.9,695.1 412.4,695.4 413.9,693.8 415.4,695.2 416.9,694.0 418.3,694.6 419.8,694.1 421.3,693.5 422.8,696.6 424.3,691.7 425.8,696.6 427.3,693.8 428.8,694.9 430.3,694.4 431.8,694.8 433.3,694.5 434.8,697.0 436.3,695.5 437.8,695.5 439.3,696.1 440.8,699.3 442.3,697.7 443.8,698.1 445.3,698.6 446.8,699.1 448.3,700.3 449.8,699.2 451.3,700.4 452.8,698.8 454.3,699.9 455.8,698.8 457.3,701.8 458.7,702.5 460.2,701.5 461.7,702.8 463.2,703.0 464.7,705.7 466.2,706.6 467.7,705.1 469.2,708.4 470.7,708.2 472.2,707.8 473.7,709.1 475.2,707.9 476.7,710.8 478.2,711.7 479.7,711.4 481.2,714.2 482.7,714.6 484.2,713.0 485.7,714.5 487.2,714.0 488.7,716.0 490.2,717.3 491.7,717.8 493.2,716.1 494.7,717.9 496.2,717.4 497.7,718.8 499.1,719.4 500.6,719.0 502.1,720.1 503.6,720.4 505.1,722.1 506.6,721.9 508.1,723.7 509.6,722.4 511.1,723.7 512.6,724.8 514.1,725.9 515.6,726.9 517.1,726.2 518.6,727.8 520.1,727.4 521.6,728.7 523.1,727.9 524.6,728.9 526.1,730.0 527.6,731.1 529.1,731.0 530.6,731.0 532.1,731.7 533.6,733.2 535.1,732.7 536.6,733.6 538.1,734.4 539.5,735.1 541.0,734.0 542.5,734.8 544.0,736.6 545.5,738.3 547.0,738.5 548.5,738.7 550.0,739.3 551.5,738.9 553.0,740.0 554.5,740.3 556.0,740.7 557.5,740.3 559.0,740.6" stroke="#5a55b5"/>
<polyline points="156.5,757.5 158.0,757.2 159.5,757.0 161.0,757.0 162.5,756.6 164.0,756.4 165.5,756.3 167.0,756.0 168.5,755.8 170.0,755.6 171.5,755.2 173.0,755.0 174.5,754.7 176.0,754.6 177.4,754.3 178.9,754.1 180.4,753.8 181.9,753.5 183.4,752.8 184.9,752.5 186.4,752.1 187.9,751.5 189.4,751.4 190.9,750.8 192.4,750.3 193.9,750.0 195.4,750.0 196.9,749.5 198.4,749.0 199.9,748.5 201.4,748.4 202.9,747.6 204.4,747.2 205.9,747.2 207.4,747.0 208.9,746.2 210.4,745.6 211.9,745.6 213.4,744.9 214.9,744.9 216.4,744.2 217.8,743.6 219.3,742.7 220.8,742.3 222.3,741.7 223.8,741.4 225.3,739.6 226.8,739.5 228.3,739.2 229.8,738.7 231.3,737.6 232.8,737.2 234.3,735.9 235.8,736.1 237.3,734.5 238.8,734.8 240.3,733.8 241.8,733.0 243.3,732.5 244.8,731.9 246.3,730.7 247.8,730.9 249.3,730.5 250.8,729.5 252.3,728.7 253.8,727.7 255.3,727.7 256.8,725.1 258.2,725.5 259.7,723.6 261.2,722.8 262.7,722.8 264.2,723.8 265.7,722.4 267.2,721.7 268.7,719.6 270.2,721.0 271.7,719.7 273.2,719.1 274.7,717.8 276.2,717.8 277.7,717.5 279.2,718.0 280.7,715.6 282.2,715.8 283.7,715.3 285.2,714.3 286.7,715.0 288.2,713.2 289.7,713.5 291.2,711.7 292.7,711.9 294.2,710.4 295.7,711.4 297.2,710.2 298.6,709.4 300.1,709.5 301.6,707.8 303.1,708.1 304.6,708.0 306.1,708.8 307.6,707.2 309.1,705.9 310.6,705.7 312.1,703.2 313.6,704.6 315.1,705.2 316.6,707.8 318.1,702.5 319.6,702.5 321.1,701.0 322.6,702.6 324.1,700.6 325.6,702.2 327.1,702.1 328.6,700.8 330.1,700.0 331.6,697.5 333.1,698.4 334.6,698.7 336.1,700.4 337.6,696.5 339.0,698.2 340.5,699.0 342.0,697.6 343.5,699.7 345.0,699.0 346.5,693.7 348.0,695.8 349.5,695.4 351.0,697.1 352.5,695.1 354.0,695.4 355.5,696.1 357.0,694.7 358.5,694.4 360.0,694.9 361.5,692.7 363.0,694.4 364.5,694.1 366.0,694.3 367.5,694.2 369.0,693.6 370.5,692.0 372.0,691.6 373.5,693.7 375.0,690.6 376.5,693.8 377.9,693.2 379.4,696.9 380.9,691.8 382.4,696.0 383.9,693.1 385.4,692.3 386.9,693.3 388.4,692.3 389.9,693.9 391.4,692.2 392.9,695.2 394.4,693.9 395.9,691.4 397.4,694.3 398.9,693.3 400.4,693.1 401.9,693.4 403.4,694.0 404.9,690.5 406.4,690.9 407.9,693.6 409.4,694.2 410.9,695.2 412.4,694.1 413.9,693.0 415.4,694.4 416.9,694.7 418.3,693.2 419.8,694.5 421.3,691.5 422.8,696.6 424.3,691.4 425.8,696.6 427.3,693.3 428.8,695.1 430.3,694.9 431.8,695.9 433.3,694.9 434.8,697.1 436.3,695.8 437.8,695.9 439.3,696.3 440.8,699.0 442.3,698.0 443.8,697.6 445.3,697.6 446.8,698.7 448.3,700.6 449.8,699.7 451.3,699.5 452.8,697.7 454.3,699.4 455.8,698.8 457.3,701.6 458.7,702.1 460.2,702.1 461.7,702.6 463.2,702.8 464.7,705.3 466.2,706.3 467.7,705.9 469.2,708.5 470.7,707.9 472.2,707.8 473.7,708.8 475.2,707.7 476.7,710.9 478.2,711.2 479.7,711.5 481.2,714.1 482.7,714.0 484.2,713.1 485.7,715.1 487.2,713.9 488.7,715.7 490.2,717.4 491.7,717.7 493.2,716.7 494.7,717.4 496.2,716.8 497.7,718.6 499.1,719.3 500.6,719.4 502.1,720.8 503.6,720.7 505.1,722.7 506.6,721.9 508.1,723.3 509.6,722.2 511.1,724.0 512.6,724.5 514.1,725.8 515.6,726.8 517.1,725.5 518.6,727.8 520.1,727.6 521.6,728.8 523.1,727.8 524.6,728.8 526.1,729.3 527.6,730.9 529.1,731.7 530.6,731.2 532.1,732.3 533.6,733.4 535.1,732.7 536.6,733.8 538.1,734.4 539.5,734.8 541.0,734.3 542.5,735.1 544.0,736.4 545.5,738.4 547.0,738.4 548.5,738.7 550.0,739.5 551.5,739.2 553.0,739.9 554.5,740.2 556.0,740.9 557.5,740.4 559.0,740.4" stroke="#5fa060"/>
<polyline points="156.5,757.5 158.0,757.3 159.5,757.1 161.0,756.8 162.5,756.6 164.0,756.3 165.5,756.2 167.0,756.0 168.5,755.8 170.0,755.5 171.5,755.2 173.0,755.0 174.5,754.8 176.0,754.6 177.4,754.4 178.9,754.0 180.4,753.9 181.9,753.5 183.4,752.7 184.9,752.4 186.4,752.2 187.9,751.7 189.4,751.5 190.9,751.0 192.4,750.3 193.9,750.1 195.4,750.0 196.9,749.6 198.4,749.1 199.9,748.4 201.4,748.3 202.9,747.6 204.4,747.3 205.9,747.3 207.4,746.9 208.9,746.2 210.4,745.6 211.9,745.4 213.4,745.0 214.9,744.7 216.4,744.5 217.8,743.6 219.3,743.1 220.8,742.3 222.3,741.2 223.8,741.5 225.3,740.0 226.8,739.5 228.3,739.3 229.8,738.7 231.3,737.6 232.8,737.1 234.3,735.9 235.8,736.4 237.3,734.5 238.8,734.7 240.3,733.9 241.8,733.3 243.3,732.9 244.8,732.1 246.3,730.8 247.8,731.1 249.3,730.0 250.8,729.7 252.3,728.5 253.8,727.5 255.3,727.9 256.8,725.5 258.2,724.4 259.7,723.6 261.2,723.1 262.7,722.7 264.2,723.6 265.7,722.6 267.2,722.1 268.7,719.8 270.2,721.1 271.7,719.2 273.2,718.6 274.7,718.0 276.2,717.9 277.7,717.7 279.2,717.8 280.7,715.3 282.2,716.3 283.7,715.7 285.2,713.9 286.7,714.3 288.2,713.3 289.7,712.5 291.2,710.7 292.7,711.8 294.2,710.5 295.7,712.0 297.2,710.7 298.6,709.0 300.1,709.4 301.6,708.3 303.1,708.3 304.6,707.4 306.1,708.8 307.6,705.8 309.1,705.8 310.6,706.4 312.1,702.8 313.6,704.4 315.1,704.7 316.6,707.9 318.1,702.3 319.6,702.6 321.1,700.4 322.6,702.4 324.1,700.6 325.6,702.6 327.1,701.9 328.6,700.9 330.1,699.9 331.6,698.2 333.1,698.7 334.6,698.6 336.1,700.9 337.6,696.5 339.0,697.2 340.5,698.9 342.0,698.2 343.5,699.6 345.0,698.7 346.5,693.2 348.0,695.7 349.5,695.4 351.0,696.5 352.5,695.9 354.0,694.8 355.5,696.2 357.0,695.3 358.5,694.0 360.0,694.8 361.5,693.7 363.0,694.9 364.5,693.5 366.0,694.9 367.5,694.8 369.0,693.5 370.5,692.5 372.0,691.6 373.5,693.3 375.0,691.0 376.5,694.1 377.9,693.2 379.4,694.9 380.9,691.4 382.4,694.7 383.9,693.1 385.4,692.8 386.9,692.7 388.4,692.1 389.9,693.8 391.4,691.3 392.9,695.0 394.4,693.8 395.9,691.7 397.4,693.5 398.9,692.6 400.4,692.9 401.9,693.7 403.4,693.7 404.9,690.7 406.4,690.8 407.9,694.2 409.4,694.8 410.9,695.5 412.4,694.5 413.9,694.6 415.4,695.0 416.9,694.6 418.3,693.7 419.8,694.3 421.3,692.8 422.8,696.7 424.3,692.6 425.8,695.6 427.3,694.4 428.8,694.1 430.3,694.5 431.8,695.3 433.3,694.6 434.8,697.7 436.3,695.4 437.8,695.4 439.3,695.6 440.8,698.5 442.3,697.6 443.8,698.0 445.3,698.3 446.8,699.8 448.3,700.7 449.8,699.5 451.3,699.7 452.8,697.4 454.3,700.0 455.8,698.9 457.3,702.3 458.7,703.0 460.2,702.0 461.7,702.2 463.2,702.7 464.7,705.8 466.2,706.1 467.7,705.7 469.2,707.9 470.7,708.2 472.2,707.7 473.7,708.9 475.2,707.6 476.7,710.5 478.2,711.0 479.7,710.9 481.2,714.2 482.7,713.4 484.2,713.1 485.7,714.9 487.2,714.0 488.7,716.1 490.2,717.5 491.7,717.4 493.2,717.0 494.7,717.7 496.2,716.8 497.7,718.5 499.1,719.5 500.6,719.1 502.1,720.5 503.6,719.9 505.1,722.8 506.6,722.1 508.1,723.6 509.6,722.5 511.1,724.3 512.6,724.4 514.1,726.0 515.6,726.5 517.1,726.4 518.6,728.0 520.1,727.4 521.6,728.5 523.1,727.7 524.6,729.0 526.1,729.8 527.6,730.8 529.1,731.3 530.6,731.5 532.1,732.2 533.6,733.0 535.1,732.8 536.6,733.4 538.1,734.4 539.5,734.8 541.0,733.9 542.5,735.3 544.0,736.4 545.5,738.2 547.0,738.1 548.5,738.5 550.0,739.4 551.5,739.2 553.0,740.1 554.5,740.1 556.0,740.9 557.5,740.3 559.0,740.4" stroke="#dcae3a"/>
<polyline points="156.5,757.5 158.0,757.3 159.5,757.1 161.0,756.9 162.5,756.7 164.0,756.4 165.5,756.2 167.0,756.0 168.5,755.8 170.0,755.5 171.5,755.3 173.0,755.1 174.5,754.8 176.0,754.5 177.4,754.4 178.9,754.0 180.4,753.8 181.9,753.4 183.4,752.7 184.9,752.5 186.4,752.2 187.9,751.6 189.4,751.4 190.9,750.9 192.4,750.3 193.9,750.1 195.4,750.0 196.9,749.6 198.4,748.9 199.9,748.5 201.4,748.4 202.9,747.5 204.4,747.2 205.9,747.2 207.4,746.8 208.9,746.3 210.4,745.8 211.9,745.5 213.4,745.0 214.9,744.8 216.4,744.3 217.8,743.5 219.3,742.9 220.8,742.2 222.3,741.6 223.8,741.4 225.3,739.6 226.8,739.7 228.3,739.4 229.8,738.8 231.3,737.6 232.8,737.3 234.3,736.0 235.8,735.9 237.3,734.7 238.8,734.7 240.3,733.8 241.8,733.1 243.3,732.8 244.8,732.1 246.3,730.9 247.8,731.0 249.3,730.3 250.8,729.5 252.3,728.6 253.8,727.5 255.3,727.5 256.8,725.2 258.2,725.0 259.7,723.5 261.2,722.7 262.7,722.7 264.2,723.6 265.7,722.2 267.2,721.8 268.7,719.7 270.2,720.7 271.7,719.8 273.2,718.8 274.7,718.1 276.2,718.1 277.7,717.4 279.2,718.1 280.7,715.6 282.2,716.5 283.7,715.3 285.2,713.8 286.7,714.5 288.2,713.5 289.7,712.5 291.2,711.7 292.7,711.7 294.2,710.5 295.7,711.9 297.2,710.1 298.6,709.2 300.1,709.5 301.6,707.6 303.1,707.9 304.6,708.0 306.1,708.8 307.6,707.1 309.1,705.9 310.6,705.9 312.1,703.2 313.6,704.6 315.1,705.1 316.6,707.3 318.1,702.2 319.6,702.5 321.1,700.9 322.6,702.2 324.1,700.5 325.6,702.5 327.1,701.8 328.6,700.9 330.1,699.7 331.6,697.9 333.1,698.7 334.6,698.5 336.1,700.3 337.6,696.6 339.0,697.8 340.5,698.8 342.0,698.5 343.5,699.5 345.0,698.6 346.5,693.1 348.0,696.3 349.5,695.4 351.0,697.0 352.5,695.2 354.0,695.5 355.5,695.7 357.0,695.0 358.5,694.4 360.0,694.9 361.5,693.9 363.0,695.3 364.5,694.0 366.0,694.7 367.5,694.4 369.0,693.8 370.5,691.9 372.0,691.5 373.5,693.5 375.0,690.7 376.5,693.6 377.9,693.8 379.4,695.9 380.9,691.9 382.4,695.2 383.9,693.4 385.4,692.4 386.9,692.9 388.4,692.9 389.9,693.1 391.4,691.3 392.9,694.7 394.4,694.2 395.9,691.4 397.4,694.0 398.9,693.5 400.4,692.9 401.9,693.6 403.4,693.9 404.9,690.5 406.4,691.0 407.9,694.1 409.4,694.5 410.9,695.5 412.4,694.3 413.9,693.7 415.4,694.9 416.9,694.5 418.3,694.0 419.8,694.4 421.3,692.3 422.8,696.6 424.3,692.5 425.8,696.1 427.3,693.9 428.8,694.8 430.3,694.9 431.8,695.4 433.3,694.7 434.8,697.2 436.3,695.9 437.8,695.3 439.3,696.6 440.8,699.0 442.3,697.6 443.8,697.8 445.3,698.5 446.8,699.5 448.3,700.5 449.8,698.9 451.3,699.6 452.8,698.2 454.3,700.0 455.8,698.9 457.3,701.6 458.7,702.4 460.2,702.3 461.7,702.6 463.2,702.8 464.7,705.4 466.2,706.3 467.7,705.6 469.2,708.1 470.7,708.5 472.2,707.8 473.7,708.9 475.2,708.0 476.7,710.5 478.2,711.2 479.7,710.9 481.2,713.8 482.7,714.4 484.2,713.3 485.7,714.7 487.2,714.3 488.7,716.0 490.2,717.4 491.7,717.4 493.2,716.6 494.7,717.7 496.2,717.3 497.7,718.6 499.1,719.1 500.6,719.2 502.1,720.3 503.6,720.4 505.1,722.3 506.6,722.0 508.1,723.5 509.6,722.3 511.1,723.9 512.6,724.5 514.1,725.9 515.6,726.7 517.1,725.9 518.6,727.7 520.1,727.5 521.6,728.5 523.1,728.1 524.6,728.8 526.1,729.6 527.6,731.0 529.1,731.5 530.6,731.2 532.1,732.0 533.6,733.3 535.1,732.8 536.6,733.5 538.1,734.4 539.5,734.7 541.0,734.0 542.5,735.3 544.0,736.5 545.5,738.2 547.0,738.3 548.5,738.5 550.0,739.4 551.5,739.1 553.0,740.0 554.5,740.1 556.0,740.7 557.5,740.4 559.0,740.5" stroke="#cd562c"/>
<path d="M687 698.5H1086" stroke-dasharray="1 4"/>
<path d="M684 698.5h5"/>
<path d="M684 710.5H1086" stroke-dasharray="1 4"/>
<path d="M684 710.5h5"/>
<path d="M686 722.5H1086" stroke-dasharray="1 4"/>
<path d="M684 722.5h5"/>
<path d="M688 735.5H1086" stroke-dasharray="1 4"/>
<path d="M684 735.5h5"/>
<path d="M685 747.5H1086" stroke-dasharray="1 4"/>
<path d="M684 747.5h5"/>
<path d="M687.5 692V757" stroke-dasharray="1 4"/>
<path d="M687.5 752V757"/>
<path d="M802.5 692V757" stroke-dasharray="1 4"/>
<path d="M802.5 752V757"/>
<path d="M916.5 692V757" stroke-dasharray="1 4"/>
<path d="M916.5 752V757"/>
<path d="M1031.5 692V757" stroke-dasharray="1 4"/>
<path d="M1031.5 752V757"/>
<path d="M683.5 690V758M683 757.5H1086"/>
<polyline points="683.5,757.5 685.0,757.3 686.5,757.2 688.0,756.9 689.5,756.9 691.0,756.3 692.5,756.2 694.0,755.8 695.5,755.8 697.0,755.5 698.5,755.2 700.0,755.0 701.5,754.8 703.0,754.6 704.4,754.2 705.9,754.2 707.4,753.5 708.9,753.2 710.4,753.0 711.9,752.4 713.4,752.0 714.9,751.8 716.4,751.8 717.9,751.3 719.4,750.2 720.9,750.5 722.4,749.7 723.9,749.7 725.4,749.8 726.9,749.3 728.4,748.1 729.9,748.5 731.4,747.8 732.9,747.7 734.4,747.1 735.9,747.0 737.4,746.3 738.9,746.2 740.4,745.1 741.9,745.0 743.4,745.0 744.8,744.2 746.3,738.0 747.8,743.5 749.3,742.5 750.8,742.0 752.3,740.7 753.8,740.8 755.3,739.3 756.8,739.6 758.3,739.6 759.8,737.9 761.3,738.1 762.8,736.0 764.3,736.6 765.8,735.5 767.3,734.4 768.8,733.9 770.3,732.2 771.8,733.1 773.3,733.1 774.8,731.9 776.3,730.0 777.8,730.3 779.3,729.4 780.8,728.6 782.3,727.7 783.8,728.6 785.2,727.4 786.7,726.5 788.2,725.9 789.7,726.2 791.2,724.1 792.7,723.0 794.2,723.3 795.7,723.8 797.2,721.4 798.7,723.1 800.2,721.9 801.7,719.5 803.2,720.0 804.7,719.7 806.2,719.9 807.7,717.7 809.2,718.4 810.7,718.5 812.2,716.8 813.7,715.5 815.2,716.5 816.7,716.6 818.2,713.9 819.7,715.3 821.2,715.3 822.7,712.3 824.2,712.3 825.6,711.0 827.1,713.0 828.6,710.6 830.1,710.3 831.6,711.3 833.1,708.2 834.6,708.0 836.1,707.6 837.6,708.7 839.1,708.1 840.6,707.5 842.1,707.0 843.6,705.8 845.1,704.1 846.6,702.7 848.1,702.7 849.6,704.3 851.1,702.9 852.6,701.3 854.1,702.8 855.6,702.2 857.1,700.1 858.6,701.6 860.1,701.4 861.6,702.2 863.1,701.3 864.6,699.5 866.0,700.9 867.5,701.1 869.0,697.5 870.5,697.4 872.0,697.6 873.5,695.5 875.0,698.1 876.5,697.5 878.0,698.1 879.5,700.1 881.0,694.9 882.5,698.0 884.0,697.4 885.5,697.0 887.0,700.7 888.5,698.1 890.0,695.7 891.5,693.0 893.0,695.7 894.5,696.4 896.0,697.5 897.5,696.8 899.0,695.7 900.5,695.9 902.0,693.7 903.5,693.7 904.9,696.1 906.4,692.9 907.9,694.9 909.4,696.2 910.9,697.4 912.4,696.5 913.9,694.4 915.4,694.6 916.9,695.8 918.4,694.7 919.9,694.0 921.4,695.8 922.9,695.1 924.4,694.7 925.9,692.5 927.4,693.6 928.9,695.3 930.4,694.0 931.9,695.5 933.4,696.7 934.9,691.3 936.4,693.5 937.9,696.8 939.4,694.4 940.9,693.4 942.4,693.8 943.9,693.9 945.3,697.6 946.8,698.9 948.3,693.9 949.8,697.1 951.3,696.3 952.8,697.3 954.3,697.1 955.8,696.5 957.3,696.1 958.8,695.8 960.3,698.0 961.8,698.8 963.3,700.0 964.8,699.5 966.3,697.9 967.8,700.0 969.3,699.6 970.8,703.0 972.3,699.2 973.8,699.9 975.3,699.9 976.8,699.2 978.3,700.3 979.8,700.1 981.3,702.5 982.8,703.8 984.3,704.1 985.7,705.7 987.2,704.7 988.7,705.6 990.2,705.0 991.7,705.5 993.2,707.7 994.7,708.3 996.2,710.5 997.7,707.9 999.2,709.1 1000.7,710.8 1002.2,711.3 1003.7,713.3 1005.2,712.3 1006.7,712.8 1008.2,714.8 1009.7,716.8 1011.2,716.6 1012.7,716.2 1014.2,715.7 1015.7,716.3 1017.2,718.2 1018.7,719.3 1020.2,718.1 1021.7,721.0 1023.2,719.6 1024.7,720.1 1026.1,721.2 1027.6,722.6 1029.1,722.6 1030.6,721.9 1032.1,723.8 1033.6,723.8 1035.1,724.9 1036.6,725.8 1038.1,726.5 1039.6,727.7 1041.1,727.4 1042.6,727.7 1044.1,728.7 1045.6,728.9 1047.1,729.8 1048.6,730.3 1050.1,730.5 1051.6,731.0 1053.1,731.2 1054.6,731.3 1056.1,732.8 1057.6,732.7 1059.1,733.2 1060.6,733.6 1062.1,733.8 1063.6,733.8 1065.1,734.1 1066.5,735.2 1068.0,736.5 1069.5,736.5 1071.0,737.0 1072.5,738.5 1074.0,738.9 1075.5,739.3 1077.0,739.5 1078.5,740.6 1080.0,740.0 1081.5,741.7 1083.0,740.9 1084.5,740.7 1086.0,741.3" stroke="#5a55b5"/>
<polyline points="683.5,757.5 685.0,757.1 686.5,757.1 688.0,756.8 689.5,756.6 691.0,756.7 692.5,756.6 694.0,756.1 695.5,755.7 697.0,755.4 698.5,755.1 700.0,755.2 701.5,754.9 703.0,754.7 704.4,754.1 705.9,754.0 707.4,753.6 708.9,753.5 710.4,752.9 711.9,752.7 713.4,751.9 714.9,751.9 716.4,751.4 717.9,751.0 719.4,750.5 720.9,750.5 722.4,749.8 723.9,750.0 725.4,749.3 726.9,749.2 728.4,748.3 729.9,748.5 731.4,747.8 732.9,747.8 734.4,747.4 735.9,746.7 737.4,745.6 738.9,746.1 740.4,744.7 741.9,745.0 743.4,744.8 744.8,744.1 746.3,738.3 747.8,743.0 749.3,742.9 750.8,742.0 752.3,741.0 753.8,740.9 755.3,739.1 756.8,739.1 758.3,739.3 759.8,737.9 761.3,738.3 762.8,736.4 764.3,736.6 765.8,735.3 767.3,734.7 768.8,734.2 770.3,733.3 771.8,733.4 773.3,732.7 774.8,731.1 776.3,730.5 777.8,730.7 779.3,730.0 780.8,729.0 782.3,727.2 783.8,728.7 785.2,727.4 786.7,727.2 788.2,725.5 789.7,726.3 791.2,724.3 792.7,723.7 794.2,722.9 795.7,722.6 797.2,721.0 798.7,722.7 800.2,722.7 801.7,719.5 803.2,720.0 804.7,719.6 806.2,719.7 807.7,718.2 809.2,718.1 810.7,717.9 812.2,716.4 813.7,715.2 815.2,716.3 816.7,715.8 818.2,712.7 819.7,713.9 821.2,714.9 822.7,713.4 824.2,713.9 825.6,711.1 827.1,712.7 828.6,710.8 830.1,709.8 831.6,711.1 833.1,708.5 834.6,708.1 836.1,706.9 837.6,708.7 839.1,707.7 840.6,707.8 842.1,707.4 843.6,705.8 845.1,706.8 846.6,703.2 848.1,702.4 849.6,704.9 851.1,703.7 852.6,700.7 854.1,703.8 855.6,702.0 857.1,701.0 858.6,702.3 860.1,702.3 861.6,703.5 863.1,699.6 864.6,699.2 866.0,701.8 867.5,700.8 869.0,699.0 870.5,700.6 872.0,699.6 873.5,696.6 875.0,699.2 876.5,697.3 878.0,699.1 879.5,698.7 881.0,694.0 882.5,698.7 884.0,698.7 885.5,695.6 887.0,699.2 888.5,697.2 890.0,696.4 891.5,694.0 893.0,696.7 894.5,696.7 896.0,695.9 897.5,696.2 899.0,695.2 900.5,695.3 902.0,695.1 903.5,693.2 904.9,694.9 906.4,693.3 907.9,693.2 909.4,693.4 910.9,695.6 912.4,694.1 913.9,694.9 915.4,693.7 916.9,695.5 918.4,694.8 919.9,693.8 921.4,696.4 922.9,694.1 924.4,695.0 925.9,694.4 927.4,693.9 928.9,695.5 930.4,694.9 931.9,697.5 933.4,696.4 934.9,692.8 936.4,694.3 937.9,696.8 939.4,695.0 940.9,693.5 942.4,694.7 943.9,695.6 945.3,697.0 946.8,700.4 948.3,693.4 949.8,696.8 951.3,695.9 952.8,697.0 954.3,697.7 955.8,697.3 957.3,697.6 958.8,697.2 960.3,697.4 961.8,698.6 963.3,699.2 964.8,698.2 966.3,698.2 967.8,699.6 969.3,701.0 970.8,702.4 972.3,699.7 973.8,699.5 975.3,700.2 976.8,702.4 978.3,699.7 979.8,701.6 981.3,703.5 982.8,704.6 984.3,703.6 985.7,702.9 987.2,704.9 988.7,704.9 990.2,705.5 991.7,705.7 993.2,708.3 994.7,707.8 996.2,710.3 997.7,708.5 999.2,710.3 1000.7,709.6 1002.2,710.5 1003.7,712.3 1005.2,712.6 1006.7,713.0 1008.2,714.5 1009.7,716.6 1011.2,716.2 1012.7,716.5 1014.2,716.2 1015.7,717.0 1017.2,717.8 1018.7,718.1 1020.2,719.0 1021.7,720.9 1023.2,719.7 1024.7,719.3 1026.1,721.4 1027.6,722.3 1029.1,722.6 1030.6,720.7 1032.1,722.6 1033.6,724.1 1035.1,725.6 1036.6,725.8 1038.1,727.6 1039.6,727.5 1041.1,727.8 1042.6,727.4 1044.1,729.1 1045.6,729.0 1047.1,728.3 1048.6,730.4 1050.1,730.9 1051.6,730.7 1053.1,730.5 1054.6,731.6 1056.1,731.8 1057.6,732.5 1059.1,733.5 1060.6,733.8 1062.1,734.1 1063.6,734.3 1065.1,735.0 1066.5,735.6 1068.0,736.4 1069.5,735.9 1071.0,737.1 1072.5,738.9 1074.0,740.0 1075.5,739.1 1077.0,739.9 1078.5,740.5 1080.0,740.6 1081.5,741.6 1083.0,740.8 1084.5,741.1 1086.0,741.9" stroke="#5fa060"/>
<polyline points="683.5,757.5 685.0,757.3 686.5,757.1 688.0,756.7 689.5,756.6 691.0,756.5 692.5,756.3 694.0,756.2 695.5,755.9 697.0,755.3 698.5,755.4 700.0,755.3 701.5,754.9 703.0,754.8 704.4,754.2 705.9,754.3 707.4,753.7 708.9,753.2 710.4,753.2 711.9,752.7 713.4,752.2 714.9,751.9 716.4,751.5 717.9,751.3 719.4,750.6 720.9,750.0 722.4,749.8 723.9,749.4 725.4,749.3 726.9,749.2 728.4,748.3 729.9,748.2 731.4,747.8 732.9,747.4 734.4,747.2 735.9,746.7 737.4,746.6 738.9,746.2 740.4,745.1 741.9,745.1 743.4,744.9 744.8,744.3 746.3,738.1 747.8,742.8 749.3,742.4 750.8,742.0 752.3,740.1 753.8,741.5 755.3,739.7 756.8,739.0 758.3,739.3 759.8,737.9 761.3,738.5 762.8,736.6 764.3,736.2 765.8,735.3 767.3,734.7 768.8,734.4 770.3,733.5 771.8,733.3 773.3,733.0 774.8,730.6 776.3,730.6 777.8,731.3 779.3,729.6 780.8,729.0 782.3,727.9 783.8,729.2 785.2,727.9 786.7,727.7 788.2,726.3 789.7,726.4 791.2,724.4 792.7,723.3 794.2,723.0 795.7,722.8 797.2,721.6 798.7,723.5 800.2,721.1 801.7,720.0 803.2,720.3 804.7,719.8 806.2,720.5 807.7,718.3 809.2,719.1 810.7,718.0 812.2,716.6 813.7,715.1 815.2,716.0 816.7,716.2 818.2,714.0 819.7,713.8 821.2,714.4 822.7,713.6 824.2,713.2 825.6,710.8 827.1,711.9 828.6,711.3 830.1,711.0 831.6,709.9 833.1,708.3 834.6,708.2 836.1,707.3 837.6,709.0 839.1,708.2 840.6,707.7 842.1,707.5 843.6,706.2 845.1,707.1 846.6,703.7 848.1,702.8 849.6,705.1 851.1,704.0 852.6,699.6 854.1,704.0 855.6,702.0 857.1,700.6 858.6,702.2 860.1,700.5 861.6,702.5 863.1,701.9 864.6,698.1 866.0,701.1 867.5,700.5 869.0,698.7 870.5,699.6 872.0,698.5 873.5,696.9 875.0,698.1 876.5,699.1 878.0,698.7 879.5,699.9 881.0,694.2 882.5,697.0 884.0,698.9 885.5,695.2 887.0,698.7 888.5,698.3 890.0,696.6 891.5,696.9 893.0,696.8 894.5,696.8 896.0,698.8 897.5,695.3 899.0,696.0 900.5,694.9 902.0,692.4 903.5,695.1 904.9,695.8 906.4,694.6 907.9,694.1 909.4,693.7 910.9,695.9 912.4,693.8 913.9,695.5 915.4,693.6 916.9,695.4 918.4,693.1 919.9,693.1 921.4,696.3 922.9,694.3 924.4,693.9 925.9,694.5 927.4,693.5 928.9,694.5 930.4,695.0 931.9,697.0 933.4,696.0 934.9,693.1 936.4,694.4 937.9,696.3 939.4,696.6 940.9,692.3 942.4,695.1 943.9,696.6 945.3,697.5 946.8,699.8 948.3,695.6 949.8,696.0 951.3,696.3 952.8,696.8 954.3,696.7 955.8,697.6 957.3,697.7 958.8,696.0 960.3,696.5 961.8,697.9 963.3,697.9 964.8,699.7 966.3,697.0 967.8,698.7 969.3,700.6 970.8,701.9 972.3,701.2 973.8,699.9 975.3,700.8 976.8,700.2 978.3,699.7 979.8,701.0 981.3,703.7 982.8,703.7 984.3,703.1 985.7,703.8 987.2,703.1 988.7,705.0 990.2,705.9 991.7,706.2 993.2,707.6 994.7,706.8 996.2,709.7 997.7,707.1 999.2,709.1 1000.7,710.6 1002.2,711.4 1003.7,714.0 1005.2,712.8 1006.7,713.0 1008.2,713.5 1009.7,716.6 1011.2,716.3 1012.7,717.1 1014.2,717.1 1015.7,717.4 1017.2,718.1 1018.7,718.2 1020.2,719.2 1021.7,720.5 1023.2,720.3 1024.7,720.1 1026.1,721.2 1027.6,722.6 1029.1,721.6 1030.6,721.1 1032.1,724.4 1033.6,724.5 1035.1,724.7 1036.6,726.1 1038.1,727.1 1039.6,726.9 1041.1,727.1 1042.6,727.5 1044.1,729.0 1045.6,728.6 1047.1,729.3 1048.6,730.2 1050.1,730.7 1051.6,730.4 1053.1,730.7 1054.6,731.5 1056.1,732.4 1057.6,733.6 1059.1,733.1 1060.6,733.4 1062.1,734.4 1063.6,734.5 1065.1,734.5 1066.5,736.1 1068.0,735.9 1069.5,736.3 1071.0,737.1 1072.5,737.9 1074.0,738.9 1075.5,739.2 1077.0,739.5 1078.5,740.8 1080.0,740.1 1081.5,741.4 1083.0,740.8 1084.5,741.3 1086.0,741.4" stroke="#dcae3a"/>
<polyline points="683.5,757.5 685.0,757.3 686.5,757.1 688.0,756.8 689.5,756.7 691.0,756.5 692.5,756.3 694.0,756.1 695.5,755.8 697.0,755.6 698.5,755.2 700.0,755.1 701.5,755.0 703.0,754.7 704.4,754.2 705.9,754.3 707.4,753.7 708.9,753.4 710.4,753.1 711.9,752.8 713.4,752.0 714.9,752.0 716.4,751.3 717.9,751.3 719.4,750.4 720.9,750.4 722.4,749.8 723.9,749.8 725.4,749.5 726.9,749.0 728.4,748.3 729.9,748.4 731.4,747.6 732.9,747.5 734.4,747.0 735.9,746.7 737.4,746.2 738.9,746.0 740.4,745.2 741.9,745.2 743.4,744.8 744.8,744.1 746.3,738.1 747.8,743.1 749.3,742.5 750.8,742.0 752.3,740.6 753.8,740.9 755.3,739.6 756.8,738.9 758.3,739.4 759.8,738.0 761.3,738.4 762.8,736.6 764.3,736.3 765.8,735.5 767.3,734.6 768.8,734.3 770.3,732.9 771.8,732.8 773.3,733.0 774.8,731.3 776.3,730.9 777.8,731.0 779.3,729.8 780.8,728.9 782.3,727.9 783.8,728.8 785.2,727.6 786.7,726.8 788.2,725.7 789.7,726.0 791.2,724.6 792.7,723.6 794.2,722.4 795.7,723.2 797.2,721.4 798.7,722.5 800.2,722.0 801.7,719.4 803.2,720.3 804.7,720.4 806.2,720.2 807.7,718.2 809.2,718.4 810.7,717.5 812.2,716.3 813.7,715.6 815.2,717.0 816.7,715.9 818.2,713.6 819.7,713.9 821.2,714.4 822.7,713.5 824.2,712.6 825.6,710.5 827.1,712.2 828.6,710.6 830.1,710.5 831.6,710.8 833.1,708.8 834.6,708.5 836.1,707.3 837.6,708.8 839.1,707.5 840.6,707.7 842.1,707.4 843.6,705.9 845.1,705.3 846.6,703.6 848.1,703.1 849.6,704.0 851.1,703.9 852.6,701.3 854.1,703.3 855.6,702.4 857.1,700.9 858.6,701.7 860.1,702.2 861.6,703.1 863.1,701.0 864.6,698.5 866.0,700.3 867.5,700.9 869.0,699.1 870.5,699.5 872.0,698.6 873.5,697.2 875.0,698.2 876.5,698.1 878.0,698.6 879.5,698.8 881.0,694.2 882.5,698.7 884.0,697.7 885.5,696.8 887.0,699.2 888.5,698.4 890.0,695.6 891.5,694.9 893.0,696.4 894.5,696.7 896.0,697.2 897.5,697.0 899.0,695.0 900.5,695.3 902.0,694.1 903.5,694.4 904.9,696.0 906.4,693.5 907.9,693.3 909.4,694.8 910.9,695.3 912.4,694.9 913.9,694.8 915.4,693.8 916.9,695.6 918.4,694.4 919.9,693.5 921.4,695.8 922.9,694.6 924.4,694.5 925.9,693.5 927.4,693.7 928.9,694.1 930.4,694.1 931.9,696.0 933.4,696.5 934.9,692.9 936.4,694.4 937.9,695.8 939.4,695.0 940.9,693.7 942.4,695.6 943.9,694.9 945.3,697.6 946.8,699.3 948.3,694.2 949.8,696.6 951.3,695.8 952.8,697.9 954.3,697.2 955.8,696.8 957.3,696.9 958.8,696.5 960.3,696.4 961.8,698.4 963.3,699.5 964.8,698.6 966.3,698.0 967.8,699.1 969.3,699.9 970.8,702.0 972.3,700.4 973.8,699.7 975.3,700.5 976.8,700.8 978.3,701.0 979.8,700.5 981.3,702.7 982.8,704.7 984.3,703.0 985.7,704.2 987.2,704.8 988.7,705.9 990.2,705.4 991.7,705.8 993.2,708.4 994.7,707.6 996.2,710.2 997.7,708.9 999.2,709.6 1000.7,709.8 1002.2,711.4 1003.7,712.6 1005.2,712.8 1006.7,713.0 1008.2,713.6 1009.7,717.0 1011.2,716.3 1012.7,716.7 1014.2,716.6 1015.7,716.9 1017.2,717.5 1018.7,718.7 1020.2,718.8 1021.7,720.1 1023.2,719.6 1024.7,719.7 1026.1,721.2 1027.6,722.5 1029.1,722.3 1030.6,721.7 1032.1,723.2 1033.6,724.2 1035.1,725.0 1036.6,725.7 1038.1,726.8 1039.6,727.5 1041.1,727.3 1042.6,727.4 1044.1,729.0 1045.6,728.5 1047.1,728.9 1048.6,730.0 1050.1,730.5 1051.6,730.4 1053.1,731.0 1054.6,732.1 1056.1,732.6 1057.6,733.1 1059.1,733.2 1060.6,733.8 1062.1,733.8 1063.6,734.3 1065.1,734.6 1066.5,735.6 1068.0,736.3 1069.5,736.1 1071.0,737.0 1072.5,738.4 1074.0,739.4 1075.5,739.2 1077.0,739.6 1078.5,740.5 1080.0,740.6 1081.5,741.4 1083.0,741.0 1084.5,741.2 1086.0,741.5" stroke="#cd562c"/>
</g>
<g font-family='"Liberation Sans", sans-serif' font-size="25" fill="#000" stroke="#000" stroke-width="0.35">
<text x="327.5" y="78" textLength="53" lengthAdjust="spacingAndGlyphs">Bin 1</text>
<text x="133.4" y="201" textLength="51.4" lengthAdjust="spacingAndGlyphs">4090</text>
<text x="247.4" y="201" textLength="51.4" lengthAdjust="spacingAndGlyphs">4100</text>
<text x="362.4" y="201" textLength="51.4" lengthAdjust="spacingAndGlyphs">4110</text>
<text x="476.4" y="201" textLength="51.4" lengthAdjust="spacingAndGlyphs">4120</text>
<text y="238"><tspan x="250" textLength="148" lengthAdjust="spacingAndGlyphs">Wavenumber </tspan><tspan x="400.5" textLength="37.6" lengthAdjust="spacingAndGlyphs">[cm</tspan><tspan x="439.4" dy="-11" font-size="17.5" textLength="14.3" lengthAdjust="spacingAndGlyphs">-1</tspan><tspan x="456.2" dy="11" textLength="6.2" lengthAdjust="spacingAndGlyphs">]</tspan></text>
<text x="111.9" y="118" textLength="38.6" lengthAdjust="spacingAndGlyphs">100</text>
<text x="124.1" y="130" textLength="26.4" lengthAdjust="spacingAndGlyphs">80</text>
<text x="124.1" y="143" textLength="26.4" lengthAdjust="spacingAndGlyphs">60</text>
<text x="124.1" y="155" textLength="26.4" lengthAdjust="spacingAndGlyphs">40</text>
<text x="124.1" y="167" textLength="26.4" lengthAdjust="spacingAndGlyphs">20</text>
<text transform="translate(97 158.8) rotate(-90)" font-size="27" textLength="51.8" lengthAdjust="spacingAndGlyphs">ADU</text>
<text x="854.5" y="78" textLength="55.3" lengthAdjust="spacingAndGlyphs">Bin 2</text>
<text x="661.4" y="201" textLength="51.4" lengthAdjust="spacingAndGlyphs">4090</text>
<text x="776.4" y="201" textLength="51.4" lengthAdjust="spacingAndGlyphs">4100</text>
<text x="890.4" y="201" textLength="51.4" lengthAdjust="spacingAndGlyphs">4110</text>
<text x="1005.4" y="201" textLength="51.4" lengthAdjust="spacingAndGlyphs">4120</text>
<text y="238"><tspan x="777" textLength="148" lengthAdjust="spacingAndGlyphs">Wavenumber </tspan><tspan x="927.5" textLength="37.6" lengthAdjust="spacingAndGlyphs">[cm</tspan><tspan x="966.4" dy="-11" font-size="17.5" textLength="14.3" lengthAdjust="spacingAndGlyphs">-1</tspan><tspan x="983.2" dy="11" textLength="6.2" lengthAdjust="spacingAndGlyphs">]</tspan></text>
<text x="638.9" y="119" textLength="38.6" lengthAdjust="spacingAndGlyphs">100</text>
<text x="651.1" y="131" textLength="26.4" lengthAdjust="spacingAndGlyphs">80</text>
<text x="651.1" y="143" textLength="26.4" lengthAdjust="spacingAndGlyphs">60</text>
<text x="651.1" y="155" textLength="26.4" lengthAdjust="spacingAndGlyphs">40</text>
<text x="651.1" y="167" textLength="26.4" lengthAdjust="spacingAndGlyphs">20</text>
<text transform="translate(624 158.8) rotate(-90)" font-size="27" textLength="51.8" lengthAdjust="spacingAndGlyphs">ADU</text>
<text x="327.5" y="275" textLength="55.3" lengthAdjust="spacingAndGlyphs">Bin 3</text>
<text x="133.4" y="399" textLength="51.4" lengthAdjust="spacingAndGlyphs">4090</text>
<text x="247.4" y="399" textLength="51.4" lengthAdjust="spacingAndGlyphs">4100</text>
<text x="362.4" y="399" textLength="51.4" lengthAdjust="spacingAndGlyphs">4110</text>
<text x="476.4" y="399" textLength="51.4" lengthAdjust="spacingAndGlyphs">4120</text>
<text y="436"><tspan x="250" textLength="148" lengthAdjust="spacingAndGlyphs">Wavenumber </tspan><tspan x="400.5" textLength="37.6" lengthAdjust="spacingAndGlyphs">[cm</tspan><tspan x="439.4" dy="-11" font-size="17.5" textLength="14.3" lengthAdjust="spacingAndGlyphs">-1</tspan><tspan x="456.2" dy="11" textLength="6.2" lengthAdjust="spacingAndGlyphs">]</tspan></text>
<text x="111.9" y="315" textLength="38.6" lengthAdjust="spacingAndGlyphs">100</text>
<text x="124.1" y="328" textLength="26.4" lengthAdjust="spacingAndGlyphs">80</text>
<text x="124.1" y="340" textLength="26.4" lengthAdjust="spacingAndGlyphs">60</text>
<text x="124.1" y="353" textLength="26.4" lengthAdjust="spacingAndGlyphs">40</text>
<text x="124.1" y="365" textLength="26.4" lengthAdjust="spacingAndGlyphs">20</text>
<text transform="translate(97 356.3) rotate(-90)" font-size="27" textLength="51.8" lengthAdjust="spacingAndGlyphs">ADU</text>
<text x="854.5" y="275" textLength="55.3" lengthAdjust="spacingAndGlyphs">Bin 4</text>
<text x="661.4" y="399" textLength="51.4" lengthAdjust="spacingAndGlyphs">4090</text>
<text x="776.4" y="399" textLength="51.4" lengthAdjust="spacingAndGlyphs">4100</text>
<text x="890.4" y="399" textLength="51.4" lengthAdjust="spacingAndGlyphs">4110</text>
<text x="1005.4" y="399" textLength="51.4" lengthAdjust="spacingAndGlyphs">4120</text>
<text y="436"><tspan x="777" textLength="148" lengthAdjust="spacingAndGlyphs">Wavenumber </tspan><tspan x="927.5" textLength="37.6" lengthAdjust="spacingAndGlyphs">[cm</tspan><tspan x="966.4" dy="-11" font-size="17.5" textLength="14.3" lengthAdjust="spacingAndGlyphs">-1</tspan><tspan x="983.2" dy="11" textLength="6.2" lengthAdjust="spacingAndGlyphs">]</tspan></text>
<text x="638.9" y="310" textLength="38.6" lengthAdjust="spacingAndGlyphs">100</text>
<text x="651.1" y="324" textLength="26.4" lengthAdjust="spacingAndGlyphs">80</text>
<text x="651.1" y="337" textLength="26.4" lengthAdjust="spacingAndGlyphs">60</text>
<text x="651.1" y="351" textLength="26.4" lengthAdjust="spacingAndGlyphs">40</text>
<text x="651.1" y="364" textLength="26.4" lengthAdjust="spacingAndGlyphs">20</text>
<text transform="translate(624 356.3) rotate(-90)" font-size="27" textLength="51.8" lengthAdjust="spacingAndGlyphs">ADU</text>
<text x="327.5" y="473" textLength="55.3" lengthAdjust="spacingAndGlyphs">Bin 5</text>
<text x="133.4" y="596" textLength="51.4" lengthAdjust="spacingAndGlyphs">4090</text>
<text x="247.4" y="596" textLength="51.4" lengthAdjust="spacingAndGlyphs">4100</text>
<text x="362.4" y="596" textLength="51.4" lengthAdjust="spacingAndGlyphs">4110</text>
<text x="476.4" y="596" textLength="51.4" lengthAdjust="spacingAndGlyphs">4120</text>
<text y="633"><tspan x="250" textLength="148" lengthAdjust="spacingAndGlyphs">Wavenumber </tspan><tspan x="400.5" textLength="37.6" lengthAdjust="spacingAndGlyphs">[cm</tspan><tspan x="439.4" dy="-11" font-size="17.5" textLength="14.3" lengthAdjust="spacingAndGlyphs">-1</tspan><tspan x="456.2" dy="11" textLength="6.2" lengthAdjust="spacingAndGlyphs">]</tspan></text>
<text x="124.1" y="518" textLength="26.4" lengthAdjust="spacingAndGlyphs">80</text>
<text x="124.1" y="532" textLength="26.4" lengthAdjust="spacingAndGlyphs">60</text>
<text x="124.1" y="546" textLength="26.4" lengthAdjust="spacingAndGlyphs">40</text>
<text x="124.1" y="560" textLength="26.4" lengthAdjust="spacingAndGlyphs">20</text>
<text transform="translate(110 553.8) rotate(-90)" font-size="27" textLength="51.8" lengthAdjust="spacingAndGlyphs">ADU</text>
<text x="854.5" y="473" textLength="55.3" lengthAdjust="spacingAndGlyphs">Bin 6</text>
<text x="661.4" y="596" textLength="51.4" lengthAdjust="spacingAndGlyphs">4090</text>
<text x="776.4" y="596" textLength="51.4" lengthAdjust="spacingAndGlyphs">4100</text>
<text x="890.4" y="596" textLength="51.4" lengthAdjust="spacingAndGlyphs">4110</text>
<text x="1005.4" y="596" textLength="51.4" lengthAdjust="spacingAndGlyphs">4120</text>
<text y="633"><tspan x="777" textLength="148" lengthAdjust="spacingAndGlyphs">Wavenumber </tspan><tspan x="927.5" textLength="37.6" lengthAdjust="spacingAndGlyphs">[cm</tspan><tspan x="966.4" dy="-11" font-size="17.5" textLength="14.3" lengthAdjust="spacingAndGlyphs">-1</tspan><tspan x="983.2" dy="11" textLength="6.2" lengthAdjust="spacingAndGlyphs">]</tspan></text>
<text x="651.1" y="512" textLength="26.4" lengthAdjust="spacingAndGlyphs">80</text>
<text x="651.1" y="527" textLength="26.4" lengthAdjust="spacingAndGlyphs">60</text>
<text x="651.1" y="543" textLength="26.4" lengthAdjust="spacingAndGlyphs">40</text>
<text x="651.1" y="559" textLength="26.4" lengthAdjust="spacingAndGlyphs">20</text>
<text transform="translate(637 553.8) rotate(-90)" font-size="27" textLength="51.8" lengthAdjust="spacingAndGlyphs">ADU</text>
<text x="327.5" y="670" textLength="55.3" lengthAdjust="spacingAndGlyphs">Bin 7</text>
<text x="133.4" y="793" textLength="51.4" lengthAdjust="spacingAndGlyphs">4090</text>
<text x="247.4" y="793" textLength="51.4" lengthAdjust="spacingAndGlyphs">4100</text>
<text x="362.4" y="793" textLength="51.4" lengthAdjust="spacingAndGlyphs">4110</text>
<text x="476.4" y="793" textLength="51.4" lengthAdjust="spacingAndGlyphs">4120</text>
<text y="830"><tspan x="250" textLength="148" lengthAdjust="spacingAndGlyphs">Wavenumber </tspan><tspan x="400.5" textLength="37.6" lengthAdjust="spacingAndGlyphs">[cm</tspan><tspan x="439.4" dy="-11" font-size="17.5" textLength="14.3" lengthAdjust="spacingAndGlyphs">-1</tspan><tspan x="456.2" dy="11" textLength="6.2" lengthAdjust="spacingAndGlyphs">]</tspan></text>
<text x="124.1" y="719" textLength="26.4" lengthAdjust="spacingAndGlyphs">60</text>
<text x="124.1" y="737" textLength="26.4" lengthAdjust="spacingAndGlyphs">40</text>
<text x="124.1" y="754" textLength="26.4" lengthAdjust="spacingAndGlyphs">20</text>
<text transform="translate(110 750.8) rotate(-90)" font-size="27" textLength="51.8" lengthAdjust="spacingAndGlyphs">ADU</text>
<text x="854.5" y="670" textLength="55.3" lengthAdjust="spacingAndGlyphs">Bin 8</text>
<text x="661.4" y="793" textLength="51.4" lengthAdjust="spacingAndGlyphs">4090</text>
<text x="776.4" y="793" textLength="51.4" lengthAdjust="spacingAndGlyphs">4100</text>
<text x="890.4" y="793" textLength="51.4" lengthAdjust="spacingAndGlyphs">4110</text>
<text x="1005.4" y="793" textLength="51.4" lengthAdjust="spacingAndGlyphs">4120</text>
<text y="830"><tspan x="777" textLength="148" lengthAdjust="spacingAndGlyphs">Wavenumber </tspan><tspan x="927.5" textLength="37.6" lengthAdjust="spacingAndGlyphs">[cm</tspan><tspan x="966.4" dy="-11" font-size="17.5" textLength="14.3" lengthAdjust="spacingAndGlyphs">-1</tspan><tspan x="983.2" dy="11" textLength="6.2" lengthAdjust="spacingAndGlyphs">]</tspan></text>
<text x="651.1" y="710" textLength="26.4" lengthAdjust="spacingAndGlyphs">50</text>
<text x="651.1" y="722" textLength="26.4" lengthAdjust="spacingAndGlyphs">40</text>
<text x="651.1" y="734" textLength="26.4" lengthAdjust="spacingAndGlyphs">30</text>
<text x="651.1" y="747" textLength="26.4" lengthAdjust="spacingAndGlyphs">20</text>
<text x="651.1" y="759" textLength="26.4" lengthAdjust="spacingAndGlyphs">10</text>
<text transform="translate(637 750.8) rotate(-90)" font-size="27" textLength="51.8" lengthAdjust="spacingAndGlyphs">ADU</text>
</g></svg>
</body></html>
